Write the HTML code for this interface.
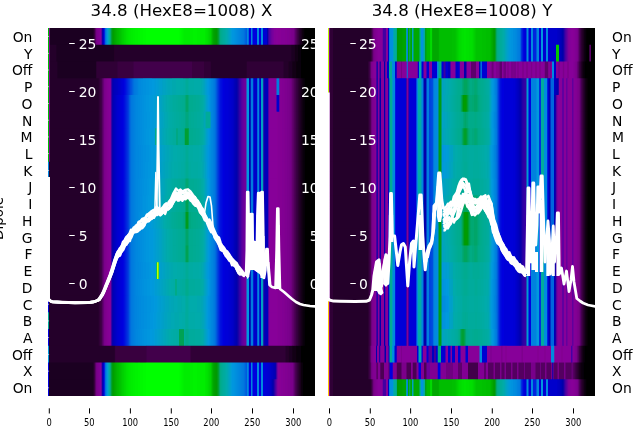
<!DOCTYPE html>
<html><head><meta charset="utf-8"><title>34.8 (HexE8=1008)</title>
<style>
html,body{margin:0;padding:0;background:#fff}
svg{display:block;font-family:"DejaVu Sans","Liberation Sans",sans-serif}
.ln polyline{fill:none;stroke:#fff;stroke-linejoin:round;stroke-linecap:butt}
</style></head><body>
<svg width="640" height="440" viewBox="0 0 640 440">
<rect width="640" height="440" fill="#fff"/>
<defs><filter id="gf" filterUnits="userSpaceOnUse" x="0" y="0" width="640" height="440"><feOffset dx="0" dy="0"/></filter><clipPath id="cl"><rect x="48" y="28" width="267.1" height="368"/></clipPath><clipPath id="cr"><rect x="328" y="28" width="267" height="368"/></clipPath></defs>
<g clip-path="url(#cl)">
<g stroke-width="18" fill="none">
<g transform="translate(0,28.000)"><path stroke="#00bd00" d="M48 9h1"/><path stroke="#810093" d="M49 9h1"/><path stroke="#1b0021" d="M50 9h43"/><path stroke="#24002a" d="M93 9h1"/><path stroke="#39003f" d="M94 9h1"/><path stroke="#5a0066" d="M95 9h1"/><path stroke="#750084" d="M96 9h1"/><path stroke="#7b008d" d="M97 9h1"/><path stroke="#7e0090" d="M98 9h1"/><path stroke="#810093" d="M99 9h1"/><path stroke="#870096" d="M100 9h1"/><path stroke="#60009f" d="M101 9h1"/><path stroke="#0c00ab" d="M102 9h1"/><path stroke="#0000cc" d="M103 9h1"/><path stroke="#0024de" d="M104 9h1"/><path stroke="#006cde" d="M105 9h1"/><path stroke="#0087de" d="M106 9h1"/><path stroke="#0099d8" d="M107 9h1"/><path stroke="#00a5ba" d="M108 9h1"/><path stroke="#00ab9f" d="M109 9h1"/><path stroke="#00a87b" d="M110 9h1"/><path stroke="#009f39" d="M111 9h1"/><path stroke="#009c0f" d="M112 9h1"/><path stroke="#009f00" d="M113 9h1"/><path stroke="#00a500" d="M114 9h1"/><path stroke="#00ab00" d="M115 9h1"/><path stroke="#00b100" d="M116 9h1"/><path stroke="#00b700" d="M117 9h1"/><path stroke="#00ba00" d="M118 9h1"/><path stroke="#00c000" d="M119 9h1"/><path stroke="#00c300" d="M120 9h1"/><path stroke="#00c900" d="M121 9h1"/><path stroke="#00cf00" d="M122 9h1"/><path stroke="#00d200" d="M123 9h1"/><path stroke="#00d800" d="M124 9h1"/><path stroke="#00db00" d="M125 9h1"/><path stroke="#00e100" d="M126 9h1"/><path stroke="#00e400" d="M127 9h1"/><path stroke="#00e700" d="M128 9h1"/><path stroke="#00ea00" d="M129 9h2"/><path stroke="#00ed00" d="M131 9h2"/><path stroke="#00f000" d="M133 9h2"/><path stroke="#00f300" d="M135 9h3"/><path stroke="#00f600" d="M138 9h2"/><path stroke="#00f900" d="M140 9h3"/><path stroke="#00fc00" d="M143 9h3"/><path stroke="#00ff00" d="M146 9h33"/><path stroke="#00fc00" d="M179 9h1"/><path stroke="#00f900" d="M180 9h1"/><path stroke="#00f600" d="M181 9h1"/><path stroke="#00f300" d="M182 9h1"/><path stroke="#00f000" d="M183 9h1"/><path stroke="#00ed00" d="M184 9h6"/><path stroke="#00f000" d="M190 9h3"/><path stroke="#00f300" d="M193 9h4"/><path stroke="#00f000" d="M197 9h3"/><path stroke="#00ed00" d="M200 9h5"/><path stroke="#00e700" d="M205 9h1"/><path stroke="#00e400" d="M206 9h1"/><path stroke="#00e100" d="M207 9h1"/><path stroke="#00db00" d="M208 9h1"/><path stroke="#00d500" d="M209 9h1"/><path stroke="#00d200" d="M210 9h1"/><path stroke="#00c300" d="M211 9h1"/><path stroke="#00b100" d="M212 9h1"/><path stroke="#00a500" d="M213 9h1"/><path stroke="#009f00" d="M214 9h1"/><path stroke="#009c00" d="M215 9h1"/><path stroke="#009903" d="M216 9h1"/><path stroke="#009c15" d="M217 9h1"/><path stroke="#009f33" d="M218 9h1"/><path stroke="#00a563" d="M219 9h1"/><path stroke="#00ab87" d="M220 9h1"/><path stroke="#00ab90" d="M221 9h1"/><path stroke="#00ab96" d="M222 9h1"/><path stroke="#00ab9c" d="M223 9h1"/><path stroke="#00ab9f" d="M224 9h1"/><path stroke="#00aba5" d="M225 9h1"/><path stroke="#00abab" d="M226 9h1"/><path stroke="#00a8b1" d="M227 9h1"/><path stroke="#00a5ba" d="M228 9h1"/><path stroke="#00a2c3" d="M229 9h1"/><path stroke="#009fcf" d="M230 9h1"/><path stroke="#009cd8" d="M231 9h1"/><path stroke="#0096de" d="M232 9h2"/><path stroke="#0093de" d="M234 9h1"/><path stroke="#0090de" d="M235 9h1"/><path stroke="#008dde" d="M236 9h1"/><path stroke="#008ade" d="M237 9h1"/><path stroke="#0087de" d="M238 9h1"/><path stroke="#0084de" d="M239 9h1"/><path stroke="#0081de" d="M240 9h1"/><path stroke="#007ede" d="M241 9h1"/><path stroke="#007bde" d="M242 9h1"/><path stroke="#0078de" d="M243 9h1"/><path stroke="#006fde" d="M244 9h1"/><path stroke="#0063de" d="M245 9h1"/><path stroke="#005ade" d="M246 9h1"/><path stroke="#008ade" d="M247 9h1"/><path stroke="#006cde" d="M248 9h1"/><path stroke="#0000de" d="M249 9h2"/><path stroke="#0084de" d="M251 9h1"/><path stroke="#0042de" d="M252 9h1"/><path stroke="#0000de" d="M253 9h4"/><path stroke="#008ade" d="M257 9h2"/><path stroke="#0000de" d="M259 9h2"/><path stroke="#008ade" d="M261 9h2"/><path stroke="#0000d2" d="M263 9h4"/><path stroke="#0300ab" d="M267 9h1"/><path stroke="#3300a5" d="M268 9h1"/><path stroke="#51009f" d="M269 9h1"/><path stroke="#5d009f" d="M270 9h1"/><path stroke="#6c009c" d="M271 9h1"/><path stroke="#75009c" d="M272 9h1"/><path stroke="#7b009c" d="M273 9h1"/><path stroke="#840099" d="M274 9h2"/><path stroke="#870099" d="M276 9h2"/><path stroke="#870096" d="M278 9h3"/><path stroke="#840096" d="M281 9h4"/><path stroke="#840093" d="M285 9h2"/><path stroke="#810093" d="M287 9h2"/><path stroke="#810090" d="M289 9h1"/><path stroke="#7e0090" d="M290 9h1"/><path stroke="#7b008d" d="M291 9h1"/><path stroke="#7b008a" d="M292 9h1"/><path stroke="#78008a" d="M293 9h1"/><path stroke="#6c007b" d="M294 9h1"/><path stroke="#5a0069" d="M295 9h1"/><path stroke="#4e0057" d="M296 9h1"/><path stroke="#3f0048" d="M297 9h1"/><path stroke="#33003c" d="M298 9h1"/><path stroke="#27002d" d="M299 9h1"/><path stroke="#1e0024" d="M300 9h1"/><path stroke="#18001b" d="M301 9h1"/><path stroke="#0f000f" d="M302 9h1"/><path stroke="#09000c" d="M303 9h1"/><path stroke="#030003" d="M304 9h1"/><path stroke="#000000" d="M305 9h10"/></g>
<g transform="translate(0,44.727)"><path stroke="#00bd00" d="M48 9h1"/><path stroke="#810093" d="M49 9h1"/><path stroke="#24002a" d="M50 9h6"/><path stroke="#1e0024" d="M56 9h1"/><path stroke="#1b0021" d="M57 9h57"/><path stroke="#240027" d="M114 9h1"/><path stroke="#24002a" d="M115 9h176"/><path stroke="#1e0024" d="M291 9h1"/><path stroke="#1b0021" d="M292 9h2"/><path stroke="#1b001e" d="M294 9h1"/><path stroke="#120015" d="M295 9h3"/><path stroke="#09000c" d="M298 9h3"/><path stroke="#000000" d="M301 9h14"/></g>
<g transform="translate(0,61.455)"><path stroke="#00bd00" d="M48 9h1"/><path stroke="#810093" d="M49 9h1"/><path stroke="#24002a" d="M50 9h7"/><path stroke="#1e0024" d="M57 9h1"/><path stroke="#1b0021" d="M58 9h38"/><path stroke="#2a0030" d="M96 9h1"/><path stroke="#300036" d="M97 9h20"/><path stroke="#33003c" d="M117 9h1"/><path stroke="#39003f" d="M118 9h15"/><path stroke="#3c0045" d="M133 9h1"/><path stroke="#42004b" d="M134 9h58"/><path stroke="#39003f" d="M192 9h12"/><path stroke="#300036" d="M204 9h6"/><path stroke="#2d0033" d="M210 9h1"/><path stroke="#24002a" d="M211 9h35"/><path stroke="#27002d" d="M246 9h1"/><path stroke="#300036" d="M247 9h36"/><path stroke="#2a0030" d="M283 9h1"/><path stroke="#24002a" d="M284 9h4"/><path stroke="#210024" d="M288 9h1"/><path stroke="#1b0021" d="M289 9h3"/><path stroke="#150018" d="M292 9h1"/><path stroke="#120015" d="M293 9h3"/><path stroke="#0c000c" d="M296 9h1"/><path stroke="#09000c" d="M297 9h4"/><path stroke="#000000" d="M301 9h14"/></g>
<g transform="translate(0,78.182)"><path stroke="#00bd00" d="M48 9h1"/><path stroke="#810093" d="M49 9h1"/><path stroke="#24002a" d="M50 9h48"/><path stroke="#27002d" d="M98 9h1"/><path stroke="#300036" d="M99 9h1"/><path stroke="#39003f" d="M100 9h1"/><path stroke="#3f0048" d="M101 9h1"/><path stroke="#540060" d="M102 9h1"/><path stroke="#660075" d="M103 9h1"/><path stroke="#78008a" d="M104 9h1"/><path stroke="#7e008d" d="M105 9h1"/><path stroke="#810090" d="M106 9h1"/><path stroke="#840093" d="M107 9h1"/><path stroke="#840096" d="M108 9h1"/><path stroke="#870096" d="M109 9h1"/><path stroke="#810099" d="M110 9h1"/><path stroke="#3c00a2" d="M111 9h1"/><path stroke="#0900ab" d="M112 9h1"/><path stroke="#0000b4" d="M113 9h1"/><path stroke="#0000ba" d="M114 9h1"/><path stroke="#0000bd" d="M115 9h1"/><path stroke="#0000c0" d="M116 9h1"/><path stroke="#0000c3" d="M117 9h1"/><path stroke="#0000c9" d="M118 9h1"/><path stroke="#0000cc" d="M119 9h1"/><path stroke="#0000cf" d="M120 9h1"/><path stroke="#0000d5" d="M121 9h1"/><path stroke="#0000d8" d="M122 9h1"/><path stroke="#0000db" d="M123 9h1"/><path stroke="#0006de" d="M124 9h1"/><path stroke="#000fde" d="M125 9h1"/><path stroke="#001bde" d="M126 9h1"/><path stroke="#0027de" d="M127 9h1"/><path stroke="#0033de" d="M128 9h1"/><path stroke="#003fde" d="M129 9h1"/><path stroke="#004ede" d="M130 9h1"/><path stroke="#0057de" d="M131 9h1"/><path stroke="#0063de" d="M132 9h1"/><path stroke="#006fde" d="M133 9h1"/><path stroke="#0078de" d="M134 9h1"/><path stroke="#007bde" d="M135 9h1"/><path stroke="#007ede" d="M136 9h1"/><path stroke="#0081de" d="M137 9h1"/><path stroke="#0087de" d="M138 9h1"/><path stroke="#008ade" d="M139 9h2"/><path stroke="#008dde" d="M141 9h2"/><path stroke="#0090de" d="M143 9h3"/><path stroke="#0093de" d="M146 9h3"/><path stroke="#0096de" d="M149 9h3"/><path stroke="#0099de" d="M152 9h2"/><path stroke="#0099db" d="M154 9h1"/><path stroke="#0099d8" d="M155 9h1"/><path stroke="#009cd8" d="M156 9h1"/><path stroke="#009cd5" d="M157 9h1"/><path stroke="#009cd2" d="M158 9h1"/><path stroke="#009fcf" d="M159 9h1"/><path stroke="#009fcc" d="M160 9h2"/><path stroke="#009fc6" d="M162 9h1"/><path stroke="#00a2c3" d="M163 9h2"/><path stroke="#00a2c0" d="M165 9h1"/><path stroke="#00a5bd" d="M166 9h1"/><path stroke="#00a5ba" d="M167 9h1"/><path stroke="#00a5b7" d="M168 9h2"/><path stroke="#00a8b4" d="M170 9h2"/><path stroke="#00a8ae" d="M172 9h4"/><path stroke="#00abab" d="M176 9h4"/><path stroke="#00aba8" d="M180 9h3"/><path stroke="#00aba5" d="M183 9h2"/><path stroke="#00ab9f" d="M185 9h1"/><path stroke="#00ab99" d="M186 9h2"/><path stroke="#00ab9f" d="M188 9h1"/><path stroke="#00aba5" d="M189 9h5"/><path stroke="#00aba8" d="M194 9h6"/><path stroke="#00abab" d="M200 9h1"/><path stroke="#00a8ae" d="M201 9h1"/><path stroke="#00a8b4" d="M202 9h1"/><path stroke="#00a5ba" d="M203 9h1"/><path stroke="#00a2c0" d="M204 9h1"/><path stroke="#009fcc" d="M205 9h1"/><path stroke="#009cd2" d="M206 9h1"/><path stroke="#0099db" d="M207 9h1"/><path stroke="#0096de" d="M208 9h1"/><path stroke="#0090de" d="M209 9h1"/><path stroke="#008dde" d="M210 9h1"/><path stroke="#0087de" d="M211 9h1"/><path stroke="#0084de" d="M212 9h1"/><path stroke="#007ede" d="M213 9h1"/><path stroke="#0078de" d="M214 9h1"/><path stroke="#006cde" d="M215 9h1"/><path stroke="#005ade" d="M216 9h1"/><path stroke="#0045de" d="M217 9h1"/><path stroke="#0033de" d="M218 9h1"/><path stroke="#0021de" d="M219 9h1"/><path stroke="#0012de" d="M220 9h1"/><path stroke="#000cde" d="M221 9h1"/><path stroke="#0006de" d="M222 9h1"/><path stroke="#0000de" d="M223 9h1"/><path stroke="#0000db" d="M224 9h1"/><path stroke="#0000d8" d="M225 9h3"/><path stroke="#0000d5" d="M228 9h1"/><path stroke="#0000d2" d="M229 9h1"/><path stroke="#0000cf" d="M230 9h1"/><path stroke="#0000cc" d="M231 9h1"/><path stroke="#0000c9" d="M232 9h1"/><path stroke="#0000c3" d="M233 9h1"/><path stroke="#0000ba" d="M234 9h1"/><path stroke="#0000b4" d="M235 9h1"/><path stroke="#0000ae" d="M236 9h1"/><path stroke="#0c00a8" d="M237 9h1"/><path stroke="#1e00a5" d="M238 9h1"/><path stroke="#3300a5" d="M239 9h1"/><path stroke="#3f00a2" d="M240 9h1"/><path stroke="#51009f" d="M241 9h1"/><path stroke="#5d009f" d="M242 9h1"/><path stroke="#66009c" d="M243 9h1"/><path stroke="#6c009c" d="M244 9h1"/><path stroke="#6f009c" d="M245 9h1"/><path stroke="#3c4bbd" d="M246 9h1"/><path stroke="#0099de" d="M247 9h2"/><path stroke="#0000b1" d="M249 9h1"/><path stroke="#001ebd" d="M250 9h1"/><path stroke="#007bde" d="M251 9h2"/><path stroke="#001ecf" d="M253 9h1"/><path stroke="#0000c9" d="M254 9h3"/><path stroke="#0066d8" d="M257 9h1"/><path stroke="#0087de" d="M258 9h1"/><path stroke="#0021cf" d="M259 9h1"/><path stroke="#0000c9" d="M260 9h1"/><path stroke="#00a2c3" d="M261 9h2"/><path stroke="#1b27ae" d="M263 9h1"/><path stroke="#0c00b1" d="M264 9h1"/><path stroke="#0000ba" d="M265 9h3"/><path stroke="#5100a5" d="M268 9h1"/><path stroke="#840099" d="M269 9h1"/><path stroke="#870099" d="M270 9h6"/><path stroke="#453fba" d="M276 9h1"/><path stroke="#007ede" d="M277 9h2"/><path stroke="#631ea8" d="M279 9h1"/><path stroke="#840093" d="M280 9h2"/><path stroke="#810093" d="M282 9h2"/><path stroke="#810090" d="M284 9h1"/><path stroke="#7e0090" d="M285 9h2"/><path stroke="#7b008d" d="M287 9h2"/><path stroke="#78008a" d="M289 9h1"/><path stroke="#750087" d="M290 9h1"/><path stroke="#6f007e" d="M291 9h1"/><path stroke="#63006f" d="M292 9h1"/><path stroke="#5a0066" d="M293 9h1"/><path stroke="#4e0057" d="M294 9h1"/><path stroke="#45004e" d="M295 9h1"/><path stroke="#390042" d="M296 9h1"/><path stroke="#33003c" d="M297 9h1"/><path stroke="#2a0030" d="M298 9h1"/><path stroke="#240027" d="M299 9h1"/><path stroke="#1b0021" d="M300 9h1"/><path stroke="#150018" d="M301 9h1"/><path stroke="#0f0012" d="M302 9h1"/><path stroke="#09000c" d="M303 9h1"/><path stroke="#060009" d="M304 9h1"/><path stroke="#000000" d="M305 9h10"/></g>
<g transform="translate(0,94.909)"><path stroke="#00bd00" d="M48 9h1"/><path stroke="#810093" d="M49 9h1"/><path stroke="#24002a" d="M50 9h48"/><path stroke="#27002d" d="M98 9h1"/><path stroke="#300036" d="M99 9h1"/><path stroke="#39003f" d="M100 9h1"/><path stroke="#3f0048" d="M101 9h1"/><path stroke="#540060" d="M102 9h1"/><path stroke="#660075" d="M103 9h1"/><path stroke="#78008a" d="M104 9h1"/><path stroke="#7e008d" d="M105 9h1"/><path stroke="#810090" d="M106 9h1"/><path stroke="#840093" d="M107 9h1"/><path stroke="#840096" d="M108 9h1"/><path stroke="#870096" d="M109 9h1"/><path stroke="#810099" d="M110 9h1"/><path stroke="#3c00a2" d="M111 9h1"/><path stroke="#0900ab" d="M112 9h1"/><path stroke="#0000b7" d="M113 9h1"/><path stroke="#0000bd" d="M114 9h1"/><path stroke="#0000c3" d="M115 9h1"/><path stroke="#0000c9" d="M116 9h1"/><path stroke="#0000cf" d="M117 9h1"/><path stroke="#0000d2" d="M118 9h1"/><path stroke="#0000d5" d="M119 9h1"/><path stroke="#0000d8" d="M120 9h1"/><path stroke="#0000db" d="M121 9h1"/><path stroke="#0000de" d="M122 9h1"/><path stroke="#0006de" d="M123 9h1"/><path stroke="#000fde" d="M124 9h1"/><path stroke="#001bde" d="M125 9h1"/><path stroke="#0027de" d="M126 9h1"/><path stroke="#0033de" d="M127 9h1"/><path stroke="#0042de" d="M128 9h1"/><path stroke="#005ade" d="M129 9h1"/><path stroke="#006cde" d="M130 9h1"/><path stroke="#0078de" d="M131 9h1"/><path stroke="#007bde" d="M132 9h1"/><path stroke="#007ede" d="M133 9h1"/><path stroke="#0081de" d="M134 9h1"/><path stroke="#0084de" d="M135 9h1"/><path stroke="#0087de" d="M136 9h2"/><path stroke="#008ade" d="M138 9h2"/><path stroke="#008dde" d="M140 9h2"/><path stroke="#0090de" d="M142 9h2"/><path stroke="#0093de" d="M144 9h2"/><path stroke="#0096de" d="M146 9h3"/><path stroke="#0099de" d="M149 9h1"/><path stroke="#0099db" d="M150 9h3"/><path stroke="#009cd8" d="M153 9h1"/><path stroke="#009cd5" d="M154 9h1"/><path stroke="#009cd2" d="M155 9h1"/><path stroke="#009fcf" d="M156 9h1"/><path stroke="#009fcc" d="M157 9h1"/><path stroke="#009fc9" d="M158 9h1"/><path stroke="#00a2c6" d="M159 9h1"/><path stroke="#00a2c3" d="M160 9h1"/><path stroke="#00a2c0" d="M161 9h1"/><path stroke="#00a5ba" d="M162 9h1"/><path stroke="#00a5b7" d="M163 9h1"/><path stroke="#00a8b4" d="M164 9h1"/><path stroke="#00a8b1" d="M165 9h1"/><path stroke="#00a8ab" d="M166 9h1"/><path stroke="#00abab" d="M167 9h1"/><path stroke="#00aba8" d="M168 9h1"/><path stroke="#00aba5" d="M169 9h1"/><path stroke="#00aba2" d="M170 9h2"/><path stroke="#00ab9f" d="M172 9h1"/><path stroke="#00ab9c" d="M173 9h3"/><path stroke="#00ab99" d="M176 9h2"/><path stroke="#00ab96" d="M178 9h2"/><path stroke="#00ab93" d="M180 9h2"/><path stroke="#00ab90" d="M182 9h2"/><path stroke="#00ab8d" d="M184 9h1"/><path stroke="#00a87b" d="M185 9h1"/><path stroke="#00a569" d="M186 9h2"/><path stroke="#00a87b" d="M188 9h1"/><path stroke="#00ab8d" d="M189 9h1"/><path stroke="#00ab90" d="M190 9h3"/><path stroke="#00ab93" d="M193 9h3"/><path stroke="#00ab96" d="M196 9h3"/><path stroke="#00ab99" d="M199 9h1"/><path stroke="#00ab9c" d="M200 9h1"/><path stroke="#00ab9f" d="M201 9h1"/><path stroke="#00aba2" d="M202 9h1"/><path stroke="#00aba8" d="M203 9h1"/><path stroke="#00a8b1" d="M204 9h1"/><path stroke="#00a5bd" d="M205 9h1"/><path stroke="#009fc9" d="M206 9h1"/><path stroke="#009cd2" d="M207 9h1"/><path stroke="#0099db" d="M208 9h1"/><path stroke="#0093de" d="M209 9h1"/><path stroke="#008dde" d="M210 9h1"/><path stroke="#0087de" d="M211 9h1"/><path stroke="#0084de" d="M212 9h1"/><path stroke="#007ede" d="M213 9h1"/><path stroke="#0078de" d="M214 9h1"/><path stroke="#006cde" d="M215 9h1"/><path stroke="#005ade" d="M216 9h1"/><path stroke="#0045de" d="M217 9h1"/><path stroke="#0033de" d="M218 9h1"/><path stroke="#0021de" d="M219 9h1"/><path stroke="#0012de" d="M220 9h1"/><path stroke="#000cde" d="M221 9h1"/><path stroke="#0006de" d="M222 9h1"/><path stroke="#0000de" d="M223 9h1"/><path stroke="#0000db" d="M224 9h1"/><path stroke="#0000d8" d="M225 9h3"/><path stroke="#0000d5" d="M228 9h1"/><path stroke="#0000d2" d="M229 9h1"/><path stroke="#0000cf" d="M230 9h1"/><path stroke="#0000cc" d="M231 9h1"/><path stroke="#0000c9" d="M232 9h1"/><path stroke="#0000c3" d="M233 9h1"/><path stroke="#0000ba" d="M234 9h1"/><path stroke="#0000b4" d="M235 9h1"/><path stroke="#0000ae" d="M236 9h1"/><path stroke="#0c00a8" d="M237 9h1"/><path stroke="#1e00a5" d="M238 9h1"/><path stroke="#3300a5" d="M239 9h1"/><path stroke="#3f00a2" d="M240 9h1"/><path stroke="#51009f" d="M241 9h1"/><path stroke="#5d009f" d="M242 9h1"/><path stroke="#66009c" d="M243 9h1"/><path stroke="#6c009c" d="M244 9h1"/><path stroke="#6f009c" d="M245 9h1"/><path stroke="#3c4bbd" d="M246 9h1"/><path stroke="#0099de" d="M247 9h2"/><path stroke="#0000b1" d="M249 9h1"/><path stroke="#001ebd" d="M250 9h1"/><path stroke="#007bde" d="M251 9h2"/><path stroke="#001ecf" d="M253 9h1"/><path stroke="#0000c9" d="M254 9h3"/><path stroke="#0066d8" d="M257 9h1"/><path stroke="#0087de" d="M258 9h1"/><path stroke="#0021cf" d="M259 9h1"/><path stroke="#0000c9" d="M260 9h1"/><path stroke="#00a2c3" d="M261 9h2"/><path stroke="#1b27ae" d="M263 9h1"/><path stroke="#0c00b1" d="M264 9h1"/><path stroke="#0000ba" d="M265 9h3"/><path stroke="#5100a5" d="M268 9h1"/><path stroke="#840099" d="M269 9h1"/><path stroke="#870099" d="M270 9h6"/><path stroke="#4500b4" d="M276 9h1"/><path stroke="#0000cc" d="M277 9h2"/><path stroke="#6300a5" d="M279 9h1"/><path stroke="#840093" d="M280 9h2"/><path stroke="#810093" d="M282 9h2"/><path stroke="#810090" d="M284 9h1"/><path stroke="#7e0090" d="M285 9h2"/><path stroke="#7b008d" d="M287 9h2"/><path stroke="#78008a" d="M289 9h1"/><path stroke="#750087" d="M290 9h1"/><path stroke="#6f007e" d="M291 9h1"/><path stroke="#63006f" d="M292 9h1"/><path stroke="#5a0066" d="M293 9h1"/><path stroke="#4e0057" d="M294 9h1"/><path stroke="#45004e" d="M295 9h1"/><path stroke="#390042" d="M296 9h1"/><path stroke="#33003c" d="M297 9h1"/><path stroke="#2a0030" d="M298 9h1"/><path stroke="#240027" d="M299 9h1"/><path stroke="#1b0021" d="M300 9h1"/><path stroke="#150018" d="M301 9h1"/><path stroke="#0f0012" d="M302 9h1"/><path stroke="#09000c" d="M303 9h1"/><path stroke="#060009" d="M304 9h1"/><path stroke="#000000" d="M305 9h10"/></g>
<g transform="translate(0,111.636)"><path stroke="#00bd00" d="M48 9h1"/><path stroke="#810093" d="M49 9h1"/><path stroke="#24002a" d="M50 9h48"/><path stroke="#27002d" d="M98 9h1"/><path stroke="#300036" d="M99 9h1"/><path stroke="#39003f" d="M100 9h1"/><path stroke="#3f0048" d="M101 9h1"/><path stroke="#540060" d="M102 9h1"/><path stroke="#660075" d="M103 9h1"/><path stroke="#78008a" d="M104 9h1"/><path stroke="#7e008d" d="M105 9h1"/><path stroke="#810090" d="M106 9h1"/><path stroke="#840093" d="M107 9h1"/><path stroke="#840096" d="M108 9h1"/><path stroke="#870096" d="M109 9h1"/><path stroke="#810099" d="M110 9h1"/><path stroke="#3c00a2" d="M111 9h1"/><path stroke="#0900ab" d="M112 9h1"/><path stroke="#0000b7" d="M113 9h1"/><path stroke="#0000bd" d="M114 9h1"/><path stroke="#0000c3" d="M115 9h1"/><path stroke="#0000c9" d="M116 9h1"/><path stroke="#0000cf" d="M117 9h1"/><path stroke="#0000d2" d="M118 9h1"/><path stroke="#0000d5" d="M119 9h1"/><path stroke="#0000d8" d="M120 9h1"/><path stroke="#0000db" d="M121 9h1"/><path stroke="#0000de" d="M122 9h1"/><path stroke="#0006de" d="M123 9h1"/><path stroke="#000fde" d="M124 9h1"/><path stroke="#001bde" d="M125 9h1"/><path stroke="#0027de" d="M126 9h1"/><path stroke="#0033de" d="M127 9h1"/><path stroke="#0042de" d="M128 9h1"/><path stroke="#005ade" d="M129 9h1"/><path stroke="#006cde" d="M130 9h1"/><path stroke="#0078de" d="M131 9h1"/><path stroke="#007bde" d="M132 9h1"/><path stroke="#007ede" d="M133 9h1"/><path stroke="#0081de" d="M134 9h1"/><path stroke="#0084de" d="M135 9h1"/><path stroke="#0087de" d="M136 9h2"/><path stroke="#008ade" d="M138 9h2"/><path stroke="#008dde" d="M140 9h2"/><path stroke="#0090de" d="M142 9h2"/><path stroke="#0093de" d="M144 9h3"/><path stroke="#0096de" d="M147 9h3"/><path stroke="#0099de" d="M150 9h2"/><path stroke="#0099db" d="M152 9h2"/><path stroke="#009cd8" d="M154 9h1"/><path stroke="#009cd2" d="M155 9h2"/><path stroke="#009fcf" d="M157 9h1"/><path stroke="#009fcc" d="M158 9h1"/><path stroke="#009fc9" d="M159 9h1"/><path stroke="#00a2c6" d="M160 9h1"/><path stroke="#00a2c3" d="M161 9h1"/><path stroke="#00a2c0" d="M162 9h1"/><path stroke="#00a5bd" d="M163 9h1"/><path stroke="#00a5b7" d="M164 9h1"/><path stroke="#00a8b4" d="M165 9h1"/><path stroke="#00a8b1" d="M166 9h1"/><path stroke="#00a8ae" d="M167 9h1"/><path stroke="#00abab" d="M168 9h1"/><path stroke="#00aba8" d="M169 9h1"/><path stroke="#00aba5" d="M170 9h2"/><path stroke="#00aba2" d="M172 9h2"/><path stroke="#00ab9f" d="M174 9h2"/><path stroke="#00ab9c" d="M176 9h3"/><path stroke="#00ab99" d="M179 9h2"/><path stroke="#00ab96" d="M181 9h2"/><path stroke="#00ab93" d="M183 9h2"/><path stroke="#00a887" d="M185 9h1"/><path stroke="#00a87e" d="M186 9h2"/><path stroke="#00a887" d="M188 9h1"/><path stroke="#00ab93" d="M189 9h2"/><path stroke="#00ab96" d="M191 9h3"/><path stroke="#00ab99" d="M194 9h3"/><path stroke="#00ab9c" d="M197 9h3"/><path stroke="#00ab9f" d="M200 9h1"/><path stroke="#00aba2" d="M201 9h1"/><path stroke="#00aba5" d="M202 9h1"/><path stroke="#00a8ab" d="M203 9h1"/><path stroke="#00a5b7" d="M204 9h1"/><path stroke="#00a8ab" d="M205 9h1"/><path stroke="#00ab99" d="M206 9h4"/><path stroke="#009cba" d="M210 9h1"/><path stroke="#0087de" d="M211 9h1"/><path stroke="#0084de" d="M212 9h1"/><path stroke="#007ede" d="M213 9h1"/><path stroke="#0078de" d="M214 9h1"/><path stroke="#006cde" d="M215 9h1"/><path stroke="#005ade" d="M216 9h1"/><path stroke="#0045de" d="M217 9h1"/><path stroke="#0033de" d="M218 9h1"/><path stroke="#0021de" d="M219 9h1"/><path stroke="#0012de" d="M220 9h1"/><path stroke="#000cde" d="M221 9h1"/><path stroke="#0006de" d="M222 9h1"/><path stroke="#0000de" d="M223 9h1"/><path stroke="#0000db" d="M224 9h1"/><path stroke="#0000d8" d="M225 9h3"/><path stroke="#0000d5" d="M228 9h1"/><path stroke="#0000d2" d="M229 9h1"/><path stroke="#0000cf" d="M230 9h1"/><path stroke="#0000cc" d="M231 9h1"/><path stroke="#0000c9" d="M232 9h1"/><path stroke="#0000c3" d="M233 9h1"/><path stroke="#0000ba" d="M234 9h1"/><path stroke="#0000b4" d="M235 9h1"/><path stroke="#0000ae" d="M236 9h1"/><path stroke="#0c00a8" d="M237 9h1"/><path stroke="#1e00a5" d="M238 9h1"/><path stroke="#3300a5" d="M239 9h1"/><path stroke="#3f00a2" d="M240 9h1"/><path stroke="#51009f" d="M241 9h1"/><path stroke="#5d009f" d="M242 9h1"/><path stroke="#66009c" d="M243 9h1"/><path stroke="#6c009c" d="M244 9h1"/><path stroke="#6f009c" d="M245 9h1"/><path stroke="#3c4bbd" d="M246 9h1"/><path stroke="#0099de" d="M247 9h2"/><path stroke="#0000b1" d="M249 9h1"/><path stroke="#001ebd" d="M250 9h1"/><path stroke="#007bde" d="M251 9h2"/><path stroke="#001ecf" d="M253 9h1"/><path stroke="#0000c9" d="M254 9h3"/><path stroke="#0066d8" d="M257 9h1"/><path stroke="#0087de" d="M258 9h1"/><path stroke="#0021cf" d="M259 9h1"/><path stroke="#0000c9" d="M260 9h1"/><path stroke="#00a2c3" d="M261 9h2"/><path stroke="#1b27ae" d="M263 9h1"/><path stroke="#0c00b1" d="M264 9h1"/><path stroke="#0000ba" d="M265 9h3"/><path stroke="#5100a5" d="M268 9h1"/><path stroke="#840099" d="M269 9h1"/><path stroke="#870099" d="M270 9h7"/><path stroke="#870096" d="M277 9h1"/><path stroke="#840096" d="M278 9h2"/><path stroke="#840093" d="M280 9h2"/><path stroke="#810093" d="M282 9h2"/><path stroke="#810090" d="M284 9h1"/><path stroke="#7e0090" d="M285 9h2"/><path stroke="#7b008d" d="M287 9h2"/><path stroke="#78008a" d="M289 9h1"/><path stroke="#750087" d="M290 9h1"/><path stroke="#6f007e" d="M291 9h1"/><path stroke="#63006f" d="M292 9h1"/><path stroke="#5a0066" d="M293 9h1"/><path stroke="#4e0057" d="M294 9h1"/><path stroke="#45004e" d="M295 9h1"/><path stroke="#390042" d="M296 9h1"/><path stroke="#33003c" d="M297 9h1"/><path stroke="#2a0030" d="M298 9h1"/><path stroke="#240027" d="M299 9h1"/><path stroke="#1b0021" d="M300 9h1"/><path stroke="#150018" d="M301 9h1"/><path stroke="#0f0012" d="M302 9h1"/><path stroke="#09000c" d="M303 9h1"/><path stroke="#060009" d="M304 9h1"/><path stroke="#000000" d="M305 9h10"/></g>
<g transform="translate(0,128.364)"><path stroke="#00bd00" d="M48 9h1"/><path stroke="#810093" d="M49 9h1"/><path stroke="#24002a" d="M50 9h48"/><path stroke="#27002d" d="M98 9h1"/><path stroke="#300036" d="M99 9h1"/><path stroke="#39003f" d="M100 9h1"/><path stroke="#3f0048" d="M101 9h1"/><path stroke="#540060" d="M102 9h1"/><path stroke="#660075" d="M103 9h1"/><path stroke="#78008a" d="M104 9h1"/><path stroke="#7e008d" d="M105 9h1"/><path stroke="#810090" d="M106 9h1"/><path stroke="#840093" d="M107 9h1"/><path stroke="#840096" d="M108 9h1"/><path stroke="#870096" d="M109 9h1"/><path stroke="#810099" d="M110 9h1"/><path stroke="#3c00a2" d="M111 9h1"/><path stroke="#0900ab" d="M112 9h1"/><path stroke="#0000b7" d="M113 9h1"/><path stroke="#0000bd" d="M114 9h1"/><path stroke="#0000c3" d="M115 9h1"/><path stroke="#0000c9" d="M116 9h1"/><path stroke="#0000cf" d="M117 9h1"/><path stroke="#0000d2" d="M118 9h1"/><path stroke="#0000d5" d="M119 9h1"/><path stroke="#0000d8" d="M120 9h1"/><path stroke="#0000db" d="M121 9h1"/><path stroke="#0000de" d="M122 9h1"/><path stroke="#0006de" d="M123 9h1"/><path stroke="#000fde" d="M124 9h1"/><path stroke="#001bde" d="M125 9h1"/><path stroke="#0027de" d="M126 9h1"/><path stroke="#0033de" d="M127 9h1"/><path stroke="#0042de" d="M128 9h1"/><path stroke="#005ade" d="M129 9h1"/><path stroke="#006cde" d="M130 9h1"/><path stroke="#0078de" d="M131 9h1"/><path stroke="#007bde" d="M132 9h1"/><path stroke="#007ede" d="M133 9h1"/><path stroke="#0081de" d="M134 9h1"/><path stroke="#0084de" d="M135 9h1"/><path stroke="#0087de" d="M136 9h2"/><path stroke="#008ade" d="M138 9h2"/><path stroke="#008dde" d="M140 9h2"/><path stroke="#0090de" d="M142 9h2"/><path stroke="#0093de" d="M144 9h2"/><path stroke="#0096de" d="M146 9h3"/><path stroke="#0099de" d="M149 9h1"/><path stroke="#0099db" d="M150 9h3"/><path stroke="#009cd8" d="M153 9h1"/><path stroke="#009cd5" d="M154 9h1"/><path stroke="#00ab87" d="M155 9h1"/><path stroke="#00a5ab" d="M156 9h1"/><path stroke="#009fcc" d="M157 9h1"/><path stroke="#009fc9" d="M158 9h1"/><path stroke="#00a2c6" d="M159 9h1"/><path stroke="#00a2c3" d="M160 9h1"/><path stroke="#00a2c0" d="M161 9h1"/><path stroke="#00a5ba" d="M162 9h1"/><path stroke="#00a5b7" d="M163 9h1"/><path stroke="#00a8b4" d="M164 9h1"/><path stroke="#00a8b1" d="M165 9h1"/><path stroke="#00a8ab" d="M166 9h1"/><path stroke="#00abab" d="M167 9h1"/><path stroke="#00aba8" d="M168 9h1"/><path stroke="#00aba5" d="M169 9h1"/><path stroke="#00aba2" d="M170 9h2"/><path stroke="#00ab9f" d="M172 9h1"/><path stroke="#00ab9c" d="M173 9h3"/><path stroke="#00a884" d="M176 9h2"/><path stroke="#00ab96" d="M178 9h2"/><path stroke="#00ab93" d="M180 9h2"/><path stroke="#00ab90" d="M182 9h2"/><path stroke="#00a878" d="M184 9h1"/><path stroke="#009f33" d="M185 9h3"/><path stroke="#00a248" d="M188 9h1"/><path stroke="#00ab8d" d="M189 9h1"/><path stroke="#00ab90" d="M190 9h3"/><path stroke="#00ab93" d="M193 9h3"/><path stroke="#00ab96" d="M196 9h3"/><path stroke="#00ab99" d="M199 9h1"/><path stroke="#00ab9c" d="M200 9h1"/><path stroke="#00ab9f" d="M201 9h1"/><path stroke="#00aba2" d="M202 9h1"/><path stroke="#00aba8" d="M203 9h1"/><path stroke="#00a8b1" d="M204 9h1"/><path stroke="#00a5bd" d="M205 9h1"/><path stroke="#009fc9" d="M206 9h1"/><path stroke="#009cd2" d="M207 9h1"/><path stroke="#0099db" d="M208 9h1"/><path stroke="#0093de" d="M209 9h1"/><path stroke="#008dde" d="M210 9h1"/><path stroke="#0087de" d="M211 9h1"/><path stroke="#0084de" d="M212 9h1"/><path stroke="#007ede" d="M213 9h1"/><path stroke="#0078de" d="M214 9h1"/><path stroke="#006cde" d="M215 9h1"/><path stroke="#005ade" d="M216 9h1"/><path stroke="#0045de" d="M217 9h1"/><path stroke="#0033de" d="M218 9h1"/><path stroke="#0021de" d="M219 9h1"/><path stroke="#0012de" d="M220 9h1"/><path stroke="#000cde" d="M221 9h1"/><path stroke="#0006de" d="M222 9h1"/><path stroke="#0000de" d="M223 9h1"/><path stroke="#0000db" d="M224 9h1"/><path stroke="#0000d8" d="M225 9h3"/><path stroke="#0000d5" d="M228 9h1"/><path stroke="#0000d2" d="M229 9h1"/><path stroke="#0000cf" d="M230 9h1"/><path stroke="#0000cc" d="M231 9h1"/><path stroke="#0000c9" d="M232 9h1"/><path stroke="#0000c3" d="M233 9h1"/><path stroke="#0000ba" d="M234 9h1"/><path stroke="#0000b4" d="M235 9h1"/><path stroke="#0000ae" d="M236 9h1"/><path stroke="#0c00a8" d="M237 9h1"/><path stroke="#1e00a5" d="M238 9h1"/><path stroke="#3300a5" d="M239 9h1"/><path stroke="#3f00a2" d="M240 9h1"/><path stroke="#51009f" d="M241 9h1"/><path stroke="#5d009f" d="M242 9h1"/><path stroke="#66009c" d="M243 9h1"/><path stroke="#6c009c" d="M244 9h1"/><path stroke="#6f009c" d="M245 9h1"/><path stroke="#3c4bbd" d="M246 9h1"/><path stroke="#0099de" d="M247 9h2"/><path stroke="#0000b1" d="M249 9h1"/><path stroke="#001ebd" d="M250 9h1"/><path stroke="#007bde" d="M251 9h2"/><path stroke="#001ecf" d="M253 9h1"/><path stroke="#0000c9" d="M254 9h3"/><path stroke="#0066d8" d="M257 9h1"/><path stroke="#0087de" d="M258 9h1"/><path stroke="#0021cf" d="M259 9h1"/><path stroke="#0000c9" d="M260 9h1"/><path stroke="#00a2c3" d="M261 9h2"/><path stroke="#1b27ae" d="M263 9h1"/><path stroke="#0c00b1" d="M264 9h1"/><path stroke="#0000ba" d="M265 9h3"/><path stroke="#5100a5" d="M268 9h1"/><path stroke="#840099" d="M269 9h1"/><path stroke="#870099" d="M270 9h7"/><path stroke="#870096" d="M277 9h1"/><path stroke="#840096" d="M278 9h2"/><path stroke="#840093" d="M280 9h2"/><path stroke="#810093" d="M282 9h2"/><path stroke="#810090" d="M284 9h1"/><path stroke="#7e0090" d="M285 9h2"/><path stroke="#7b008d" d="M287 9h2"/><path stroke="#78008a" d="M289 9h1"/><path stroke="#750087" d="M290 9h1"/><path stroke="#6f007e" d="M291 9h1"/><path stroke="#63006f" d="M292 9h1"/><path stroke="#5a0066" d="M293 9h1"/><path stroke="#4e0057" d="M294 9h1"/><path stroke="#45004e" d="M295 9h1"/><path stroke="#390042" d="M296 9h1"/><path stroke="#33003c" d="M297 9h1"/><path stroke="#2a0030" d="M298 9h1"/><path stroke="#240027" d="M299 9h1"/><path stroke="#1b0021" d="M300 9h1"/><path stroke="#150018" d="M301 9h1"/><path stroke="#0f0012" d="M302 9h1"/><path stroke="#09000c" d="M303 9h1"/><path stroke="#060009" d="M304 9h1"/><path stroke="#000000" d="M305 9h10"/></g>
<g transform="translate(0,145.091)"><path stroke="#00bd00" d="M48 9h1"/><path stroke="#810093" d="M49 9h1"/><path stroke="#24002a" d="M50 9h48"/><path stroke="#27002d" d="M98 9h1"/><path stroke="#300036" d="M99 9h1"/><path stroke="#39003f" d="M100 9h1"/><path stroke="#3f0048" d="M101 9h1"/><path stroke="#540060" d="M102 9h1"/><path stroke="#660075" d="M103 9h1"/><path stroke="#78008a" d="M104 9h1"/><path stroke="#7e008d" d="M105 9h1"/><path stroke="#810090" d="M106 9h1"/><path stroke="#840093" d="M107 9h1"/><path stroke="#840096" d="M108 9h1"/><path stroke="#870096" d="M109 9h1"/><path stroke="#810099" d="M110 9h1"/><path stroke="#3c00a2" d="M111 9h1"/><path stroke="#0900ab" d="M112 9h1"/><path stroke="#0000b7" d="M113 9h1"/><path stroke="#0000bd" d="M114 9h1"/><path stroke="#0000c3" d="M115 9h1"/><path stroke="#0000c9" d="M116 9h1"/><path stroke="#0000cf" d="M117 9h1"/><path stroke="#0000d2" d="M118 9h1"/><path stroke="#0000d5" d="M119 9h1"/><path stroke="#0000d8" d="M120 9h1"/><path stroke="#0000db" d="M121 9h1"/><path stroke="#0000de" d="M122 9h1"/><path stroke="#0006de" d="M123 9h1"/><path stroke="#000fde" d="M124 9h1"/><path stroke="#001bde" d="M125 9h1"/><path stroke="#0027de" d="M126 9h1"/><path stroke="#0033de" d="M127 9h1"/><path stroke="#0042de" d="M128 9h1"/><path stroke="#005ade" d="M129 9h1"/><path stroke="#006cde" d="M130 9h1"/><path stroke="#0078de" d="M131 9h1"/><path stroke="#007bde" d="M132 9h1"/><path stroke="#007ede" d="M133 9h1"/><path stroke="#0081de" d="M134 9h1"/><path stroke="#0084de" d="M135 9h1"/><path stroke="#0087de" d="M136 9h3"/><path stroke="#008ade" d="M139 9h2"/><path stroke="#008dde" d="M141 9h2"/><path stroke="#0090de" d="M143 9h3"/><path stroke="#0093de" d="M146 9h3"/><path stroke="#0096de" d="M149 9h2"/><path stroke="#0099de" d="M151 9h2"/><path stroke="#0099db" d="M153 9h2"/><path stroke="#009cd8" d="M155 9h1"/><path stroke="#009cd5" d="M156 9h1"/><path stroke="#009cd2" d="M157 9h1"/><path stroke="#009ccf" d="M158 9h1"/><path stroke="#009fcf" d="M159 9h1"/><path stroke="#009fcc" d="M160 9h1"/><path stroke="#009fc9" d="M161 9h1"/><path stroke="#00a2c6" d="M162 9h1"/><path stroke="#00a2c3" d="M163 9h1"/><path stroke="#00a2c0" d="M164 9h1"/><path stroke="#00a5bd" d="M165 9h1"/><path stroke="#00a5ba" d="M166 9h1"/><path stroke="#00a5b7" d="M167 9h2"/><path stroke="#00a8b4" d="M169 9h1"/><path stroke="#00a8b1" d="M170 9h1"/><path stroke="#00a8ae" d="M171 9h2"/><path stroke="#00abab" d="M173 9h4"/><path stroke="#00aba8" d="M177 9h3"/><path stroke="#00aba5" d="M180 9h3"/><path stroke="#00aba2" d="M183 9h2"/><path stroke="#00ab9c" d="M185 9h1"/><path stroke="#00ab96" d="M186 9h2"/><path stroke="#00ab9c" d="M188 9h1"/><path stroke="#00aba2" d="M189 9h4"/><path stroke="#00aba5" d="M193 9h6"/><path stroke="#00aba8" d="M199 9h2"/><path stroke="#00a8ab" d="M201 9h1"/><path stroke="#00a8b1" d="M202 9h1"/><path stroke="#00a5b7" d="M203 9h1"/><path stroke="#00a2c0" d="M204 9h1"/><path stroke="#009fc9" d="M205 9h1"/><path stroke="#009cd2" d="M206 9h1"/><path stroke="#0099d8" d="M207 9h1"/><path stroke="#0096de" d="M208 9h1"/><path stroke="#0090de" d="M209 9h1"/><path stroke="#008dde" d="M210 9h1"/><path stroke="#0087de" d="M211 9h1"/><path stroke="#0084de" d="M212 9h1"/><path stroke="#007ede" d="M213 9h1"/><path stroke="#0078de" d="M214 9h1"/><path stroke="#006cde" d="M215 9h1"/><path stroke="#005ade" d="M216 9h1"/><path stroke="#0045de" d="M217 9h1"/><path stroke="#0033de" d="M218 9h1"/><path stroke="#0021de" d="M219 9h1"/><path stroke="#0012de" d="M220 9h1"/><path stroke="#000cde" d="M221 9h1"/><path stroke="#0006de" d="M222 9h1"/><path stroke="#0000de" d="M223 9h1"/><path stroke="#0000db" d="M224 9h1"/><path stroke="#0000d8" d="M225 9h3"/><path stroke="#0000d5" d="M228 9h1"/><path stroke="#0000d2" d="M229 9h1"/><path stroke="#0000cf" d="M230 9h1"/><path stroke="#0000cc" d="M231 9h1"/><path stroke="#0000c9" d="M232 9h1"/><path stroke="#0000c3" d="M233 9h1"/><path stroke="#0000ba" d="M234 9h1"/><path stroke="#0000b4" d="M235 9h1"/><path stroke="#0000ae" d="M236 9h1"/><path stroke="#0c00a8" d="M237 9h1"/><path stroke="#1e00a5" d="M238 9h1"/><path stroke="#3300a5" d="M239 9h1"/><path stroke="#3f00a2" d="M240 9h1"/><path stroke="#51009f" d="M241 9h1"/><path stroke="#5d009f" d="M242 9h1"/><path stroke="#66009c" d="M243 9h1"/><path stroke="#6c009c" d="M244 9h1"/><path stroke="#6f009c" d="M245 9h1"/><path stroke="#3c4bbd" d="M246 9h1"/><path stroke="#0099de" d="M247 9h2"/><path stroke="#0000b1" d="M249 9h1"/><path stroke="#001ebd" d="M250 9h1"/><path stroke="#007bde" d="M251 9h2"/><path stroke="#001ecf" d="M253 9h1"/><path stroke="#0000c9" d="M254 9h3"/><path stroke="#0066d8" d="M257 9h1"/><path stroke="#0087de" d="M258 9h1"/><path stroke="#0021cf" d="M259 9h1"/><path stroke="#0000c9" d="M260 9h1"/><path stroke="#00a2c3" d="M261 9h2"/><path stroke="#1b27ae" d="M263 9h1"/><path stroke="#0c00b1" d="M264 9h1"/><path stroke="#0000ba" d="M265 9h3"/><path stroke="#5100a5" d="M268 9h1"/><path stroke="#840099" d="M269 9h1"/><path stroke="#870099" d="M270 9h7"/><path stroke="#870096" d="M277 9h1"/><path stroke="#840096" d="M278 9h2"/><path stroke="#840093" d="M280 9h2"/><path stroke="#810093" d="M282 9h2"/><path stroke="#810090" d="M284 9h1"/><path stroke="#7e0090" d="M285 9h2"/><path stroke="#7b008d" d="M287 9h2"/><path stroke="#78008a" d="M289 9h1"/><path stroke="#750087" d="M290 9h1"/><path stroke="#6f007e" d="M291 9h1"/><path stroke="#63006f" d="M292 9h1"/><path stroke="#5a0066" d="M293 9h1"/><path stroke="#4e0057" d="M294 9h1"/><path stroke="#45004e" d="M295 9h1"/><path stroke="#390042" d="M296 9h1"/><path stroke="#33003c" d="M297 9h1"/><path stroke="#2a0030" d="M298 9h1"/><path stroke="#240027" d="M299 9h1"/><path stroke="#1b0021" d="M300 9h1"/><path stroke="#150018" d="M301 9h1"/><path stroke="#0f0012" d="M302 9h1"/><path stroke="#09000c" d="M303 9h1"/><path stroke="#060009" d="M304 9h1"/><path stroke="#000000" d="M305 9h10"/></g>
<g transform="translate(0,161.818)"><path stroke="#0084de" d="M48 9h1"/><path stroke="#24002a" d="M49 9h49"/><path stroke="#27002d" d="M98 9h1"/><path stroke="#300036" d="M99 9h1"/><path stroke="#39003f" d="M100 9h1"/><path stroke="#3f0048" d="M101 9h1"/><path stroke="#540060" d="M102 9h1"/><path stroke="#660075" d="M103 9h1"/><path stroke="#78008a" d="M104 9h1"/><path stroke="#7e008d" d="M105 9h1"/><path stroke="#810090" d="M106 9h1"/><path stroke="#840093" d="M107 9h1"/><path stroke="#840096" d="M108 9h1"/><path stroke="#870096" d="M109 9h1"/><path stroke="#810099" d="M110 9h1"/><path stroke="#3c00a2" d="M111 9h1"/><path stroke="#0900ab" d="M112 9h1"/><path stroke="#0000b7" d="M113 9h1"/><path stroke="#0000bd" d="M114 9h1"/><path stroke="#0000c3" d="M115 9h1"/><path stroke="#0000c9" d="M116 9h1"/><path stroke="#0000cf" d="M117 9h1"/><path stroke="#0000d2" d="M118 9h1"/><path stroke="#0000d5" d="M119 9h1"/><path stroke="#0000d8" d="M120 9h1"/><path stroke="#0000db" d="M121 9h1"/><path stroke="#0000de" d="M122 9h1"/><path stroke="#0006de" d="M123 9h1"/><path stroke="#000fde" d="M124 9h1"/><path stroke="#001bde" d="M125 9h1"/><path stroke="#0027de" d="M126 9h1"/><path stroke="#0033de" d="M127 9h1"/><path stroke="#0042de" d="M128 9h1"/><path stroke="#005ade" d="M129 9h1"/><path stroke="#006cde" d="M130 9h1"/><path stroke="#0078de" d="M131 9h1"/><path stroke="#007bde" d="M132 9h1"/><path stroke="#007ede" d="M133 9h1"/><path stroke="#0081de" d="M134 9h1"/><path stroke="#0084de" d="M135 9h1"/><path stroke="#0087de" d="M136 9h3"/><path stroke="#008ade" d="M139 9h2"/><path stroke="#008dde" d="M141 9h2"/><path stroke="#0090de" d="M143 9h2"/><path stroke="#0093de" d="M145 9h3"/><path stroke="#0096de" d="M148 9h3"/><path stroke="#0099de" d="M151 9h2"/><path stroke="#0099db" d="M153 9h1"/><path stroke="#0099d8" d="M154 9h1"/><path stroke="#009cd8" d="M155 9h1"/><path stroke="#009cd2" d="M156 9h2"/><path stroke="#009fcf" d="M158 9h1"/><path stroke="#009fcc" d="M159 9h1"/><path stroke="#009fc9" d="M160 9h1"/><path stroke="#009fc6" d="M161 9h1"/><path stroke="#00a2c3" d="M162 9h1"/><path stroke="#00a2c0" d="M163 9h1"/><path stroke="#00a2bd" d="M164 9h1"/><path stroke="#00a5ba" d="M165 9h1"/><path stroke="#00a5b7" d="M166 9h2"/><path stroke="#00a8b4" d="M168 9h1"/><path stroke="#00a8b1" d="M169 9h1"/><path stroke="#00a8ae" d="M170 9h1"/><path stroke="#00a8ab" d="M171 9h1"/><path stroke="#00abab" d="M172 9h2"/><path stroke="#00aba8" d="M174 9h4"/><path stroke="#00aba5" d="M178 9h3"/><path stroke="#00aba2" d="M181 9h3"/><path stroke="#00ab9f" d="M184 9h1"/><path stroke="#00ab99" d="M185 9h1"/><path stroke="#00ab93" d="M186 9h2"/><path stroke="#00ab99" d="M188 9h1"/><path stroke="#00ab9f" d="M189 9h2"/><path stroke="#00aba2" d="M191 9h7"/><path stroke="#00aba5" d="M198 9h2"/><path stroke="#00aba8" d="M200 9h1"/><path stroke="#00abab" d="M201 9h1"/><path stroke="#00a8ae" d="M202 9h1"/><path stroke="#00a5b4" d="M203 9h1"/><path stroke="#00a5bd" d="M204 9h1"/><path stroke="#009fc6" d="M205 9h1"/><path stroke="#009fcf" d="M206 9h1"/><path stroke="#0099d8" d="M207 9h1"/><path stroke="#0096de" d="M208 9h1"/><path stroke="#0090de" d="M209 9h1"/><path stroke="#008dde" d="M210 9h1"/><path stroke="#0087de" d="M211 9h1"/><path stroke="#0084de" d="M212 9h1"/><path stroke="#007ede" d="M213 9h1"/><path stroke="#0078de" d="M214 9h1"/><path stroke="#006cde" d="M215 9h1"/><path stroke="#005ade" d="M216 9h1"/><path stroke="#0045de" d="M217 9h1"/><path stroke="#0033de" d="M218 9h1"/><path stroke="#0021de" d="M219 9h1"/><path stroke="#0012de" d="M220 9h1"/><path stroke="#000cde" d="M221 9h1"/><path stroke="#0006de" d="M222 9h1"/><path stroke="#0000de" d="M223 9h1"/><path stroke="#0000db" d="M224 9h1"/><path stroke="#0000d8" d="M225 9h3"/><path stroke="#0000d5" d="M228 9h1"/><path stroke="#0000d2" d="M229 9h1"/><path stroke="#0000cf" d="M230 9h1"/><path stroke="#0000cc" d="M231 9h1"/><path stroke="#0000c9" d="M232 9h1"/><path stroke="#0000c3" d="M233 9h1"/><path stroke="#0000ba" d="M234 9h1"/><path stroke="#0000b4" d="M235 9h1"/><path stroke="#0000ae" d="M236 9h1"/><path stroke="#0c00a8" d="M237 9h1"/><path stroke="#1e00a5" d="M238 9h1"/><path stroke="#3300a5" d="M239 9h1"/><path stroke="#3f00a2" d="M240 9h1"/><path stroke="#51009f" d="M241 9h1"/><path stroke="#5d009f" d="M242 9h1"/><path stroke="#66009c" d="M243 9h1"/><path stroke="#6c009c" d="M244 9h1"/><path stroke="#6f009c" d="M245 9h1"/><path stroke="#3c4bbd" d="M246 9h1"/><path stroke="#0099de" d="M247 9h2"/><path stroke="#0000b1" d="M249 9h1"/><path stroke="#001ebd" d="M250 9h1"/><path stroke="#007bde" d="M251 9h2"/><path stroke="#001ecf" d="M253 9h1"/><path stroke="#0000c9" d="M254 9h3"/><path stroke="#0066d8" d="M257 9h1"/><path stroke="#0087de" d="M258 9h1"/><path stroke="#0021cf" d="M259 9h1"/><path stroke="#0000c9" d="M260 9h1"/><path stroke="#00a2c3" d="M261 9h2"/><path stroke="#1b27ae" d="M263 9h1"/><path stroke="#0c00b1" d="M264 9h1"/><path stroke="#0000ba" d="M265 9h3"/><path stroke="#5100a5" d="M268 9h1"/><path stroke="#840099" d="M269 9h1"/><path stroke="#870099" d="M270 9h7"/><path stroke="#870096" d="M277 9h1"/><path stroke="#840096" d="M278 9h2"/><path stroke="#840093" d="M280 9h2"/><path stroke="#810093" d="M282 9h2"/><path stroke="#810090" d="M284 9h1"/><path stroke="#7e0090" d="M285 9h2"/><path stroke="#7b008d" d="M287 9h2"/><path stroke="#78008a" d="M289 9h1"/><path stroke="#750087" d="M290 9h1"/><path stroke="#6f007e" d="M291 9h1"/><path stroke="#63006f" d="M292 9h1"/><path stroke="#5a0066" d="M293 9h1"/><path stroke="#4e0057" d="M294 9h1"/><path stroke="#45004e" d="M295 9h1"/><path stroke="#390042" d="M296 9h1"/><path stroke="#33003c" d="M297 9h1"/><path stroke="#2a0030" d="M298 9h1"/><path stroke="#240027" d="M299 9h1"/><path stroke="#1b0021" d="M300 9h1"/><path stroke="#150018" d="M301 9h1"/><path stroke="#0f0012" d="M302 9h1"/><path stroke="#09000c" d="M303 9h1"/><path stroke="#060009" d="M304 9h1"/><path stroke="#000000" d="M305 9h10"/></g>
<g transform="translate(0,178.545)"><path stroke="#0000de" d="M48 9h1"/><path stroke="#24002a" d="M49 9h49"/><path stroke="#27002d" d="M98 9h1"/><path stroke="#300036" d="M99 9h1"/><path stroke="#39003f" d="M100 9h1"/><path stroke="#3f0048" d="M101 9h1"/><path stroke="#540060" d="M102 9h1"/><path stroke="#660075" d="M103 9h1"/><path stroke="#78008a" d="M104 9h1"/><path stroke="#7e008d" d="M105 9h1"/><path stroke="#810090" d="M106 9h1"/><path stroke="#840093" d="M107 9h1"/><path stroke="#840096" d="M108 9h1"/><path stroke="#870096" d="M109 9h1"/><path stroke="#810099" d="M110 9h1"/><path stroke="#3c00a2" d="M111 9h1"/><path stroke="#0900ab" d="M112 9h1"/><path stroke="#0000b7" d="M113 9h1"/><path stroke="#0000bd" d="M114 9h1"/><path stroke="#0000c3" d="M115 9h1"/><path stroke="#0000c9" d="M116 9h1"/><path stroke="#0000cf" d="M117 9h1"/><path stroke="#0000d2" d="M118 9h1"/><path stroke="#0000d5" d="M119 9h1"/><path stroke="#0000d8" d="M120 9h1"/><path stroke="#0000db" d="M121 9h1"/><path stroke="#0000de" d="M122 9h1"/><path stroke="#0006de" d="M123 9h1"/><path stroke="#000fde" d="M124 9h1"/><path stroke="#001bde" d="M125 9h1"/><path stroke="#0027de" d="M126 9h1"/><path stroke="#0033de" d="M127 9h1"/><path stroke="#0042de" d="M128 9h1"/><path stroke="#005ade" d="M129 9h1"/><path stroke="#006cde" d="M130 9h1"/><path stroke="#0078de" d="M131 9h1"/><path stroke="#007bde" d="M132 9h1"/><path stroke="#007ede" d="M133 9h1"/><path stroke="#0081de" d="M134 9h1"/><path stroke="#0084de" d="M135 9h1"/><path stroke="#0087de" d="M136 9h2"/><path stroke="#008ade" d="M138 9h2"/><path stroke="#008dde" d="M140 9h2"/><path stroke="#0090de" d="M142 9h2"/><path stroke="#0093de" d="M144 9h3"/><path stroke="#0096de" d="M147 9h2"/><path stroke="#0099de" d="M149 9h2"/><path stroke="#0099db" d="M151 9h2"/><path stroke="#009cd8" d="M153 9h1"/><path stroke="#009cd5" d="M154 9h1"/><path stroke="#009cd2" d="M155 9h1"/><path stroke="#009fcf" d="M156 9h1"/><path stroke="#009fcc" d="M157 9h2"/><path stroke="#009fc6" d="M159 9h1"/><path stroke="#00a2c3" d="M160 9h1"/><path stroke="#00a2c0" d="M161 9h1"/><path stroke="#00a5bd" d="M162 9h1"/><path stroke="#00a5ba" d="M163 9h1"/><path stroke="#00a5b7" d="M164 9h1"/><path stroke="#00a8b1" d="M165 9h1"/><path stroke="#00a8ae" d="M166 9h1"/><path stroke="#00abab" d="M167 9h1"/><path stroke="#00aba8" d="M168 9h2"/><path stroke="#00aba5" d="M170 9h1"/><path stroke="#00aba2" d="M171 9h1"/><path stroke="#00ab9f" d="M172 9h2"/><path stroke="#00ab9c" d="M174 9h3"/><path stroke="#00ab99" d="M177 9h2"/><path stroke="#00ab96" d="M179 9h3"/><path stroke="#00ab93" d="M182 9h2"/><path stroke="#00ab90" d="M184 9h1"/><path stroke="#00a881" d="M185 9h1"/><path stroke="#00a872" d="M186 9h2"/><path stroke="#00a881" d="M188 9h1"/><path stroke="#00ab90" d="M189 9h1"/><path stroke="#00ab93" d="M190 9h4"/><path stroke="#00ab96" d="M194 9h3"/><path stroke="#00ab99" d="M197 9h2"/><path stroke="#00ab9c" d="M199 9h2"/><path stroke="#00aba2" d="M201 9h1"/><path stroke="#00aba5" d="M202 9h1"/><path stroke="#00abab" d="M203 9h1"/><path stroke="#00a8b4" d="M204 9h1"/><path stroke="#00a2c0" d="M205 9h1"/><path stroke="#009fc9" d="M206 9h1"/><path stroke="#009cd5" d="M207 9h1"/><path stroke="#0099db" d="M208 9h1"/><path stroke="#0093de" d="M209 9h1"/><path stroke="#008dde" d="M210 9h1"/><path stroke="#0087de" d="M211 9h1"/><path stroke="#0084de" d="M212 9h1"/><path stroke="#007ede" d="M213 9h1"/><path stroke="#0078de" d="M214 9h1"/><path stroke="#006cde" d="M215 9h1"/><path stroke="#005ade" d="M216 9h1"/><path stroke="#0045de" d="M217 9h1"/><path stroke="#0033de" d="M218 9h1"/><path stroke="#0021de" d="M219 9h1"/><path stroke="#0012de" d="M220 9h1"/><path stroke="#000cde" d="M221 9h1"/><path stroke="#0006de" d="M222 9h1"/><path stroke="#0000de" d="M223 9h1"/><path stroke="#0000db" d="M224 9h1"/><path stroke="#0000d8" d="M225 9h3"/><path stroke="#0000d5" d="M228 9h1"/><path stroke="#0000d2" d="M229 9h1"/><path stroke="#0000cf" d="M230 9h1"/><path stroke="#0000cc" d="M231 9h1"/><path stroke="#0000c9" d="M232 9h1"/><path stroke="#0000c3" d="M233 9h1"/><path stroke="#0000ba" d="M234 9h1"/><path stroke="#0000b4" d="M235 9h1"/><path stroke="#0000ae" d="M236 9h1"/><path stroke="#0c00a8" d="M237 9h1"/><path stroke="#1e00a5" d="M238 9h1"/><path stroke="#3300a5" d="M239 9h1"/><path stroke="#3f00a2" d="M240 9h1"/><path stroke="#51009f" d="M241 9h1"/><path stroke="#5d009f" d="M242 9h1"/><path stroke="#66009c" d="M243 9h1"/><path stroke="#6c009c" d="M244 9h1"/><path stroke="#6f009c" d="M245 9h1"/><path stroke="#3c4bbd" d="M246 9h1"/><path stroke="#0099de" d="M247 9h2"/><path stroke="#0000b1" d="M249 9h1"/><path stroke="#001ebd" d="M250 9h1"/><path stroke="#007bde" d="M251 9h2"/><path stroke="#001ecf" d="M253 9h1"/><path stroke="#0000c9" d="M254 9h3"/><path stroke="#0066d8" d="M257 9h1"/><path stroke="#0087de" d="M258 9h1"/><path stroke="#0021cf" d="M259 9h1"/><path stroke="#0000c9" d="M260 9h1"/><path stroke="#00a2c3" d="M261 9h2"/><path stroke="#1b27ae" d="M263 9h1"/><path stroke="#0c00b1" d="M264 9h1"/><path stroke="#0000ba" d="M265 9h3"/><path stroke="#5100a5" d="M268 9h1"/><path stroke="#840099" d="M269 9h1"/><path stroke="#870099" d="M270 9h7"/><path stroke="#870096" d="M277 9h1"/><path stroke="#840096" d="M278 9h2"/><path stroke="#840093" d="M280 9h2"/><path stroke="#810093" d="M282 9h2"/><path stroke="#810090" d="M284 9h1"/><path stroke="#7e0090" d="M285 9h2"/><path stroke="#7b008d" d="M287 9h2"/><path stroke="#78008a" d="M289 9h1"/><path stroke="#750087" d="M290 9h1"/><path stroke="#6f007e" d="M291 9h1"/><path stroke="#63006f" d="M292 9h1"/><path stroke="#5a0066" d="M293 9h1"/><path stroke="#4e0057" d="M294 9h1"/><path stroke="#45004e" d="M295 9h1"/><path stroke="#390042" d="M296 9h1"/><path stroke="#33003c" d="M297 9h1"/><path stroke="#2a0030" d="M298 9h1"/><path stroke="#240027" d="M299 9h1"/><path stroke="#1b0021" d="M300 9h1"/><path stroke="#150018" d="M301 9h1"/><path stroke="#0f0012" d="M302 9h1"/><path stroke="#09000c" d="M303 9h1"/><path stroke="#060009" d="M304 9h1"/><path stroke="#000000" d="M305 9h10"/></g>
<g transform="translate(0,195.273)"><path stroke="#0000de" d="M48 9h1"/><path stroke="#24002a" d="M49 9h49"/><path stroke="#27002d" d="M98 9h1"/><path stroke="#300036" d="M99 9h1"/><path stroke="#39003f" d="M100 9h1"/><path stroke="#3f0048" d="M101 9h1"/><path stroke="#540060" d="M102 9h1"/><path stroke="#660075" d="M103 9h1"/><path stroke="#78008a" d="M104 9h1"/><path stroke="#7e008d" d="M105 9h1"/><path stroke="#810090" d="M106 9h1"/><path stroke="#840093" d="M107 9h1"/><path stroke="#840096" d="M108 9h1"/><path stroke="#870096" d="M109 9h1"/><path stroke="#810099" d="M110 9h1"/><path stroke="#3c00a2" d="M111 9h1"/><path stroke="#0900ab" d="M112 9h1"/><path stroke="#0000b7" d="M113 9h1"/><path stroke="#0000bd" d="M114 9h1"/><path stroke="#0000c3" d="M115 9h1"/><path stroke="#0000c9" d="M116 9h1"/><path stroke="#0000cf" d="M117 9h1"/><path stroke="#0000d2" d="M118 9h1"/><path stroke="#0000d5" d="M119 9h1"/><path stroke="#0000d8" d="M120 9h1"/><path stroke="#0000db" d="M121 9h1"/><path stroke="#0000de" d="M122 9h1"/><path stroke="#0006de" d="M123 9h1"/><path stroke="#000fde" d="M124 9h1"/><path stroke="#001bde" d="M125 9h1"/><path stroke="#0027de" d="M126 9h1"/><path stroke="#0033de" d="M127 9h1"/><path stroke="#0042de" d="M128 9h1"/><path stroke="#005ade" d="M129 9h1"/><path stroke="#006cde" d="M130 9h1"/><path stroke="#0078de" d="M131 9h1"/><path stroke="#007bde" d="M132 9h1"/><path stroke="#007ede" d="M133 9h1"/><path stroke="#0081de" d="M134 9h1"/><path stroke="#0084de" d="M135 9h1"/><path stroke="#0087de" d="M136 9h2"/><path stroke="#008ade" d="M138 9h2"/><path stroke="#008dde" d="M140 9h2"/><path stroke="#0090de" d="M142 9h1"/><path stroke="#0093de" d="M143 9h3"/><path stroke="#0096de" d="M146 9h2"/><path stroke="#0099de" d="M148 9h2"/><path stroke="#0099db" d="M150 9h2"/><path stroke="#009cd8" d="M152 9h1"/><path stroke="#009cd5" d="M153 9h1"/><path stroke="#009cd2" d="M154 9h1"/><path stroke="#009ccf" d="M155 9h1"/><path stroke="#009fcc" d="M156 9h1"/><path stroke="#009fc9" d="M157 9h1"/><path stroke="#009fc6" d="M158 9h1"/><path stroke="#00a2c3" d="M159 9h1"/><path stroke="#00a2c0" d="M160 9h1"/><path stroke="#00a5bd" d="M161 9h1"/><path stroke="#00a5ba" d="M162 9h1"/><path stroke="#00a5b7" d="M163 9h1"/><path stroke="#00a8b1" d="M164 9h1"/><path stroke="#00a8ae" d="M165 9h1"/><path stroke="#00abab" d="M166 9h1"/><path stroke="#00aba8" d="M167 9h1"/><path stroke="#00aba5" d="M168 9h1"/><path stroke="#00aba2" d="M169 9h2"/><path stroke="#00ab9f" d="M171 9h1"/><path stroke="#00ab9c" d="M172 9h3"/><path stroke="#00ab99" d="M175 9h1"/><path stroke="#00ab96" d="M176 9h3"/><path stroke="#00ab93" d="M179 9h2"/><path stroke="#00ab90" d="M181 9h2"/><path stroke="#00ab8d" d="M183 9h2"/><path stroke="#00a86f" d="M185 9h1"/><path stroke="#00a254" d="M186 9h2"/><path stroke="#00a86f" d="M188 9h1"/><path stroke="#00ab8d" d="M189 9h3"/><path stroke="#00ab90" d="M192 9h3"/><path stroke="#00ab93" d="M195 9h3"/><path stroke="#00ab96" d="M198 9h2"/><path stroke="#00ab99" d="M200 9h1"/><path stroke="#00ab9c" d="M201 9h1"/><path stroke="#00aba2" d="M202 9h1"/><path stroke="#00aba5" d="M203 9h1"/><path stroke="#00a8b1" d="M204 9h1"/><path stroke="#00a5ba" d="M205 9h1"/><path stroke="#00a2c6" d="M206 9h1"/><path stroke="#009cd2" d="M207 9h1"/><path stroke="#0099db" d="M208 9h1"/><path stroke="#0093de" d="M209 9h1"/><path stroke="#008dde" d="M210 9h1"/><path stroke="#008ade" d="M211 9h1"/><path stroke="#0084de" d="M212 9h1"/><path stroke="#007ede" d="M213 9h1"/><path stroke="#0078de" d="M214 9h1"/><path stroke="#006cde" d="M215 9h1"/><path stroke="#005ade" d="M216 9h1"/><path stroke="#0045de" d="M217 9h1"/><path stroke="#0033de" d="M218 9h1"/><path stroke="#0021de" d="M219 9h1"/><path stroke="#0012de" d="M220 9h1"/><path stroke="#000cde" d="M221 9h1"/><path stroke="#0006de" d="M222 9h1"/><path stroke="#0000de" d="M223 9h1"/><path stroke="#0000db" d="M224 9h1"/><path stroke="#0000d8" d="M225 9h3"/><path stroke="#0000d5" d="M228 9h1"/><path stroke="#0000d2" d="M229 9h1"/><path stroke="#0000cf" d="M230 9h1"/><path stroke="#0000cc" d="M231 9h1"/><path stroke="#0000c9" d="M232 9h1"/><path stroke="#0000c3" d="M233 9h1"/><path stroke="#0000ba" d="M234 9h1"/><path stroke="#0000b4" d="M235 9h1"/><path stroke="#0000ae" d="M236 9h1"/><path stroke="#0c00a8" d="M237 9h1"/><path stroke="#1e00a5" d="M238 9h1"/><path stroke="#3300a5" d="M239 9h1"/><path stroke="#3f00a2" d="M240 9h1"/><path stroke="#51009f" d="M241 9h1"/><path stroke="#5d009f" d="M242 9h1"/><path stroke="#66009c" d="M243 9h1"/><path stroke="#6c009c" d="M244 9h1"/><path stroke="#6f009c" d="M245 9h1"/><path stroke="#3c4bbd" d="M246 9h1"/><path stroke="#0099de" d="M247 9h2"/><path stroke="#0000b1" d="M249 9h1"/><path stroke="#001ebd" d="M250 9h1"/><path stroke="#007bde" d="M251 9h2"/><path stroke="#001ecf" d="M253 9h1"/><path stroke="#0000c9" d="M254 9h3"/><path stroke="#0066d8" d="M257 9h1"/><path stroke="#0087de" d="M258 9h1"/><path stroke="#0021cf" d="M259 9h1"/><path stroke="#0000c9" d="M260 9h1"/><path stroke="#00a2c3" d="M261 9h2"/><path stroke="#1b27ae" d="M263 9h1"/><path stroke="#0c00b1" d="M264 9h1"/><path stroke="#0000ba" d="M265 9h3"/><path stroke="#5100a5" d="M268 9h1"/><path stroke="#840099" d="M269 9h1"/><path stroke="#870099" d="M270 9h7"/><path stroke="#870096" d="M277 9h1"/><path stroke="#840096" d="M278 9h2"/><path stroke="#840093" d="M280 9h2"/><path stroke="#810093" d="M282 9h2"/><path stroke="#810090" d="M284 9h1"/><path stroke="#7e0090" d="M285 9h2"/><path stroke="#7b008d" d="M287 9h2"/><path stroke="#78008a" d="M289 9h1"/><path stroke="#750087" d="M290 9h1"/><path stroke="#6f007e" d="M291 9h1"/><path stroke="#63006f" d="M292 9h1"/><path stroke="#5a0066" d="M293 9h1"/><path stroke="#4e0057" d="M294 9h1"/><path stroke="#45004e" d="M295 9h1"/><path stroke="#390042" d="M296 9h1"/><path stroke="#33003c" d="M297 9h1"/><path stroke="#2a0030" d="M298 9h1"/><path stroke="#240027" d="M299 9h1"/><path stroke="#1b0021" d="M300 9h1"/><path stroke="#150018" d="M301 9h1"/><path stroke="#0f0012" d="M302 9h1"/><path stroke="#09000c" d="M303 9h1"/><path stroke="#060009" d="M304 9h1"/><path stroke="#000000" d="M305 9h10"/></g>
<g transform="translate(0,212.000)"><path stroke="#0000de" d="M48 9h1"/><path stroke="#24002a" d="M49 9h49"/><path stroke="#27002d" d="M98 9h1"/><path stroke="#300036" d="M99 9h1"/><path stroke="#39003f" d="M100 9h1"/><path stroke="#3f0048" d="M101 9h1"/><path stroke="#540060" d="M102 9h1"/><path stroke="#660075" d="M103 9h1"/><path stroke="#78008a" d="M104 9h1"/><path stroke="#7e008d" d="M105 9h1"/><path stroke="#810090" d="M106 9h1"/><path stroke="#840093" d="M107 9h1"/><path stroke="#840096" d="M108 9h1"/><path stroke="#870096" d="M109 9h1"/><path stroke="#810099" d="M110 9h1"/><path stroke="#3c00a2" d="M111 9h1"/><path stroke="#0900ab" d="M112 9h1"/><path stroke="#0000b7" d="M113 9h1"/><path stroke="#0000bd" d="M114 9h1"/><path stroke="#0000c3" d="M115 9h1"/><path stroke="#0000c9" d="M116 9h1"/><path stroke="#0000cf" d="M117 9h1"/><path stroke="#0000d2" d="M118 9h1"/><path stroke="#0000d5" d="M119 9h1"/><path stroke="#0000d8" d="M120 9h1"/><path stroke="#0000db" d="M121 9h1"/><path stroke="#0000de" d="M122 9h1"/><path stroke="#0006de" d="M123 9h1"/><path stroke="#000fde" d="M124 9h1"/><path stroke="#001bde" d="M125 9h1"/><path stroke="#0027de" d="M126 9h1"/><path stroke="#0033de" d="M127 9h1"/><path stroke="#0042de" d="M128 9h1"/><path stroke="#005ade" d="M129 9h1"/><path stroke="#006cde" d="M130 9h1"/><path stroke="#0078de" d="M131 9h1"/><path stroke="#007bde" d="M132 9h1"/><path stroke="#007ede" d="M133 9h1"/><path stroke="#0081de" d="M134 9h1"/><path stroke="#0084de" d="M135 9h1"/><path stroke="#0087de" d="M136 9h2"/><path stroke="#008ade" d="M138 9h1"/><path stroke="#008dde" d="M139 9h2"/><path stroke="#0090de" d="M141 9h2"/><path stroke="#0093de" d="M143 9h2"/><path stroke="#0096de" d="M145 9h2"/><path stroke="#0099de" d="M147 9h1"/><path stroke="#0099db" d="M148 9h3"/><path stroke="#009cd8" d="M151 9h1"/><path stroke="#009cd5" d="M152 9h1"/><path stroke="#009cd2" d="M153 9h1"/><path stroke="#009fcf" d="M154 9h1"/><path stroke="#009fcc" d="M155 9h1"/><path stroke="#009fc9" d="M156 9h1"/><path stroke="#00a2c6" d="M157 9h1"/><path stroke="#00a2c3" d="M158 9h1"/><path stroke="#00a2c0" d="M159 9h1"/><path stroke="#00a5ba" d="M160 9h1"/><path stroke="#00a5b7" d="M161 9h1"/><path stroke="#00a8b4" d="M162 9h1"/><path stroke="#00a8ae" d="M163 9h1"/><path stroke="#00abab" d="M164 9h1"/><path stroke="#00aba8" d="M165 9h1"/><path stroke="#00aba5" d="M166 9h1"/><path stroke="#00aba2" d="M167 9h2"/><path stroke="#00ab9f" d="M169 9h1"/><path stroke="#00ab9c" d="M170 9h1"/><path stroke="#00ab99" d="M171 9h1"/><path stroke="#00ab96" d="M172 9h2"/><path stroke="#00ab93" d="M174 9h2"/><path stroke="#00ab90" d="M176 9h2"/><path stroke="#00ab8d" d="M178 9h2"/><path stroke="#00ab8a" d="M180 9h2"/><path stroke="#00ab87" d="M182 9h1"/><path stroke="#00a884" d="M183 9h1"/><path stroke="#00a87e" d="M184 9h1"/><path stroke="#00a24e" d="M185 9h1"/><path stroke="#009c1e" d="M186 9h2"/><path stroke="#00a24e" d="M188 9h1"/><path stroke="#00a87e" d="M189 9h1"/><path stroke="#00a881" d="M190 9h1"/><path stroke="#00ab87" d="M191 9h2"/><path stroke="#00ab8a" d="M193 9h3"/><path stroke="#00ab8d" d="M196 9h2"/><path stroke="#00ab90" d="M198 9h2"/><path stroke="#00ab93" d="M200 9h1"/><path stroke="#00ab96" d="M201 9h1"/><path stroke="#00ab9c" d="M202 9h1"/><path stroke="#00aba2" d="M203 9h1"/><path stroke="#00abab" d="M204 9h1"/><path stroke="#00a5b7" d="M205 9h1"/><path stroke="#00a2c3" d="M206 9h1"/><path stroke="#009fcf" d="M207 9h1"/><path stroke="#0099db" d="M208 9h1"/><path stroke="#0096de" d="M209 9h1"/><path stroke="#008dde" d="M210 9h1"/><path stroke="#008ade" d="M211 9h1"/><path stroke="#0084de" d="M212 9h1"/><path stroke="#007ede" d="M213 9h1"/><path stroke="#0078de" d="M214 9h1"/><path stroke="#006cde" d="M215 9h1"/><path stroke="#005ade" d="M216 9h1"/><path stroke="#0045de" d="M217 9h1"/><path stroke="#0033de" d="M218 9h1"/><path stroke="#0021de" d="M219 9h1"/><path stroke="#0012de" d="M220 9h1"/><path stroke="#000cde" d="M221 9h1"/><path stroke="#0006de" d="M222 9h1"/><path stroke="#0000de" d="M223 9h1"/><path stroke="#0000db" d="M224 9h1"/><path stroke="#0000d8" d="M225 9h3"/><path stroke="#0000d5" d="M228 9h1"/><path stroke="#0000d2" d="M229 9h1"/><path stroke="#0000cf" d="M230 9h1"/><path stroke="#0000cc" d="M231 9h1"/><path stroke="#0000c9" d="M232 9h1"/><path stroke="#0000c3" d="M233 9h1"/><path stroke="#0000ba" d="M234 9h1"/><path stroke="#0000b4" d="M235 9h1"/><path stroke="#0000ae" d="M236 9h1"/><path stroke="#0c00a8" d="M237 9h1"/><path stroke="#1e00a5" d="M238 9h1"/><path stroke="#3300a5" d="M239 9h1"/><path stroke="#3f00a2" d="M240 9h1"/><path stroke="#51009f" d="M241 9h1"/><path stroke="#5d009f" d="M242 9h1"/><path stroke="#66009c" d="M243 9h1"/><path stroke="#6c009c" d="M244 9h1"/><path stroke="#6f009c" d="M245 9h1"/><path stroke="#3c4bbd" d="M246 9h1"/><path stroke="#0099de" d="M247 9h2"/><path stroke="#0000b1" d="M249 9h1"/><path stroke="#001ebd" d="M250 9h1"/><path stroke="#007bde" d="M251 9h2"/><path stroke="#001ecf" d="M253 9h1"/><path stroke="#0000c9" d="M254 9h3"/><path stroke="#0066d8" d="M257 9h1"/><path stroke="#0087de" d="M258 9h1"/><path stroke="#0021cf" d="M259 9h1"/><path stroke="#0000c9" d="M260 9h1"/><path stroke="#00a2c3" d="M261 9h2"/><path stroke="#1b27ae" d="M263 9h1"/><path stroke="#0c00b1" d="M264 9h1"/><path stroke="#0000ba" d="M265 9h3"/><path stroke="#5100a5" d="M268 9h1"/><path stroke="#840099" d="M269 9h1"/><path stroke="#870099" d="M270 9h7"/><path stroke="#870096" d="M277 9h1"/><path stroke="#840096" d="M278 9h2"/><path stroke="#840093" d="M280 9h2"/><path stroke="#810093" d="M282 9h2"/><path stroke="#810090" d="M284 9h1"/><path stroke="#7e0090" d="M285 9h2"/><path stroke="#7b008d" d="M287 9h2"/><path stroke="#78008a" d="M289 9h1"/><path stroke="#750087" d="M290 9h1"/><path stroke="#6f007e" d="M291 9h1"/><path stroke="#63006f" d="M292 9h1"/><path stroke="#5a0066" d="M293 9h1"/><path stroke="#4e0057" d="M294 9h1"/><path stroke="#45004e" d="M295 9h1"/><path stroke="#390042" d="M296 9h1"/><path stroke="#33003c" d="M297 9h1"/><path stroke="#2a0030" d="M298 9h1"/><path stroke="#240027" d="M299 9h1"/><path stroke="#1b0021" d="M300 9h1"/><path stroke="#150018" d="M301 9h1"/><path stroke="#0f0012" d="M302 9h1"/><path stroke="#09000c" d="M303 9h1"/><path stroke="#060009" d="M304 9h1"/><path stroke="#000000" d="M305 9h10"/></g>
<g transform="translate(0,228.727)"><path stroke="#0000de" d="M48 9h1"/><path stroke="#24002a" d="M49 9h49"/><path stroke="#27002d" d="M98 9h1"/><path stroke="#300036" d="M99 9h1"/><path stroke="#39003f" d="M100 9h1"/><path stroke="#3f0048" d="M101 9h1"/><path stroke="#540060" d="M102 9h1"/><path stroke="#660075" d="M103 9h1"/><path stroke="#78008a" d="M104 9h1"/><path stroke="#7e008d" d="M105 9h1"/><path stroke="#810090" d="M106 9h1"/><path stroke="#840093" d="M107 9h1"/><path stroke="#840096" d="M108 9h1"/><path stroke="#870096" d="M109 9h1"/><path stroke="#810099" d="M110 9h1"/><path stroke="#3c00a2" d="M111 9h1"/><path stroke="#0900ab" d="M112 9h1"/><path stroke="#0000b7" d="M113 9h1"/><path stroke="#0000bd" d="M114 9h1"/><path stroke="#0000c3" d="M115 9h1"/><path stroke="#0000c9" d="M116 9h1"/><path stroke="#0000cf" d="M117 9h1"/><path stroke="#0000d2" d="M118 9h1"/><path stroke="#0000d5" d="M119 9h1"/><path stroke="#0000d8" d="M120 9h1"/><path stroke="#0000db" d="M121 9h1"/><path stroke="#0000de" d="M122 9h1"/><path stroke="#0006de" d="M123 9h1"/><path stroke="#000fde" d="M124 9h1"/><path stroke="#001bde" d="M125 9h1"/><path stroke="#0027de" d="M126 9h1"/><path stroke="#0033de" d="M127 9h1"/><path stroke="#0042de" d="M128 9h1"/><path stroke="#005ade" d="M129 9h1"/><path stroke="#006cde" d="M130 9h1"/><path stroke="#0078de" d="M131 9h1"/><path stroke="#007bde" d="M132 9h1"/><path stroke="#007ede" d="M133 9h1"/><path stroke="#0081de" d="M134 9h1"/><path stroke="#0084de" d="M135 9h1"/><path stroke="#0087de" d="M136 9h2"/><path stroke="#008ade" d="M138 9h2"/><path stroke="#008dde" d="M140 9h2"/><path stroke="#0090de" d="M142 9h2"/><path stroke="#0093de" d="M144 9h2"/><path stroke="#0096de" d="M146 9h3"/><path stroke="#0099de" d="M149 9h1"/><path stroke="#0099db" d="M150 9h3"/><path stroke="#009cd8" d="M153 9h1"/><path stroke="#009cd5" d="M154 9h1"/><path stroke="#009cd2" d="M155 9h1"/><path stroke="#009fcf" d="M156 9h1"/><path stroke="#009fcc" d="M157 9h1"/><path stroke="#009fc9" d="M158 9h1"/><path stroke="#00a2c6" d="M159 9h1"/><path stroke="#00a2c3" d="M160 9h1"/><path stroke="#00a2c0" d="M161 9h1"/><path stroke="#00a5ba" d="M162 9h1"/><path stroke="#00a5b7" d="M163 9h1"/><path stroke="#00a8b4" d="M164 9h1"/><path stroke="#00a8b1" d="M165 9h1"/><path stroke="#00a8ab" d="M166 9h1"/><path stroke="#00abab" d="M167 9h1"/><path stroke="#00aba8" d="M168 9h1"/><path stroke="#00aba5" d="M169 9h1"/><path stroke="#00aba2" d="M170 9h2"/><path stroke="#00ab9f" d="M172 9h1"/><path stroke="#00ab9c" d="M173 9h3"/><path stroke="#00ab99" d="M176 9h2"/><path stroke="#00ab96" d="M178 9h2"/><path stroke="#00ab93" d="M180 9h2"/><path stroke="#00ab90" d="M182 9h2"/><path stroke="#00ab8d" d="M184 9h1"/><path stroke="#00a87b" d="M185 9h1"/><path stroke="#00a569" d="M186 9h2"/><path stroke="#00a87b" d="M188 9h1"/><path stroke="#00ab8d" d="M189 9h1"/><path stroke="#00ab90" d="M190 9h3"/><path stroke="#00ab93" d="M193 9h3"/><path stroke="#00ab96" d="M196 9h3"/><path stroke="#00ab99" d="M199 9h1"/><path stroke="#00ab9c" d="M200 9h1"/><path stroke="#00ab9f" d="M201 9h1"/><path stroke="#00aba2" d="M202 9h1"/><path stroke="#00aba8" d="M203 9h1"/><path stroke="#00a8b1" d="M204 9h1"/><path stroke="#00a5bd" d="M205 9h1"/><path stroke="#009fc9" d="M206 9h1"/><path stroke="#009cd2" d="M207 9h1"/><path stroke="#0099db" d="M208 9h1"/><path stroke="#0093de" d="M209 9h1"/><path stroke="#008dde" d="M210 9h1"/><path stroke="#0087de" d="M211 9h1"/><path stroke="#0084de" d="M212 9h1"/><path stroke="#007ede" d="M213 9h1"/><path stroke="#0078de" d="M214 9h1"/><path stroke="#006cde" d="M215 9h1"/><path stroke="#005ade" d="M216 9h1"/><path stroke="#0045de" d="M217 9h1"/><path stroke="#0033de" d="M218 9h1"/><path stroke="#0021de" d="M219 9h1"/><path stroke="#0012de" d="M220 9h1"/><path stroke="#000cde" d="M221 9h1"/><path stroke="#0006de" d="M222 9h1"/><path stroke="#0000de" d="M223 9h1"/><path stroke="#0000db" d="M224 9h1"/><path stroke="#0000d8" d="M225 9h3"/><path stroke="#0000d5" d="M228 9h1"/><path stroke="#0000d2" d="M229 9h1"/><path stroke="#0000cf" d="M230 9h1"/><path stroke="#0000cc" d="M231 9h1"/><path stroke="#0000c9" d="M232 9h1"/><path stroke="#0000c3" d="M233 9h1"/><path stroke="#0000ba" d="M234 9h1"/><path stroke="#0000b4" d="M235 9h1"/><path stroke="#0000ae" d="M236 9h1"/><path stroke="#0c00a8" d="M237 9h1"/><path stroke="#1e00a5" d="M238 9h1"/><path stroke="#3300a5" d="M239 9h1"/><path stroke="#3f00a2" d="M240 9h1"/><path stroke="#51009f" d="M241 9h1"/><path stroke="#5d009f" d="M242 9h1"/><path stroke="#66009c" d="M243 9h1"/><path stroke="#6c009c" d="M244 9h1"/><path stroke="#6f009c" d="M245 9h1"/><path stroke="#3c4bbd" d="M246 9h1"/><path stroke="#0099de" d="M247 9h2"/><path stroke="#0000b1" d="M249 9h1"/><path stroke="#001ebd" d="M250 9h1"/><path stroke="#007bde" d="M251 9h2"/><path stroke="#001ecf" d="M253 9h1"/><path stroke="#0000c9" d="M254 9h3"/><path stroke="#0066d8" d="M257 9h1"/><path stroke="#0087de" d="M258 9h1"/><path stroke="#0021cf" d="M259 9h1"/><path stroke="#0000c9" d="M260 9h1"/><path stroke="#00a2c3" d="M261 9h2"/><path stroke="#1b27ae" d="M263 9h1"/><path stroke="#0c00b1" d="M264 9h1"/><path stroke="#0000ba" d="M265 9h3"/><path stroke="#5100a5" d="M268 9h1"/><path stroke="#840099" d="M269 9h1"/><path stroke="#870099" d="M270 9h7"/><path stroke="#870096" d="M277 9h1"/><path stroke="#840096" d="M278 9h2"/><path stroke="#840093" d="M280 9h2"/><path stroke="#810093" d="M282 9h2"/><path stroke="#810090" d="M284 9h1"/><path stroke="#7e0090" d="M285 9h2"/><path stroke="#7b008d" d="M287 9h2"/><path stroke="#78008a" d="M289 9h1"/><path stroke="#750087" d="M290 9h1"/><path stroke="#6f007e" d="M291 9h1"/><path stroke="#63006f" d="M292 9h1"/><path stroke="#5a0066" d="M293 9h1"/><path stroke="#4e0057" d="M294 9h1"/><path stroke="#45004e" d="M295 9h1"/><path stroke="#390042" d="M296 9h1"/><path stroke="#33003c" d="M297 9h1"/><path stroke="#2a0030" d="M298 9h1"/><path stroke="#240027" d="M299 9h1"/><path stroke="#1b0021" d="M300 9h1"/><path stroke="#150018" d="M301 9h1"/><path stroke="#0f0012" d="M302 9h1"/><path stroke="#09000c" d="M303 9h1"/><path stroke="#060009" d="M304 9h1"/><path stroke="#000000" d="M305 9h10"/></g>
<g transform="translate(0,245.455)"><path stroke="#0000de" d="M48 9h1"/><path stroke="#24002a" d="M49 9h49"/><path stroke="#27002d" d="M98 9h1"/><path stroke="#300036" d="M99 9h1"/><path stroke="#39003f" d="M100 9h1"/><path stroke="#3f0048" d="M101 9h1"/><path stroke="#540060" d="M102 9h1"/><path stroke="#660075" d="M103 9h1"/><path stroke="#78008a" d="M104 9h1"/><path stroke="#7e008d" d="M105 9h1"/><path stroke="#810090" d="M106 9h1"/><path stroke="#840093" d="M107 9h1"/><path stroke="#840096" d="M108 9h1"/><path stroke="#870096" d="M109 9h1"/><path stroke="#810099" d="M110 9h1"/><path stroke="#3c00a2" d="M111 9h1"/><path stroke="#0900ab" d="M112 9h1"/><path stroke="#0000b7" d="M113 9h1"/><path stroke="#0000bd" d="M114 9h1"/><path stroke="#0000c3" d="M115 9h1"/><path stroke="#0000c9" d="M116 9h1"/><path stroke="#0000cf" d="M117 9h1"/><path stroke="#0000d2" d="M118 9h1"/><path stroke="#0000d5" d="M119 9h1"/><path stroke="#0000d8" d="M120 9h1"/><path stroke="#0000db" d="M121 9h1"/><path stroke="#0000de" d="M122 9h1"/><path stroke="#0006de" d="M123 9h1"/><path stroke="#000fde" d="M124 9h1"/><path stroke="#001bde" d="M125 9h1"/><path stroke="#0027de" d="M126 9h1"/><path stroke="#0033de" d="M127 9h1"/><path stroke="#0042de" d="M128 9h1"/><path stroke="#005ade" d="M129 9h1"/><path stroke="#006cde" d="M130 9h1"/><path stroke="#0078de" d="M131 9h1"/><path stroke="#007bde" d="M132 9h1"/><path stroke="#007ede" d="M133 9h1"/><path stroke="#0081de" d="M134 9h1"/><path stroke="#0084de" d="M135 9h1"/><path stroke="#0087de" d="M136 9h2"/><path stroke="#008ade" d="M138 9h2"/><path stroke="#008dde" d="M140 9h2"/><path stroke="#0090de" d="M142 9h2"/><path stroke="#0093de" d="M144 9h2"/><path stroke="#0096de" d="M146 9h3"/><path stroke="#0099de" d="M149 9h1"/><path stroke="#0099db" d="M150 9h3"/><path stroke="#009cd8" d="M153 9h1"/><path stroke="#009cd5" d="M154 9h1"/><path stroke="#009cd2" d="M155 9h1"/><path stroke="#009fcf" d="M156 9h1"/><path stroke="#009fcc" d="M157 9h1"/><path stroke="#009fc9" d="M158 9h1"/><path stroke="#00a2c6" d="M159 9h1"/><path stroke="#00a2c3" d="M160 9h1"/><path stroke="#00a2c0" d="M161 9h1"/><path stroke="#00a5ba" d="M162 9h1"/><path stroke="#00a5b7" d="M163 9h1"/><path stroke="#00a8b4" d="M164 9h1"/><path stroke="#00a8b1" d="M165 9h1"/><path stroke="#00a8ab" d="M166 9h1"/><path stroke="#00abab" d="M167 9h1"/><path stroke="#00aba8" d="M168 9h1"/><path stroke="#00aba5" d="M169 9h1"/><path stroke="#00aba2" d="M170 9h2"/><path stroke="#00ab9f" d="M172 9h1"/><path stroke="#00ab9c" d="M173 9h3"/><path stroke="#00ab99" d="M176 9h2"/><path stroke="#00ab96" d="M178 9h2"/><path stroke="#00ab93" d="M180 9h2"/><path stroke="#00ab90" d="M182 9h2"/><path stroke="#00ab8d" d="M184 9h1"/><path stroke="#00a86f" d="M185 9h1"/><path stroke="#00a254" d="M186 9h2"/><path stroke="#00a86f" d="M188 9h1"/><path stroke="#00ab8d" d="M189 9h1"/><path stroke="#00ab90" d="M190 9h3"/><path stroke="#00ab93" d="M193 9h3"/><path stroke="#00ab96" d="M196 9h3"/><path stroke="#00ab99" d="M199 9h1"/><path stroke="#00ab9c" d="M200 9h1"/><path stroke="#00ab9f" d="M201 9h1"/><path stroke="#00aba2" d="M202 9h1"/><path stroke="#00aba8" d="M203 9h1"/><path stroke="#00a8b1" d="M204 9h1"/><path stroke="#00a5bd" d="M205 9h1"/><path stroke="#009fc9" d="M206 9h1"/><path stroke="#009cd2" d="M207 9h1"/><path stroke="#0099db" d="M208 9h1"/><path stroke="#0093de" d="M209 9h1"/><path stroke="#008dde" d="M210 9h1"/><path stroke="#0087de" d="M211 9h1"/><path stroke="#0084de" d="M212 9h1"/><path stroke="#007ede" d="M213 9h1"/><path stroke="#0078de" d="M214 9h1"/><path stroke="#006cde" d="M215 9h1"/><path stroke="#005ade" d="M216 9h1"/><path stroke="#0045de" d="M217 9h1"/><path stroke="#0033de" d="M218 9h1"/><path stroke="#0021de" d="M219 9h1"/><path stroke="#0012de" d="M220 9h1"/><path stroke="#000cde" d="M221 9h1"/><path stroke="#0006de" d="M222 9h1"/><path stroke="#0000de" d="M223 9h1"/><path stroke="#0000db" d="M224 9h1"/><path stroke="#0000d8" d="M225 9h3"/><path stroke="#0000d5" d="M228 9h1"/><path stroke="#0000d2" d="M229 9h1"/><path stroke="#0000cf" d="M230 9h1"/><path stroke="#0000cc" d="M231 9h1"/><path stroke="#0000c9" d="M232 9h1"/><path stroke="#0000c3" d="M233 9h1"/><path stroke="#0000ba" d="M234 9h1"/><path stroke="#0000b4" d="M235 9h1"/><path stroke="#0000ae" d="M236 9h1"/><path stroke="#0c00a8" d="M237 9h1"/><path stroke="#1e00a5" d="M238 9h1"/><path stroke="#3300a5" d="M239 9h1"/><path stroke="#3f00a2" d="M240 9h1"/><path stroke="#51009f" d="M241 9h1"/><path stroke="#5d009f" d="M242 9h1"/><path stroke="#66009c" d="M243 9h1"/><path stroke="#6c009c" d="M244 9h1"/><path stroke="#6f009c" d="M245 9h1"/><path stroke="#3c4bbd" d="M246 9h1"/><path stroke="#0099de" d="M247 9h2"/><path stroke="#0000b1" d="M249 9h1"/><path stroke="#001ebd" d="M250 9h1"/><path stroke="#007bde" d="M251 9h2"/><path stroke="#001ecf" d="M253 9h1"/><path stroke="#0000c9" d="M254 9h3"/><path stroke="#0066d8" d="M257 9h1"/><path stroke="#0087de" d="M258 9h1"/><path stroke="#0021cf" d="M259 9h1"/><path stroke="#0000c9" d="M260 9h1"/><path stroke="#00a2c3" d="M261 9h2"/><path stroke="#1b27ae" d="M263 9h1"/><path stroke="#0c00b1" d="M264 9h1"/><path stroke="#0000ba" d="M265 9h3"/><path stroke="#5100a5" d="M268 9h1"/><path stroke="#840099" d="M269 9h1"/><path stroke="#870099" d="M270 9h7"/><path stroke="#870096" d="M277 9h1"/><path stroke="#840096" d="M278 9h2"/><path stroke="#840093" d="M280 9h2"/><path stroke="#810093" d="M282 9h2"/><path stroke="#810090" d="M284 9h1"/><path stroke="#7e0090" d="M285 9h2"/><path stroke="#7b008d" d="M287 9h2"/><path stroke="#78008a" d="M289 9h1"/><path stroke="#750087" d="M290 9h1"/><path stroke="#6f007e" d="M291 9h1"/><path stroke="#63006f" d="M292 9h1"/><path stroke="#5a0066" d="M293 9h1"/><path stroke="#4e0057" d="M294 9h1"/><path stroke="#45004e" d="M295 9h1"/><path stroke="#390042" d="M296 9h1"/><path stroke="#33003c" d="M297 9h1"/><path stroke="#2a0030" d="M298 9h1"/><path stroke="#240027" d="M299 9h1"/><path stroke="#1b0021" d="M300 9h1"/><path stroke="#150018" d="M301 9h1"/><path stroke="#0f0012" d="M302 9h1"/><path stroke="#09000c" d="M303 9h1"/><path stroke="#060009" d="M304 9h1"/><path stroke="#000000" d="M305 9h10"/></g>
<g transform="translate(0,262.182)"><path stroke="#0000de" d="M48 9h1"/><path stroke="#24002a" d="M49 9h49"/><path stroke="#27002d" d="M98 9h1"/><path stroke="#300036" d="M99 9h1"/><path stroke="#39003f" d="M100 9h1"/><path stroke="#3f0048" d="M101 9h1"/><path stroke="#540060" d="M102 9h1"/><path stroke="#660075" d="M103 9h1"/><path stroke="#78008a" d="M104 9h1"/><path stroke="#7e008d" d="M105 9h1"/><path stroke="#810090" d="M106 9h1"/><path stroke="#840093" d="M107 9h1"/><path stroke="#840096" d="M108 9h1"/><path stroke="#870096" d="M109 9h1"/><path stroke="#810099" d="M110 9h1"/><path stroke="#3c00a2" d="M111 9h1"/><path stroke="#0900ab" d="M112 9h1"/><path stroke="#0000b7" d="M113 9h1"/><path stroke="#0000bd" d="M114 9h1"/><path stroke="#0000c3" d="M115 9h1"/><path stroke="#0000c9" d="M116 9h1"/><path stroke="#0000cf" d="M117 9h1"/><path stroke="#0000d2" d="M118 9h1"/><path stroke="#0000d5" d="M119 9h1"/><path stroke="#0000d8" d="M120 9h1"/><path stroke="#0000db" d="M121 9h1"/><path stroke="#0000de" d="M122 9h1"/><path stroke="#0006de" d="M123 9h1"/><path stroke="#000fde" d="M124 9h1"/><path stroke="#001bde" d="M125 9h1"/><path stroke="#0027de" d="M126 9h1"/><path stroke="#0033de" d="M127 9h1"/><path stroke="#0042de" d="M128 9h1"/><path stroke="#005ade" d="M129 9h1"/><path stroke="#006cde" d="M130 9h1"/><path stroke="#0078de" d="M131 9h1"/><path stroke="#007bde" d="M132 9h1"/><path stroke="#007ede" d="M133 9h1"/><path stroke="#0081de" d="M134 9h1"/><path stroke="#0084de" d="M135 9h1"/><path stroke="#0087de" d="M136 9h3"/><path stroke="#008ade" d="M139 9h2"/><path stroke="#008dde" d="M141 9h2"/><path stroke="#0090de" d="M143 9h3"/><path stroke="#0093de" d="M146 9h3"/><path stroke="#0096de" d="M149 9h2"/><path stroke="#0099de" d="M151 9h2"/><path stroke="#0099db" d="M153 9h2"/><path stroke="#009cd8" d="M155 9h1"/><path stroke="#00bd6c" d="M156 9h1"/><path stroke="#cff900" d="M157 9h1"/><path stroke="#69ea00" d="M158 9h1"/><path stroke="#009fcf" d="M159 9h1"/><path stroke="#009fcc" d="M160 9h1"/><path stroke="#009fc9" d="M161 9h1"/><path stroke="#00a2c6" d="M162 9h1"/><path stroke="#00a2c3" d="M163 9h1"/><path stroke="#00a2c0" d="M164 9h1"/><path stroke="#00a5bd" d="M165 9h1"/><path stroke="#00a5ba" d="M166 9h1"/><path stroke="#00a5b7" d="M167 9h2"/><path stroke="#00a8b4" d="M169 9h1"/><path stroke="#00a8b1" d="M170 9h1"/><path stroke="#00a8ae" d="M171 9h2"/><path stroke="#00abab" d="M173 9h4"/><path stroke="#00aba8" d="M177 9h3"/><path stroke="#00aba5" d="M180 9h3"/><path stroke="#00aba2" d="M183 9h2"/><path stroke="#00ab9c" d="M185 9h1"/><path stroke="#00ab96" d="M186 9h2"/><path stroke="#00ab9c" d="M188 9h1"/><path stroke="#00aba2" d="M189 9h4"/><path stroke="#00aba5" d="M193 9h6"/><path stroke="#00aba8" d="M199 9h2"/><path stroke="#00a8ab" d="M201 9h1"/><path stroke="#00a8b1" d="M202 9h1"/><path stroke="#00a5b7" d="M203 9h1"/><path stroke="#00a2c0" d="M204 9h1"/><path stroke="#009fc9" d="M205 9h1"/><path stroke="#009cd2" d="M206 9h1"/><path stroke="#0099d8" d="M207 9h1"/><path stroke="#0096de" d="M208 9h1"/><path stroke="#0090de" d="M209 9h1"/><path stroke="#008dde" d="M210 9h1"/><path stroke="#0087de" d="M211 9h1"/><path stroke="#0084de" d="M212 9h1"/><path stroke="#007ede" d="M213 9h1"/><path stroke="#0078de" d="M214 9h1"/><path stroke="#006cde" d="M215 9h1"/><path stroke="#005ade" d="M216 9h1"/><path stroke="#0045de" d="M217 9h1"/><path stroke="#0033de" d="M218 9h1"/><path stroke="#0021de" d="M219 9h1"/><path stroke="#0012de" d="M220 9h1"/><path stroke="#000cde" d="M221 9h1"/><path stroke="#0006de" d="M222 9h1"/><path stroke="#0000de" d="M223 9h1"/><path stroke="#0000db" d="M224 9h1"/><path stroke="#0000d8" d="M225 9h3"/><path stroke="#0000d5" d="M228 9h1"/><path stroke="#0000d2" d="M229 9h1"/><path stroke="#0000cf" d="M230 9h1"/><path stroke="#0000cc" d="M231 9h1"/><path stroke="#0000c9" d="M232 9h1"/><path stroke="#0000c3" d="M233 9h1"/><path stroke="#0000ba" d="M234 9h1"/><path stroke="#0000b4" d="M235 9h1"/><path stroke="#0000ae" d="M236 9h1"/><path stroke="#0c00a8" d="M237 9h1"/><path stroke="#1e00a5" d="M238 9h1"/><path stroke="#3300a5" d="M239 9h1"/><path stroke="#3f00a2" d="M240 9h1"/><path stroke="#51009f" d="M241 9h1"/><path stroke="#5d009f" d="M242 9h1"/><path stroke="#66009c" d="M243 9h1"/><path stroke="#6c009c" d="M244 9h1"/><path stroke="#6f009c" d="M245 9h1"/><path stroke="#3c4bbd" d="M246 9h1"/><path stroke="#0099de" d="M247 9h2"/><path stroke="#0000b1" d="M249 9h1"/><path stroke="#001ebd" d="M250 9h1"/><path stroke="#007bde" d="M251 9h2"/><path stroke="#001ecf" d="M253 9h1"/><path stroke="#0000c9" d="M254 9h3"/><path stroke="#0066d8" d="M257 9h1"/><path stroke="#0087de" d="M258 9h1"/><path stroke="#0021cf" d="M259 9h1"/><path stroke="#0000c9" d="M260 9h1"/><path stroke="#00a2c3" d="M261 9h2"/><path stroke="#1b27ae" d="M263 9h1"/><path stroke="#0c00b1" d="M264 9h1"/><path stroke="#0000ba" d="M265 9h3"/><path stroke="#5100a5" d="M268 9h1"/><path stroke="#840099" d="M269 9h1"/><path stroke="#870099" d="M270 9h7"/><path stroke="#870096" d="M277 9h1"/><path stroke="#840096" d="M278 9h2"/><path stroke="#840093" d="M280 9h2"/><path stroke="#810093" d="M282 9h2"/><path stroke="#810090" d="M284 9h1"/><path stroke="#7e0090" d="M285 9h2"/><path stroke="#7b008d" d="M287 9h2"/><path stroke="#78008a" d="M289 9h1"/><path stroke="#750087" d="M290 9h1"/><path stroke="#6f007e" d="M291 9h1"/><path stroke="#63006f" d="M292 9h1"/><path stroke="#5a0066" d="M293 9h1"/><path stroke="#4e0057" d="M294 9h1"/><path stroke="#45004e" d="M295 9h1"/><path stroke="#390042" d="M296 9h1"/><path stroke="#33003c" d="M297 9h1"/><path stroke="#2a0030" d="M298 9h1"/><path stroke="#240027" d="M299 9h1"/><path stroke="#1b0021" d="M300 9h1"/><path stroke="#150018" d="M301 9h1"/><path stroke="#0f0012" d="M302 9h1"/><path stroke="#09000c" d="M303 9h1"/><path stroke="#060009" d="M304 9h1"/><path stroke="#000000" d="M305 9h10"/></g>
<g transform="translate(0,278.909)"><path stroke="#0000de" d="M48 9h1"/><path stroke="#24002a" d="M49 9h49"/><path stroke="#27002d" d="M98 9h1"/><path stroke="#300036" d="M99 9h1"/><path stroke="#39003f" d="M100 9h1"/><path stroke="#3f0048" d="M101 9h1"/><path stroke="#540060" d="M102 9h1"/><path stroke="#660075" d="M103 9h1"/><path stroke="#78008a" d="M104 9h1"/><path stroke="#7e008d" d="M105 9h1"/><path stroke="#810090" d="M106 9h1"/><path stroke="#840093" d="M107 9h1"/><path stroke="#840096" d="M108 9h1"/><path stroke="#870096" d="M109 9h1"/><path stroke="#810099" d="M110 9h1"/><path stroke="#3c00a2" d="M111 9h1"/><path stroke="#0900ab" d="M112 9h1"/><path stroke="#0000b7" d="M113 9h1"/><path stroke="#0000bd" d="M114 9h1"/><path stroke="#0000c3" d="M115 9h1"/><path stroke="#0000c9" d="M116 9h1"/><path stroke="#0000cf" d="M117 9h1"/><path stroke="#0000d2" d="M118 9h1"/><path stroke="#0000d5" d="M119 9h1"/><path stroke="#0000d8" d="M120 9h1"/><path stroke="#0000db" d="M121 9h1"/><path stroke="#0000de" d="M122 9h1"/><path stroke="#0006de" d="M123 9h1"/><path stroke="#000fde" d="M124 9h1"/><path stroke="#001bde" d="M125 9h1"/><path stroke="#0027de" d="M126 9h1"/><path stroke="#0033de" d="M127 9h1"/><path stroke="#0042de" d="M128 9h1"/><path stroke="#005ade" d="M129 9h1"/><path stroke="#006cde" d="M130 9h1"/><path stroke="#0078de" d="M131 9h1"/><path stroke="#007bde" d="M132 9h1"/><path stroke="#007ede" d="M133 9h1"/><path stroke="#0081de" d="M134 9h1"/><path stroke="#0084de" d="M135 9h1"/><path stroke="#0087de" d="M136 9h2"/><path stroke="#008ade" d="M138 9h2"/><path stroke="#008dde" d="M140 9h2"/><path stroke="#0090de" d="M142 9h2"/><path stroke="#0093de" d="M144 9h3"/><path stroke="#0096de" d="M147 9h3"/><path stroke="#0099de" d="M150 9h2"/><path stroke="#0099db" d="M152 9h2"/><path stroke="#009cd8" d="M154 9h1"/><path stroke="#009cd2" d="M155 9h2"/><path stroke="#009fcf" d="M157 9h1"/><path stroke="#009fcc" d="M158 9h1"/><path stroke="#009fc9" d="M159 9h1"/><path stroke="#00a2c6" d="M160 9h1"/><path stroke="#00a2c3" d="M161 9h1"/><path stroke="#00a2c0" d="M162 9h1"/><path stroke="#00a5bd" d="M163 9h1"/><path stroke="#00a5ba" d="M164 9h1"/><path stroke="#00a5b7" d="M165 9h1"/><path stroke="#00a8b4" d="M166 9h1"/><path stroke="#00a8b1" d="M167 9h1"/><path stroke="#00a8ae" d="M168 9h1"/><path stroke="#00abab" d="M169 9h2"/><path stroke="#00aba8" d="M171 9h2"/><path stroke="#00aba5" d="M173 9h2"/><path stroke="#00ab87" d="M175 9h2"/><path stroke="#00aba2" d="M177 9h3"/><path stroke="#00ab9f" d="M180 9h2"/><path stroke="#00ab9c" d="M182 9h3"/><path stroke="#00ab93" d="M185 9h1"/><path stroke="#00ab8d" d="M186 9h2"/><path stroke="#00ab93" d="M188 9h1"/><path stroke="#00ab9c" d="M189 9h6"/><path stroke="#00ab9f" d="M195 9h5"/><path stroke="#00aba2" d="M200 9h1"/><path stroke="#00aba5" d="M201 9h1"/><path stroke="#00aba8" d="M202 9h1"/><path stroke="#00a8ae" d="M203 9h1"/><path stroke="#00a5ba" d="M204 9h1"/><path stroke="#00a2c3" d="M205 9h1"/><path stroke="#009fcc" d="M206 9h1"/><path stroke="#009cd5" d="M207 9h1"/><path stroke="#0099de" d="M208 9h1"/><path stroke="#0093de" d="M209 9h1"/><path stroke="#008dde" d="M210 9h1"/><path stroke="#0087de" d="M211 9h1"/><path stroke="#0084de" d="M212 9h1"/><path stroke="#007ede" d="M213 9h1"/><path stroke="#0078de" d="M214 9h1"/><path stroke="#006cde" d="M215 9h1"/><path stroke="#005ade" d="M216 9h1"/><path stroke="#0045de" d="M217 9h1"/><path stroke="#0033de" d="M218 9h1"/><path stroke="#0021de" d="M219 9h1"/><path stroke="#0012de" d="M220 9h1"/><path stroke="#000cde" d="M221 9h1"/><path stroke="#0006de" d="M222 9h1"/><path stroke="#0000de" d="M223 9h1"/><path stroke="#0000db" d="M224 9h1"/><path stroke="#0000d8" d="M225 9h3"/><path stroke="#0000d5" d="M228 9h1"/><path stroke="#0000d2" d="M229 9h1"/><path stroke="#0000cf" d="M230 9h1"/><path stroke="#0000cc" d="M231 9h1"/><path stroke="#0000c9" d="M232 9h1"/><path stroke="#0000c3" d="M233 9h1"/><path stroke="#0000ba" d="M234 9h1"/><path stroke="#0000b4" d="M235 9h1"/><path stroke="#0000ae" d="M236 9h1"/><path stroke="#0c00a8" d="M237 9h1"/><path stroke="#1e00a5" d="M238 9h1"/><path stroke="#3300a5" d="M239 9h1"/><path stroke="#3f00a2" d="M240 9h1"/><path stroke="#51009f" d="M241 9h1"/><path stroke="#5d009f" d="M242 9h1"/><path stroke="#66009c" d="M243 9h1"/><path stroke="#6c009c" d="M244 9h1"/><path stroke="#6f009c" d="M245 9h1"/><path stroke="#3c4bbd" d="M246 9h1"/><path stroke="#0099de" d="M247 9h2"/><path stroke="#0000b1" d="M249 9h1"/><path stroke="#001ebd" d="M250 9h1"/><path stroke="#007bde" d="M251 9h2"/><path stroke="#001ecf" d="M253 9h1"/><path stroke="#0000c9" d="M254 9h3"/><path stroke="#0066d8" d="M257 9h1"/><path stroke="#0087de" d="M258 9h1"/><path stroke="#0021cf" d="M259 9h1"/><path stroke="#0000c9" d="M260 9h1"/><path stroke="#00a2c3" d="M261 9h2"/><path stroke="#1b27ae" d="M263 9h1"/><path stroke="#0c00b1" d="M264 9h1"/><path stroke="#0000ba" d="M265 9h3"/><path stroke="#5100a5" d="M268 9h1"/><path stroke="#840099" d="M269 9h1"/><path stroke="#870099" d="M270 9h7"/><path stroke="#870096" d="M277 9h1"/><path stroke="#840096" d="M278 9h2"/><path stroke="#840093" d="M280 9h2"/><path stroke="#810093" d="M282 9h2"/><path stroke="#810090" d="M284 9h1"/><path stroke="#7e0090" d="M285 9h2"/><path stroke="#7b008d" d="M287 9h2"/><path stroke="#78008a" d="M289 9h1"/><path stroke="#750087" d="M290 9h1"/><path stroke="#6f007e" d="M291 9h1"/><path stroke="#63006f" d="M292 9h1"/><path stroke="#5a0066" d="M293 9h1"/><path stroke="#4e0057" d="M294 9h1"/><path stroke="#45004e" d="M295 9h1"/><path stroke="#390042" d="M296 9h1"/><path stroke="#33003c" d="M297 9h1"/><path stroke="#2a0030" d="M298 9h1"/><path stroke="#240027" d="M299 9h1"/><path stroke="#1b0021" d="M300 9h1"/><path stroke="#150018" d="M301 9h1"/><path stroke="#0f0012" d="M302 9h1"/><path stroke="#09000c" d="M303 9h1"/><path stroke="#060009" d="M304 9h1"/><path stroke="#000000" d="M305 9h10"/></g>
<g transform="translate(0,295.636)"><path stroke="#0000de" d="M48 9h1"/><path stroke="#24002a" d="M49 9h49"/><path stroke="#27002d" d="M98 9h1"/><path stroke="#300036" d="M99 9h1"/><path stroke="#39003f" d="M100 9h1"/><path stroke="#3f0048" d="M101 9h1"/><path stroke="#540060" d="M102 9h1"/><path stroke="#660075" d="M103 9h1"/><path stroke="#78008a" d="M104 9h1"/><path stroke="#7e008d" d="M105 9h1"/><path stroke="#810090" d="M106 9h1"/><path stroke="#840093" d="M107 9h1"/><path stroke="#840096" d="M108 9h1"/><path stroke="#870096" d="M109 9h1"/><path stroke="#810099" d="M110 9h1"/><path stroke="#3c00a2" d="M111 9h1"/><path stroke="#0900ab" d="M112 9h1"/><path stroke="#0000b7" d="M113 9h1"/><path stroke="#0000bd" d="M114 9h1"/><path stroke="#0000c3" d="M115 9h1"/><path stroke="#0000c9" d="M116 9h1"/><path stroke="#0000cf" d="M117 9h1"/><path stroke="#0000d2" d="M118 9h1"/><path stroke="#0000d5" d="M119 9h1"/><path stroke="#0000d8" d="M120 9h1"/><path stroke="#0000db" d="M121 9h1"/><path stroke="#0000de" d="M122 9h1"/><path stroke="#0006de" d="M123 9h1"/><path stroke="#000fde" d="M124 9h1"/><path stroke="#001bde" d="M125 9h1"/><path stroke="#0027de" d="M126 9h1"/><path stroke="#0033de" d="M127 9h1"/><path stroke="#0042de" d="M128 9h1"/><path stroke="#005ade" d="M129 9h1"/><path stroke="#006cde" d="M130 9h1"/><path stroke="#0078de" d="M131 9h1"/><path stroke="#007bde" d="M132 9h1"/><path stroke="#007ede" d="M133 9h1"/><path stroke="#0081de" d="M134 9h1"/><path stroke="#0084de" d="M135 9h2"/><path stroke="#0087de" d="M137 9h2"/><path stroke="#008ade" d="M139 9h2"/><path stroke="#008dde" d="M141 9h3"/><path stroke="#0090de" d="M144 9h3"/><path stroke="#0093de" d="M147 9h4"/><path stroke="#0096de" d="M151 9h3"/><path stroke="#0099de" d="M154 9h1"/><path stroke="#0099db" d="M155 9h2"/><path stroke="#009cd8" d="M157 9h1"/><path stroke="#009cd5" d="M158 9h1"/><path stroke="#009cd2" d="M159 9h1"/><path stroke="#009ccf" d="M160 9h1"/><path stroke="#009fcf" d="M161 9h1"/><path stroke="#009fcc" d="M162 9h1"/><path stroke="#009fc9" d="M163 9h1"/><path stroke="#009fc6" d="M164 9h1"/><path stroke="#00a2c3" d="M165 9h1"/><path stroke="#00a2c0" d="M166 9h2"/><path stroke="#00a2bd" d="M168 9h1"/><path stroke="#00a5ba" d="M169 9h2"/><path stroke="#00a5b7" d="M171 9h2"/><path stroke="#00a5b4" d="M173 9h1"/><path stroke="#00a8b4" d="M174 9h3"/><path stroke="#00a8b1" d="M177 9h1"/><path stroke="#00a8ae" d="M178 9h3"/><path stroke="#00a8ab" d="M181 9h1"/><path stroke="#00abab" d="M182 9h3"/><path stroke="#00aba2" d="M185 9h1"/><path stroke="#00ab9c" d="M186 9h2"/><path stroke="#00aba2" d="M188 9h1"/><path stroke="#00aba8" d="M189 9h1"/><path stroke="#00abab" d="M190 9h7"/><path stroke="#00a8ae" d="M197 9h3"/><path stroke="#00a8b1" d="M200 9h1"/><path stroke="#00a5b4" d="M201 9h1"/><path stroke="#00a5b7" d="M202 9h1"/><path stroke="#00a2c0" d="M203 9h1"/><path stroke="#00a2c6" d="M204 9h1"/><path stroke="#009fcc" d="M205 9h1"/><path stroke="#009cd5" d="M206 9h1"/><path stroke="#0099db" d="M207 9h1"/><path stroke="#0093de" d="M208 9h1"/><path stroke="#0090de" d="M209 9h1"/><path stroke="#008ade" d="M210 9h1"/><path stroke="#0087de" d="M211 9h1"/><path stroke="#0084de" d="M212 9h1"/><path stroke="#007ede" d="M213 9h1"/><path stroke="#0078de" d="M214 9h1"/><path stroke="#006cde" d="M215 9h1"/><path stroke="#005ade" d="M216 9h1"/><path stroke="#0045de" d="M217 9h1"/><path stroke="#0033de" d="M218 9h1"/><path stroke="#0021de" d="M219 9h1"/><path stroke="#0012de" d="M220 9h1"/><path stroke="#000cde" d="M221 9h1"/><path stroke="#0006de" d="M222 9h1"/><path stroke="#0000de" d="M223 9h1"/><path stroke="#0000db" d="M224 9h1"/><path stroke="#0000d8" d="M225 9h3"/><path stroke="#0000d5" d="M228 9h1"/><path stroke="#0000d2" d="M229 9h1"/><path stroke="#0000cf" d="M230 9h1"/><path stroke="#0000cc" d="M231 9h1"/><path stroke="#0000c9" d="M232 9h1"/><path stroke="#0000c3" d="M233 9h1"/><path stroke="#0000ba" d="M234 9h1"/><path stroke="#0000b4" d="M235 9h1"/><path stroke="#0000ae" d="M236 9h1"/><path stroke="#0c00a8" d="M237 9h1"/><path stroke="#1e00a5" d="M238 9h1"/><path stroke="#3300a5" d="M239 9h1"/><path stroke="#3f00a2" d="M240 9h1"/><path stroke="#51009f" d="M241 9h1"/><path stroke="#5d009f" d="M242 9h1"/><path stroke="#66009c" d="M243 9h1"/><path stroke="#6c009c" d="M244 9h1"/><path stroke="#6f009c" d="M245 9h1"/><path stroke="#3c4bbd" d="M246 9h1"/><path stroke="#0099de" d="M247 9h2"/><path stroke="#0000b1" d="M249 9h1"/><path stroke="#001ebd" d="M250 9h1"/><path stroke="#007bde" d="M251 9h2"/><path stroke="#001ecf" d="M253 9h1"/><path stroke="#0000c9" d="M254 9h3"/><path stroke="#0066d8" d="M257 9h1"/><path stroke="#0087de" d="M258 9h1"/><path stroke="#0021cf" d="M259 9h1"/><path stroke="#0000c9" d="M260 9h1"/><path stroke="#00a2c3" d="M261 9h2"/><path stroke="#1b27ae" d="M263 9h1"/><path stroke="#0c00b1" d="M264 9h1"/><path stroke="#0000ba" d="M265 9h3"/><path stroke="#5100a5" d="M268 9h1"/><path stroke="#840099" d="M269 9h1"/><path stroke="#870099" d="M270 9h7"/><path stroke="#870096" d="M277 9h1"/><path stroke="#840096" d="M278 9h2"/><path stroke="#840093" d="M280 9h2"/><path stroke="#810093" d="M282 9h2"/><path stroke="#810090" d="M284 9h1"/><path stroke="#7e0090" d="M285 9h2"/><path stroke="#7b008d" d="M287 9h2"/><path stroke="#78008a" d="M289 9h1"/><path stroke="#750087" d="M290 9h1"/><path stroke="#6f007e" d="M291 9h1"/><path stroke="#63006f" d="M292 9h1"/><path stroke="#5a0066" d="M293 9h1"/><path stroke="#4e0057" d="M294 9h1"/><path stroke="#45004e" d="M295 9h1"/><path stroke="#390042" d="M296 9h1"/><path stroke="#33003c" d="M297 9h1"/><path stroke="#2a0030" d="M298 9h1"/><path stroke="#240027" d="M299 9h1"/><path stroke="#1b0021" d="M300 9h1"/><path stroke="#150018" d="M301 9h1"/><path stroke="#0f0012" d="M302 9h1"/><path stroke="#09000c" d="M303 9h1"/><path stroke="#060009" d="M304 9h1"/><path stroke="#000000" d="M305 9h10"/></g>
<g transform="translate(0,312.364)"><path stroke="#00ab96" d="M48 9h1"/><path stroke="#24002a" d="M49 9h49"/><path stroke="#27002d" d="M98 9h1"/><path stroke="#300036" d="M99 9h1"/><path stroke="#39003f" d="M100 9h1"/><path stroke="#3f0048" d="M101 9h1"/><path stroke="#540060" d="M102 9h1"/><path stroke="#660075" d="M103 9h1"/><path stroke="#78008a" d="M104 9h1"/><path stroke="#7e008d" d="M105 9h1"/><path stroke="#810090" d="M106 9h1"/><path stroke="#840093" d="M107 9h1"/><path stroke="#840096" d="M108 9h1"/><path stroke="#870096" d="M109 9h1"/><path stroke="#810099" d="M110 9h1"/><path stroke="#3c00a2" d="M111 9h1"/><path stroke="#0900ab" d="M112 9h1"/><path stroke="#0000b7" d="M113 9h1"/><path stroke="#0000bd" d="M114 9h1"/><path stroke="#0000c3" d="M115 9h1"/><path stroke="#0000c9" d="M116 9h1"/><path stroke="#0000cf" d="M117 9h1"/><path stroke="#0000d2" d="M118 9h1"/><path stroke="#0000d5" d="M119 9h1"/><path stroke="#0000d8" d="M120 9h1"/><path stroke="#0000db" d="M121 9h1"/><path stroke="#0000de" d="M122 9h1"/><path stroke="#0006de" d="M123 9h1"/><path stroke="#000fde" d="M124 9h1"/><path stroke="#001bde" d="M125 9h1"/><path stroke="#0027de" d="M126 9h1"/><path stroke="#0033de" d="M127 9h1"/><path stroke="#0042de" d="M128 9h1"/><path stroke="#005ade" d="M129 9h1"/><path stroke="#006cde" d="M130 9h1"/><path stroke="#0078de" d="M131 9h1"/><path stroke="#007bde" d="M132 9h1"/><path stroke="#007ede" d="M133 9h1"/><path stroke="#0081de" d="M134 9h1"/><path stroke="#0084de" d="M135 9h2"/><path stroke="#0087de" d="M137 9h2"/><path stroke="#008ade" d="M139 9h2"/><path stroke="#008dde" d="M141 9h3"/><path stroke="#0090de" d="M144 9h3"/><path stroke="#0093de" d="M147 9h3"/><path stroke="#0096de" d="M150 9h3"/><path stroke="#0099de" d="M153 9h1"/><path stroke="#0099db" d="M154 9h2"/><path stroke="#009cd8" d="M156 9h1"/><path stroke="#009cd5" d="M157 9h1"/><path stroke="#009cd2" d="M158 9h2"/><path stroke="#009fcf" d="M160 9h1"/><path stroke="#009fcc" d="M161 9h1"/><path stroke="#009fc9" d="M162 9h1"/><path stroke="#009fc6" d="M163 9h1"/><path stroke="#00a2c3" d="M164 9h1"/><path stroke="#00a2c0" d="M165 9h2"/><path stroke="#00a5bd" d="M167 9h1"/><path stroke="#00a5ba" d="M168 9h2"/><path stroke="#00a5b7" d="M170 9h1"/><path stroke="#00a8b4" d="M171 9h3"/><path stroke="#00a8b1" d="M174 9h1"/><path stroke="#00a8ae" d="M175 9h4"/><path stroke="#00abab" d="M179 9h3"/><path stroke="#00aba8" d="M182 9h3"/><path stroke="#00ab9f" d="M185 9h1"/><path stroke="#00ab9c" d="M186 9h2"/><path stroke="#00aba2" d="M188 9h1"/><path stroke="#00aba8" d="M189 9h6"/><path stroke="#00abab" d="M195 9h5"/><path stroke="#00a8ae" d="M200 9h1"/><path stroke="#00a8b1" d="M201 9h1"/><path stroke="#00a5b7" d="M202 9h1"/><path stroke="#00a5ba" d="M203 9h1"/><path stroke="#00a2c3" d="M204 9h1"/><path stroke="#009fcc" d="M205 9h1"/><path stroke="#009cd5" d="M206 9h1"/><path stroke="#0099db" d="M207 9h1"/><path stroke="#0093de" d="M208 9h1"/><path stroke="#0090de" d="M209 9h1"/><path stroke="#008dde" d="M210 9h1"/><path stroke="#0087de" d="M211 9h1"/><path stroke="#0084de" d="M212 9h1"/><path stroke="#007ede" d="M213 9h1"/><path stroke="#0078de" d="M214 9h1"/><path stroke="#006cde" d="M215 9h1"/><path stroke="#005ade" d="M216 9h1"/><path stroke="#0045de" d="M217 9h1"/><path stroke="#0033de" d="M218 9h1"/><path stroke="#0021de" d="M219 9h1"/><path stroke="#0012de" d="M220 9h1"/><path stroke="#000cde" d="M221 9h1"/><path stroke="#0006de" d="M222 9h1"/><path stroke="#0000de" d="M223 9h1"/><path stroke="#0000db" d="M224 9h1"/><path stroke="#0000d8" d="M225 9h3"/><path stroke="#0000d5" d="M228 9h1"/><path stroke="#0000d2" d="M229 9h1"/><path stroke="#0000cf" d="M230 9h1"/><path stroke="#0000cc" d="M231 9h1"/><path stroke="#0000c9" d="M232 9h1"/><path stroke="#0000c3" d="M233 9h1"/><path stroke="#0000ba" d="M234 9h1"/><path stroke="#0000b4" d="M235 9h1"/><path stroke="#0000ae" d="M236 9h1"/><path stroke="#0c00a8" d="M237 9h1"/><path stroke="#1e00a5" d="M238 9h1"/><path stroke="#3300a5" d="M239 9h1"/><path stroke="#3f00a2" d="M240 9h1"/><path stroke="#51009f" d="M241 9h1"/><path stroke="#5d009f" d="M242 9h1"/><path stroke="#66009c" d="M243 9h1"/><path stroke="#6c009c" d="M244 9h1"/><path stroke="#6f009c" d="M245 9h1"/><path stroke="#3c4bbd" d="M246 9h1"/><path stroke="#0099de" d="M247 9h2"/><path stroke="#0000b1" d="M249 9h1"/><path stroke="#001ebd" d="M250 9h1"/><path stroke="#007bde" d="M251 9h2"/><path stroke="#001ecf" d="M253 9h1"/><path stroke="#0000c9" d="M254 9h3"/><path stroke="#0066d8" d="M257 9h1"/><path stroke="#0087de" d="M258 9h1"/><path stroke="#0021cf" d="M259 9h1"/><path stroke="#0000c9" d="M260 9h1"/><path stroke="#00a2c3" d="M261 9h2"/><path stroke="#1b27ae" d="M263 9h1"/><path stroke="#0c00b1" d="M264 9h1"/><path stroke="#0000ba" d="M265 9h3"/><path stroke="#5100a5" d="M268 9h1"/><path stroke="#840099" d="M269 9h1"/><path stroke="#870099" d="M270 9h7"/><path stroke="#870096" d="M277 9h1"/><path stroke="#840096" d="M278 9h2"/><path stroke="#840093" d="M280 9h2"/><path stroke="#810093" d="M282 9h2"/><path stroke="#810090" d="M284 9h1"/><path stroke="#7e0090" d="M285 9h2"/><path stroke="#7b008d" d="M287 9h2"/><path stroke="#78008a" d="M289 9h1"/><path stroke="#750087" d="M290 9h1"/><path stroke="#6f007e" d="M291 9h1"/><path stroke="#63006f" d="M292 9h1"/><path stroke="#5a0066" d="M293 9h1"/><path stroke="#4e0057" d="M294 9h1"/><path stroke="#45004e" d="M295 9h1"/><path stroke="#390042" d="M296 9h1"/><path stroke="#33003c" d="M297 9h1"/><path stroke="#2a0030" d="M298 9h1"/><path stroke="#240027" d="M299 9h1"/><path stroke="#1b0021" d="M300 9h1"/><path stroke="#150018" d="M301 9h1"/><path stroke="#0f0012" d="M302 9h1"/><path stroke="#09000c" d="M303 9h1"/><path stroke="#060009" d="M304 9h1"/><path stroke="#000000" d="M305 9h10"/></g>
<g transform="translate(0,329.091)"><path stroke="#0000de" d="M48 9h1"/><path stroke="#24002a" d="M49 9h49"/><path stroke="#27002d" d="M98 9h1"/><path stroke="#300036" d="M99 9h1"/><path stroke="#39003f" d="M100 9h1"/><path stroke="#3f0048" d="M101 9h1"/><path stroke="#540060" d="M102 9h1"/><path stroke="#660075" d="M103 9h1"/><path stroke="#78008a" d="M104 9h1"/><path stroke="#7e008d" d="M105 9h1"/><path stroke="#810090" d="M106 9h1"/><path stroke="#840093" d="M107 9h1"/><path stroke="#840096" d="M108 9h1"/><path stroke="#870096" d="M109 9h1"/><path stroke="#810099" d="M110 9h1"/><path stroke="#3c00a2" d="M111 9h1"/><path stroke="#0900ab" d="M112 9h1"/><path stroke="#0000b7" d="M113 9h1"/><path stroke="#0000bd" d="M114 9h1"/><path stroke="#0000c3" d="M115 9h1"/><path stroke="#0000c9" d="M116 9h1"/><path stroke="#0000cf" d="M117 9h1"/><path stroke="#0000d2" d="M118 9h1"/><path stroke="#0000d5" d="M119 9h1"/><path stroke="#0000d8" d="M120 9h1"/><path stroke="#0000db" d="M121 9h1"/><path stroke="#0000de" d="M122 9h1"/><path stroke="#0006de" d="M123 9h1"/><path stroke="#000fde" d="M124 9h1"/><path stroke="#001bde" d="M125 9h1"/><path stroke="#0027de" d="M126 9h1"/><path stroke="#0033de" d="M127 9h1"/><path stroke="#0042de" d="M128 9h1"/><path stroke="#005ade" d="M129 9h1"/><path stroke="#006cde" d="M130 9h1"/><path stroke="#0078de" d="M131 9h1"/><path stroke="#007bde" d="M132 9h1"/><path stroke="#007ede" d="M133 9h1"/><path stroke="#0081de" d="M134 9h1"/><path stroke="#0084de" d="M135 9h1"/><path stroke="#0087de" d="M136 9h2"/><path stroke="#008ade" d="M138 9h2"/><path stroke="#008dde" d="M140 9h2"/><path stroke="#0090de" d="M142 9h2"/><path stroke="#0093de" d="M144 9h3"/><path stroke="#0096de" d="M147 9h3"/><path stroke="#0099de" d="M150 9h2"/><path stroke="#0099db" d="M152 9h2"/><path stroke="#009cd8" d="M154 9h1"/><path stroke="#009cd2" d="M155 9h2"/><path stroke="#009fcf" d="M157 9h1"/><path stroke="#009fcc" d="M158 9h1"/><path stroke="#009fc9" d="M159 9h1"/><path stroke="#00a2c6" d="M160 9h1"/><path stroke="#00a2c3" d="M161 9h1"/><path stroke="#00a2c0" d="M162 9h1"/><path stroke="#00a5bd" d="M163 9h1"/><path stroke="#00a5ba" d="M164 9h1"/><path stroke="#00a5b7" d="M165 9h1"/><path stroke="#00a8b4" d="M166 9h1"/><path stroke="#00a8b1" d="M167 9h1"/><path stroke="#00a8ae" d="M168 9h1"/><path stroke="#00abab" d="M169 9h2"/><path stroke="#00aba8" d="M171 9h2"/><path stroke="#00aba5" d="M173 9h3"/><path stroke="#00aba2" d="M176 9h3"/><path stroke="#00a254" d="M179 9h5"/><path stroke="#00ab9c" d="M184 9h1"/><path stroke="#00ab93" d="M185 9h1"/><path stroke="#00ab8d" d="M186 9h2"/><path stroke="#00ab93" d="M188 9h1"/><path stroke="#00ab9c" d="M189 9h6"/><path stroke="#00ab9f" d="M195 9h5"/><path stroke="#00aba2" d="M200 9h1"/><path stroke="#00aba5" d="M201 9h1"/><path stroke="#00aba8" d="M202 9h1"/><path stroke="#00a8ae" d="M203 9h1"/><path stroke="#00a5ba" d="M204 9h1"/><path stroke="#00a2c3" d="M205 9h1"/><path stroke="#009fcc" d="M206 9h1"/><path stroke="#009cd5" d="M207 9h1"/><path stroke="#0099de" d="M208 9h1"/><path stroke="#0093de" d="M209 9h1"/><path stroke="#008dde" d="M210 9h1"/><path stroke="#0087de" d="M211 9h1"/><path stroke="#0084de" d="M212 9h1"/><path stroke="#007ede" d="M213 9h1"/><path stroke="#0078de" d="M214 9h1"/><path stroke="#006cde" d="M215 9h1"/><path stroke="#005ade" d="M216 9h1"/><path stroke="#0045de" d="M217 9h1"/><path stroke="#0033de" d="M218 9h1"/><path stroke="#0021de" d="M219 9h1"/><path stroke="#0012de" d="M220 9h1"/><path stroke="#000cde" d="M221 9h1"/><path stroke="#0006de" d="M222 9h1"/><path stroke="#0000de" d="M223 9h1"/><path stroke="#0000db" d="M224 9h1"/><path stroke="#0000d8" d="M225 9h3"/><path stroke="#0000d5" d="M228 9h1"/><path stroke="#0000d2" d="M229 9h1"/><path stroke="#0000cf" d="M230 9h1"/><path stroke="#0000cc" d="M231 9h1"/><path stroke="#0000c9" d="M232 9h1"/><path stroke="#0000c3" d="M233 9h1"/><path stroke="#0000ba" d="M234 9h1"/><path stroke="#0000b4" d="M235 9h1"/><path stroke="#0000ae" d="M236 9h1"/><path stroke="#0c00a8" d="M237 9h1"/><path stroke="#1e00a5" d="M238 9h1"/><path stroke="#3300a5" d="M239 9h1"/><path stroke="#3f00a2" d="M240 9h1"/><path stroke="#51009f" d="M241 9h1"/><path stroke="#5d009f" d="M242 9h1"/><path stroke="#66009c" d="M243 9h1"/><path stroke="#6c009c" d="M244 9h1"/><path stroke="#6f009c" d="M245 9h1"/><path stroke="#3c4bbd" d="M246 9h1"/><path stroke="#0099de" d="M247 9h2"/><path stroke="#0000b1" d="M249 9h1"/><path stroke="#001ebd" d="M250 9h1"/><path stroke="#007bde" d="M251 9h2"/><path stroke="#001ecf" d="M253 9h1"/><path stroke="#0000c9" d="M254 9h3"/><path stroke="#0066d8" d="M257 9h1"/><path stroke="#0087de" d="M258 9h1"/><path stroke="#0021cf" d="M259 9h1"/><path stroke="#0000c9" d="M260 9h1"/><path stroke="#00a2c3" d="M261 9h2"/><path stroke="#1b27ae" d="M263 9h1"/><path stroke="#0c00b1" d="M264 9h1"/><path stroke="#0000ba" d="M265 9h3"/><path stroke="#5100a5" d="M268 9h1"/><path stroke="#840099" d="M269 9h1"/><path stroke="#870099" d="M270 9h7"/><path stroke="#870096" d="M277 9h1"/><path stroke="#840096" d="M278 9h2"/><path stroke="#840093" d="M280 9h2"/><path stroke="#810093" d="M282 9h2"/><path stroke="#810090" d="M284 9h1"/><path stroke="#7e0090" d="M285 9h2"/><path stroke="#7b008d" d="M287 9h2"/><path stroke="#78008a" d="M289 9h1"/><path stroke="#750087" d="M290 9h1"/><path stroke="#6f007e" d="M291 9h1"/><path stroke="#63006f" d="M292 9h1"/><path stroke="#5a0066" d="M293 9h1"/><path stroke="#4e0057" d="M294 9h1"/><path stroke="#45004e" d="M295 9h1"/><path stroke="#390042" d="M296 9h1"/><path stroke="#33003c" d="M297 9h1"/><path stroke="#2a0030" d="M298 9h1"/><path stroke="#240027" d="M299 9h1"/><path stroke="#1b0021" d="M300 9h1"/><path stroke="#150018" d="M301 9h1"/><path stroke="#0f0012" d="M302 9h1"/><path stroke="#09000c" d="M303 9h1"/><path stroke="#060009" d="M304 9h1"/><path stroke="#000000" d="M305 9h10"/></g>
<g transform="translate(0,345.818)"><path stroke="#0099de" d="M48 9h1"/><path stroke="#24002a" d="M49 9h65"/><path stroke="#27002d" d="M114 9h1"/><path stroke="#36003c" d="M115 9h1"/><path stroke="#39003f" d="M116 9h30"/><path stroke="#3c0045" d="M146 9h1"/><path stroke="#42004b" d="M147 9h43"/><path stroke="#39003f" d="M190 9h1"/><path stroke="#300036" d="M191 9h94"/><path stroke="#2a0030" d="M285 9h1"/><path stroke="#24002a" d="M286 9h2"/><path stroke="#240027" d="M288 9h1"/><path stroke="#1b0021" d="M289 9h3"/><path stroke="#150018" d="M292 9h1"/><path stroke="#120015" d="M293 9h3"/><path stroke="#0c000c" d="M296 9h1"/><path stroke="#09000c" d="M297 9h4"/><path stroke="#000000" d="M301 9h14"/></g>
<g transform="translate(0,362.545)"><path stroke="#0000de" d="M48 9h1"/><path stroke="#1b0021" d="M49 9h44"/><path stroke="#24002a" d="M93 9h1"/><path stroke="#39003f" d="M94 9h1"/><path stroke="#5a0066" d="M95 9h1"/><path stroke="#750084" d="M96 9h1"/><path stroke="#7b008d" d="M97 9h1"/><path stroke="#7e0090" d="M98 9h1"/><path stroke="#810093" d="M99 9h1"/><path stroke="#870096" d="M100 9h1"/><path stroke="#60009f" d="M101 9h1"/><path stroke="#0c00ab" d="M102 9h1"/><path stroke="#0000cc" d="M103 9h1"/><path stroke="#0024de" d="M104 9h1"/><path stroke="#006cde" d="M105 9h1"/><path stroke="#0087de" d="M106 9h1"/><path stroke="#0099d8" d="M107 9h1"/><path stroke="#00a5ba" d="M108 9h1"/><path stroke="#00ab9f" d="M109 9h1"/><path stroke="#00a87b" d="M110 9h1"/><path stroke="#009f39" d="M111 9h1"/><path stroke="#009c0f" d="M112 9h1"/><path stroke="#009f00" d="M113 9h1"/><path stroke="#00a500" d="M114 9h1"/><path stroke="#00ab00" d="M115 9h1"/><path stroke="#00b100" d="M116 9h1"/><path stroke="#00b700" d="M117 9h1"/><path stroke="#00ba00" d="M118 9h1"/><path stroke="#00c000" d="M119 9h1"/><path stroke="#00c300" d="M120 9h1"/><path stroke="#00c900" d="M121 9h1"/><path stroke="#00cf00" d="M122 9h1"/><path stroke="#00d200" d="M123 9h1"/><path stroke="#00d800" d="M124 9h1"/><path stroke="#00db00" d="M125 9h1"/><path stroke="#00e100" d="M126 9h1"/><path stroke="#00e400" d="M127 9h1"/><path stroke="#00e700" d="M128 9h1"/><path stroke="#00ea00" d="M129 9h2"/><path stroke="#00ed00" d="M131 9h2"/><path stroke="#00f000" d="M133 9h2"/><path stroke="#00f300" d="M135 9h3"/><path stroke="#00f600" d="M138 9h2"/><path stroke="#00f900" d="M140 9h3"/><path stroke="#00fc00" d="M143 9h3"/><path stroke="#00ff00" d="M146 9h33"/><path stroke="#00fc00" d="M179 9h1"/><path stroke="#00f900" d="M180 9h1"/><path stroke="#00f600" d="M181 9h1"/><path stroke="#00f300" d="M182 9h1"/><path stroke="#00f000" d="M183 9h1"/><path stroke="#00ed00" d="M184 9h6"/><path stroke="#00f000" d="M190 9h3"/><path stroke="#00f300" d="M193 9h4"/><path stroke="#00f000" d="M197 9h3"/><path stroke="#00ed00" d="M200 9h5"/><path stroke="#00e700" d="M205 9h1"/><path stroke="#00e400" d="M206 9h1"/><path stroke="#00e100" d="M207 9h1"/><path stroke="#00db00" d="M208 9h1"/><path stroke="#00d500" d="M209 9h1"/><path stroke="#00d200" d="M210 9h1"/><path stroke="#00c300" d="M211 9h1"/><path stroke="#00b100" d="M212 9h1"/><path stroke="#00a500" d="M213 9h1"/><path stroke="#009f00" d="M214 9h1"/><path stroke="#009c00" d="M215 9h1"/><path stroke="#009903" d="M216 9h1"/><path stroke="#009c15" d="M217 9h1"/><path stroke="#009f33" d="M218 9h1"/><path stroke="#00a563" d="M219 9h1"/><path stroke="#00ab87" d="M220 9h1"/><path stroke="#00ab90" d="M221 9h1"/><path stroke="#00ab96" d="M222 9h1"/><path stroke="#00ab9c" d="M223 9h1"/><path stroke="#00ab9f" d="M224 9h1"/><path stroke="#00aba5" d="M225 9h1"/><path stroke="#00abab" d="M226 9h1"/><path stroke="#00a8b1" d="M227 9h1"/><path stroke="#00a5ba" d="M228 9h1"/><path stroke="#00a2c3" d="M229 9h1"/><path stroke="#009fcf" d="M230 9h1"/><path stroke="#009cd8" d="M231 9h1"/><path stroke="#0096de" d="M232 9h2"/><path stroke="#0093de" d="M234 9h1"/><path stroke="#0090de" d="M235 9h1"/><path stroke="#008dde" d="M236 9h1"/><path stroke="#008ade" d="M237 9h1"/><path stroke="#0087de" d="M238 9h1"/><path stroke="#0084de" d="M239 9h1"/><path stroke="#0081de" d="M240 9h1"/><path stroke="#007ede" d="M241 9h1"/><path stroke="#007bde" d="M242 9h1"/><path stroke="#0078de" d="M243 9h1"/><path stroke="#006fde" d="M244 9h1"/><path stroke="#0063de" d="M245 9h1"/><path stroke="#005ade" d="M246 9h1"/><path stroke="#008ade" d="M247 9h1"/><path stroke="#006cde" d="M248 9h1"/><path stroke="#0000de" d="M249 9h2"/><path stroke="#0084de" d="M251 9h1"/><path stroke="#0042de" d="M252 9h1"/><path stroke="#0000de" d="M253 9h4"/><path stroke="#008ade" d="M257 9h2"/><path stroke="#0000de" d="M259 9h2"/><path stroke="#008ade" d="M261 9h2"/><path stroke="#0000db" d="M263 9h1"/><path stroke="#0000d8" d="M264 9h1"/><path stroke="#0000d5" d="M265 9h2"/><path stroke="#0000d2" d="M267 9h1"/><path stroke="#0000cf" d="M268 9h1"/><path stroke="#0000cc" d="M269 9h1"/><path stroke="#0000c9" d="M270 9h1"/><path stroke="#0000c3" d="M271 9h1"/><path stroke="#0000c0" d="M272 9h1"/><path stroke="#0000ba" d="M273 9h1"/><path stroke="#0000b7" d="M274 9h1"/><path stroke="#0900ab" d="M275 9h1"/><path stroke="#3c00a2" d="M276 9h1"/><path stroke="#6f009c" d="M277 9h1"/><path stroke="#870099" d="M278 9h1"/><path stroke="#870096" d="M279 9h2"/><path stroke="#840096" d="M281 9h2"/><path stroke="#840093" d="M283 9h2"/><path stroke="#810093" d="M285 9h2"/><path stroke="#810090" d="M287 9h1"/><path stroke="#7e0090" d="M288 9h2"/><path stroke="#7b008d" d="M290 9h1"/><path stroke="#7b008a" d="M291 9h1"/><path stroke="#78008a" d="M292 9h1"/><path stroke="#6c007b" d="M293 9h1"/><path stroke="#5a0069" d="M294 9h1"/><path stroke="#4b0054" d="M295 9h1"/><path stroke="#3f0048" d="M296 9h1"/><path stroke="#33003c" d="M297 9h1"/><path stroke="#2a0030" d="M298 9h1"/><path stroke="#210024" d="M299 9h1"/><path stroke="#18001b" d="M300 9h1"/><path stroke="#0c000c" d="M301 9h1"/><path stroke="#09000c" d="M302 9h1"/><path stroke="#000000" d="M303 9h12"/></g>
<g transform="translate(0,379.273)"><path stroke="#0000de" d="M48 9h1"/><path stroke="#1b0021" d="M49 9h44"/><path stroke="#24002a" d="M93 9h1"/><path stroke="#39003f" d="M94 9h1"/><path stroke="#5a0066" d="M95 9h1"/><path stroke="#750084" d="M96 9h1"/><path stroke="#7b008d" d="M97 9h1"/><path stroke="#7e0090" d="M98 9h1"/><path stroke="#810093" d="M99 9h1"/><path stroke="#870096" d="M100 9h1"/><path stroke="#60009f" d="M101 9h1"/><path stroke="#0c00ab" d="M102 9h1"/><path stroke="#0000cc" d="M103 9h1"/><path stroke="#0024de" d="M104 9h1"/><path stroke="#006cde" d="M105 9h1"/><path stroke="#0087de" d="M106 9h1"/><path stroke="#0099d8" d="M107 9h1"/><path stroke="#00a5ba" d="M108 9h1"/><path stroke="#00ab9f" d="M109 9h1"/><path stroke="#00a87b" d="M110 9h1"/><path stroke="#009f39" d="M111 9h1"/><path stroke="#009c0f" d="M112 9h1"/><path stroke="#009f00" d="M113 9h1"/><path stroke="#00a500" d="M114 9h1"/><path stroke="#00ab00" d="M115 9h1"/><path stroke="#00b100" d="M116 9h1"/><path stroke="#00b700" d="M117 9h1"/><path stroke="#00ba00" d="M118 9h1"/><path stroke="#00c000" d="M119 9h1"/><path stroke="#00c300" d="M120 9h1"/><path stroke="#00c900" d="M121 9h1"/><path stroke="#00cf00" d="M122 9h1"/><path stroke="#00d200" d="M123 9h1"/><path stroke="#00d800" d="M124 9h1"/><path stroke="#00db00" d="M125 9h1"/><path stroke="#00e100" d="M126 9h1"/><path stroke="#00e400" d="M127 9h1"/><path stroke="#00e700" d="M128 9h1"/><path stroke="#00ea00" d="M129 9h2"/><path stroke="#00ed00" d="M131 9h2"/><path stroke="#00f000" d="M133 9h2"/><path stroke="#00f300" d="M135 9h3"/><path stroke="#00f600" d="M138 9h2"/><path stroke="#00f900" d="M140 9h3"/><path stroke="#00fc00" d="M143 9h3"/><path stroke="#00ff00" d="M146 9h33"/><path stroke="#00fc00" d="M179 9h1"/><path stroke="#00f900" d="M180 9h1"/><path stroke="#00f600" d="M181 9h1"/><path stroke="#00f300" d="M182 9h1"/><path stroke="#00f000" d="M183 9h1"/><path stroke="#00ed00" d="M184 9h6"/><path stroke="#00f000" d="M190 9h3"/><path stroke="#00f300" d="M193 9h4"/><path stroke="#00f000" d="M197 9h3"/><path stroke="#00ed00" d="M200 9h5"/><path stroke="#00e700" d="M205 9h1"/><path stroke="#00e400" d="M206 9h1"/><path stroke="#00e100" d="M207 9h1"/><path stroke="#00db00" d="M208 9h1"/><path stroke="#00d500" d="M209 9h1"/><path stroke="#00d200" d="M210 9h1"/><path stroke="#00c300" d="M211 9h1"/><path stroke="#00b100" d="M212 9h1"/><path stroke="#00a500" d="M213 9h1"/><path stroke="#009f00" d="M214 9h1"/><path stroke="#009c00" d="M215 9h1"/><path stroke="#009903" d="M216 9h1"/><path stroke="#009c15" d="M217 9h1"/><path stroke="#009f33" d="M218 9h1"/><path stroke="#00a563" d="M219 9h1"/><path stroke="#00ab87" d="M220 9h1"/><path stroke="#00ab90" d="M221 9h1"/><path stroke="#00ab96" d="M222 9h1"/><path stroke="#00ab9c" d="M223 9h1"/><path stroke="#00ab9f" d="M224 9h1"/><path stroke="#00aba5" d="M225 9h1"/><path stroke="#00abab" d="M226 9h1"/><path stroke="#00a8b1" d="M227 9h1"/><path stroke="#00a5ba" d="M228 9h1"/><path stroke="#00a2c3" d="M229 9h1"/><path stroke="#009fcf" d="M230 9h1"/><path stroke="#009cd8" d="M231 9h1"/><path stroke="#0096de" d="M232 9h2"/><path stroke="#0093de" d="M234 9h1"/><path stroke="#0090de" d="M235 9h1"/><path stroke="#008dde" d="M236 9h1"/><path stroke="#008ade" d="M237 9h1"/><path stroke="#0087de" d="M238 9h1"/><path stroke="#0084de" d="M239 9h1"/><path stroke="#0081de" d="M240 9h1"/><path stroke="#007ede" d="M241 9h1"/><path stroke="#007bde" d="M242 9h1"/><path stroke="#0078de" d="M243 9h1"/><path stroke="#006fde" d="M244 9h1"/><path stroke="#0063de" d="M245 9h1"/><path stroke="#005ade" d="M246 9h1"/><path stroke="#008ade" d="M247 9h1"/><path stroke="#006cde" d="M248 9h1"/><path stroke="#0000de" d="M249 9h2"/><path stroke="#0084de" d="M251 9h1"/><path stroke="#0042de" d="M252 9h1"/><path stroke="#0000de" d="M253 9h4"/><path stroke="#008ade" d="M257 9h2"/><path stroke="#0000de" d="M259 9h2"/><path stroke="#008ade" d="M261 9h2"/><path stroke="#0000db" d="M263 9h1"/><path stroke="#0000d8" d="M264 9h1"/><path stroke="#0000d5" d="M265 9h2"/><path stroke="#0000d2" d="M267 9h1"/><path stroke="#0000cf" d="M268 9h1"/><path stroke="#0000cc" d="M269 9h1"/><path stroke="#0000c6" d="M270 9h1"/><path stroke="#0000bd" d="M271 9h1"/><path stroke="#0000b1" d="M272 9h1"/><path stroke="#0c00a8" d="M273 9h1"/><path stroke="#2a00a5" d="M274 9h1"/><path stroke="#4800a2" d="M275 9h1"/><path stroke="#63009f" d="M276 9h1"/><path stroke="#7e0099" d="M277 9h1"/><path stroke="#870099" d="M278 9h1"/><path stroke="#870096" d="M279 9h2"/><path stroke="#840096" d="M281 9h2"/><path stroke="#840093" d="M283 9h2"/><path stroke="#810093" d="M285 9h2"/><path stroke="#810090" d="M287 9h1"/><path stroke="#7e0090" d="M288 9h2"/><path stroke="#7b008d" d="M290 9h1"/><path stroke="#7b008a" d="M291 9h1"/><path stroke="#78008a" d="M292 9h1"/><path stroke="#6c007b" d="M293 9h1"/><path stroke="#5a0069" d="M294 9h1"/><path stroke="#4b0054" d="M295 9h1"/><path stroke="#3f0048" d="M296 9h1"/><path stroke="#33003c" d="M297 9h1"/><path stroke="#2a0030" d="M298 9h1"/><path stroke="#210024" d="M299 9h1"/><path stroke="#18001b" d="M300 9h1"/><path stroke="#0c000c" d="M301 9h1"/><path stroke="#09000c" d="M302 9h1"/><path stroke="#000000" d="M303 9h12"/></g>
</g>
<g class="ln">
<polyline points="48.3,177.0 48.3,298.0 49.6,300.3 52.0,301.6 62.0,302.1 75.0,302.6 88.0,302.4 94.0,301.6 97.0,300.5 99.0,299.5 100.6,296.7 102.2,294.2 103.8,290.7 105.4,287.2 107.0,282.7 108.6,279.0 110.2,274.3 111.8,269.9 113.4,264.5 115.0,259.3 116.6,254.2 118.2,251.3 119.8,248.3 121.4,247.2 123.0,241.9 124.6,240.3 126.2,237.1 127.8,235.7 129.4,233.9 131.0,229.7 132.6,230.0 134.2,227.9 135.8,225.7 137.4,224.8 139.0,221.6 140.6,221.1 142.2,219.0 143.8,218.3 145.4,217.6 147.0,214.6 148.6,213.8 150.2,212.4 151.8,211.0 153.4,210.1 155.0,209.4 156.6,206.6 158.2,208.1 159.8,210.2 161.4,208.7 163.0,207.2 164.6,204.8 166.2,203.4 167.8,205.1 169.4,202.2 171.0,199.7 172.6,197.4 174.2,196.6 175.8,192.2 177.4,193.7 179.0,192.7 180.6,191.9 182.2,193.0 183.8,192.8 185.4,192.0 187.0,192.4 188.6,192.9 190.2,194.6 191.8,195.4 193.4,197.5 195.0,197.1 196.6,201.1 198.2,202.3 199.8,204.0 201.4,207.4 203.0,209.3 204.6,213.8 206.2,217.3 207.8,220.7 209.4,219.6 211.0,222.6 212.6,226.6 214.2,230.3 215.8,234.1 217.4,236.6 219.0,237.5 220.6,242.7 222.2,246.0 223.8,247.4 225.4,250.2 227.0,251.3 228.6,253.5 230.2,256.0 231.8,258.3 233.4,260.1 235.0,261.9 236.6,263.0 238.2,266.1 239.8,267.9 241.4,270.0 243.0,272.1 244.6,274.0" stroke-width="2.5"/>
<polyline points="48.3,177.1 48.3,298.1 49.6,300.4 52.0,301.7 62.0,302.2 75.0,302.7 88.0,302.5 94.0,301.7 97.0,300.6 99.0,299.5 100.6,297.0 102.2,294.7 103.8,291.3 105.4,287.4 107.0,283.5 108.6,279.3 110.2,275.4 111.8,270.9 113.4,266.0 115.0,260.6 116.6,256.4 118.2,252.4 119.8,251.2 121.4,249.2 123.0,244.8 124.6,243.0 126.2,240.9 127.8,237.0 129.4,236.4 131.0,234.6 132.6,230.6 134.2,230.1 135.8,226.5 137.4,226.5 139.0,223.4 140.6,225.2 142.2,223.2 143.8,221.4 145.4,218.9 147.0,219.6 148.6,219.2 150.2,213.9 151.8,216.1 153.4,215.4 155.0,212.6 156.6,209.3 158.2,211.5 159.8,210.9 161.4,210.1 163.0,208.8 164.6,209.2 166.2,207.9 167.8,205.3 169.4,205.5 171.0,201.9 172.6,200.9 174.2,197.1 175.8,194.7 177.4,195.7 179.0,196.2 180.6,195.9 182.2,197.6 183.8,196.2 185.4,195.2 187.0,195.2 188.6,195.1 190.2,197.2 191.8,197.6 193.4,196.7 195.0,201.9 196.6,204.9 198.2,205.0 199.8,207.0 201.4,209.5 203.0,212.1 204.6,215.4 206.2,217.2 207.8,220.6 209.4,222.9 211.0,227.2 212.6,229.6 214.2,233.5 215.8,235.8 217.4,240.1 219.0,242.7 220.6,248.2 222.2,245.8 223.8,249.2 225.4,253.1 227.0,257.1 228.6,256.2 230.2,258.6 231.8,260.4 233.4,264.1 235.0,264.3 236.6,267.3 238.2,268.1 239.8,268.7 241.4,271.9 243.0,273.6 244.6,275.4" stroke-width="2.5"/>
<polyline points="48.3,177.3 48.3,298.3 49.6,300.6 52.0,301.9 62.0,302.4 75.0,302.9 88.0,302.7 94.0,301.9 97.0,300.8 99.5,299.9 101.1,297.3 102.7,295.0 104.3,291.6 105.9,287.8 107.5,283.9 109.1,280.2 110.7,276.2 112.3,272.2 113.9,267.2 115.5,262.1 117.1,257.7 118.7,256.2 120.3,253.5 121.9,251.5 123.5,249.4 125.1,245.5 126.7,244.4 128.3,240.5 129.9,240.9 131.5,234.8 133.1,232.2 134.7,230.5 136.3,229.6 137.9,227.9 139.5,230.0 141.1,226.2 142.7,223.9 144.3,225.2 145.9,221.8 147.5,219.4 149.1,220.6 150.7,219.2 152.3,216.9 153.9,217.8 155.5,214.9 157.1,215.0 158.7,213.8 160.3,215.4 161.9,213.5 163.5,211.5 165.1,213.9 166.7,209.1 168.3,208.4 169.9,206.8 171.5,205.6 173.1,202.9 174.7,199.9 176.3,198.2 177.9,200.4 179.5,197.7 181.1,196.3 182.7,198.4 184.3,197.9 185.9,195.8 187.5,198.0 189.1,196.9 190.7,198.7 192.3,200.5 193.9,200.4 195.5,202.4 197.1,205.9 198.7,207.8 200.3,209.2 201.9,214.2 203.5,213.4 205.1,217.6 206.7,220.7 208.3,220.7 209.9,228.7 211.5,230.0 213.1,231.4 214.7,237.8 216.3,239.2 217.9,242.1 219.5,244.4 221.1,248.5 222.7,248.8 224.3,253.4 225.9,254.3 227.5,257.1 229.1,260.4 230.7,261.5 232.3,263.5 233.9,265.6 235.5,266.4 237.1,270.0 238.7,272.7 240.3,273.2 241.9,273.8 243.5,274.9 245.1,276.3" stroke-width="2.5"/>
<polyline points="48.3,177.1 48.3,298.1 49.6,300.4 52.0,301.7 62.0,302.2 75.0,302.7 88.0,302.5 94.0,301.7 97.0,300.6 98.5,299.2 100.1,297.1 101.7,294.4 103.3,291.3 104.9,287.1 106.5,283.3 108.1,279.1 109.7,275.1 111.3,270.5 112.9,265.3 114.5,259.9 116.1,255.6 117.7,251.6 119.3,250.1 120.9,247.1 122.5,244.6 124.1,242.6 125.7,239.0 127.3,237.2 128.9,234.6 130.5,233.0 132.1,231.2 133.7,227.4 135.3,227.4 136.9,227.6 138.5,222.4 140.1,221.9 141.7,220.6 143.3,219.9 144.9,220.4 146.5,217.0 148.1,215.1 149.7,215.4 151.3,212.9 152.9,213.7 154.5,211.3 156.1,210.9 157.7,208.7 159.3,213.3 160.9,210.4 162.5,209.7 164.1,207.3 165.7,205.1 167.3,203.8 168.9,203.6 170.5,201.1 172.1,199.1 173.7,194.9 175.3,194.4 176.9,195.7 178.5,193.2 180.1,195.2 181.7,195.6 183.3,196.1 184.9,194.3 186.5,194.6 188.1,192.5 189.7,195.1 191.3,198.3 192.9,197.5 194.5,197.3 196.1,199.2 197.7,200.6 199.3,203.6 200.9,208.0 202.5,212.4 204.1,213.7 205.7,217.6 207.3,219.8 208.9,222.8 210.5,225.6 212.1,228.6 213.7,232.3 215.3,233.5 216.9,239.0 218.5,242.3 220.1,244.4 221.7,247.6 223.3,248.0 224.9,250.3 226.5,253.3 228.1,255.1 229.7,256.9 231.3,258.7 232.9,260.9 234.5,264.4 236.1,263.2 237.7,267.6 239.3,268.8 240.9,271.1 242.5,272.9 244.1,274.3" stroke-width="2.5"/>
<polyline points="48.3,177.2 48.3,298.2 49.6,300.5 52.0,301.8 62.0,302.3 75.0,302.8 88.0,302.6 94.0,301.8 97.0,300.7 99.3,299.8 100.9,297.3 102.5,294.8 104.1,291.3 105.7,287.7 107.3,283.6 108.9,280.0 110.5,275.8 112.1,271.7 113.7,266.3 115.3,261.0 116.9,257.2 118.5,255.4 120.1,252.0 121.7,247.7 123.3,246.5 124.9,245.2 126.5,241.9 128.1,239.6 129.7,237.1 131.3,233.9 132.9,232.1 134.5,229.3 136.1,231.1 137.7,227.2 139.3,226.9 140.9,224.1 142.5,224.9 144.1,220.5 145.7,222.0 147.3,219.4 148.9,220.6 150.5,215.7 152.1,216.1 153.7,215.2 155.3,214.8 156.9,211.3 158.5,211.9 160.1,210.0 161.7,211.0 163.3,211.9 164.9,211.0 166.5,208.0 168.1,209.5 169.7,208.1 171.3,204.3 172.9,198.5 174.5,196.3 176.1,195.2 177.7,198.3 179.3,196.7 180.9,194.0 182.5,198.0 184.1,199.0 185.7,195.9 187.3,194.9 188.9,198.3 190.5,197.7 192.1,198.6 193.7,200.9 195.3,202.0 196.9,203.2 198.5,207.0 200.1,209.5 201.7,211.8 203.3,213.3 204.9,217.9 206.5,219.5 208.1,222.9 209.7,226.3 211.3,229.0 212.9,233.1 214.5,234.6 216.1,235.3 217.7,239.0 219.3,245.2 220.9,246.7 222.5,249.5 224.1,250.2 225.7,254.4 227.3,255.1 228.9,259.3 230.5,259.2 232.1,263.1 233.7,264.6 235.3,265.0 236.9,268.9 238.5,268.6 240.1,270.2 241.7,272.8 243.3,274.1 244.9,275.7" stroke-width="2.5"/>
<polyline points="48.3,177.3 48.3,298.3 49.6,300.6 52.0,301.9 62.0,302.4 75.0,302.9 88.0,302.7 94.0,301.9 97.0,300.8 99.2,299.9 100.8,297.3 102.4,295.2 104.0,291.7 105.6,287.8 107.2,284.0 108.8,280.3 110.4,276.6 112.0,272.4 113.6,267.3 115.2,262.6 116.8,258.4 118.4,255.8 120.0,255.7 121.6,250.9 123.2,248.5 124.8,244.6 126.4,242.8 128.0,242.4 129.6,238.7 131.2,237.7 132.8,233.7 134.4,232.2 136.0,232.1 137.6,231.6 139.2,229.3 140.8,228.7 142.4,228.1 144.0,225.9 145.6,222.2 147.2,221.5 148.8,221.2 150.4,218.9 152.0,218.7 153.6,215.3 155.2,214.7 156.8,214.6 158.4,211.5 160.0,213.3 161.6,214.1 163.2,211.7 164.8,212.1 166.4,209.6 168.0,209.1 169.6,208.0 171.2,206.8 172.8,202.8 174.4,200.5 176.0,197.6 177.6,199.9 179.2,200.5 180.8,198.7 182.4,200.7 184.0,198.1 185.6,199.2 187.2,197.1 188.8,197.3 190.4,200.4 192.0,201.5 193.6,204.0 195.2,205.7 196.8,205.3 198.4,208.1 200.0,212.4 201.6,214.1 203.2,216.4 204.8,220.2 206.4,221.1 208.0,225.2 209.6,228.9 211.2,232.1 212.8,232.5 214.4,236.1 216.0,239.8 217.6,242.1 219.2,245.5 220.8,250.0 222.4,250.9 224.0,251.4 225.6,255.9 227.2,257.3 228.8,259.1 230.4,260.2 232.0,265.2 233.6,263.6 235.2,266.1 236.8,269.6 238.4,273.1 240.0,274.5 241.6,274.1 243.2,275.5 244.8,276.5" stroke-width="2.5"/>
<polyline points="156.6,212.0 157.6,150.0 158.0,97.0 158.6,150.0 159.8,212.0" stroke-width="2.0"/>
<polyline points="154.7,214.0 155.8,172.5 156.9,214.0" stroke-width="1.4"/>
<polyline points="168.0,203.0 171.0,199.0 173.5,193.0 176.0,188.6 178.5,191.0 180.5,189.5 182.5,191.5 185.0,190.0 188.0,189.3 190.5,191.5 193.0,195.0 196.0,199.0 199.0,204.0" stroke-width="2.4"/>
<polyline points="204.5,213.0 206.0,203.0 208.0,196.5 210.0,197.0 211.5,206.0 213.0,226.0" stroke-width="1.6"/>
<polyline points="246.0,276.0 246.8,250.0 247.2,192.0 248.2,192.0 249.0,240.0 250.4,260.0 251.0,214.0 252.4,214.0 253.0,262.0 254.5,268.0 256.5,270.0 257.4,215.0 258.2,193.0 259.2,193.0 259.8,230.0 260.8,235.0 261.5,192.0 262.6,192.0 263.4,240.0 264.0,278.0 265.4,270.0 266.4,249.0 267.6,249.0 268.4,270.0 269.5,285.0 272.0,287.0 275.5,288.0 276.6,250.0 277.3,208.5 278.3,208.5 279.0,250.0 280.0,289.0 284.0,292.0 288.5,296.0 292.0,299.0 296.0,302.0 300.0,304.0 303.5,305.0 310.0,306.0 316.0,306.5" stroke-width="2.6"/>
<polyline points="247.7,215.0 247.7,277.0" stroke-width="3.2"/>
<polyline points="251.5,240.0 251.5,268.0" stroke-width="4.5"/>
<polyline points="258.4,215.0 258.4,272.0" stroke-width="3.6"/>
<polyline points="262.0,215.0 262.0,278.0" stroke-width="3.2"/>
<polygon points="246.3,238.0 253.5,238.0 254.5,241.0 256.0,241.0 256.8,236.0 264.6,236.0 264.8,268.0 262.5,279.0 259.5,274.0 258.0,273.0 254.0,270.0 250.5,270.0 248.5,278.0 247.0,279.0 246.3,272.0" style="fill:#fff;stroke:none"/>
<polyline points="268.2,262.0 270.2,285.0" stroke-width="2.6"/>
<polyline points="277.8,225.0 277.8,289.0" stroke-width="3.6"/>
</g>
<g filter="url(#gf)">
<rect x="48" y="36.16" width="1.1" height=".8" fill="#fff" opacity=".7"/>
<rect x="48" y="52.89" width="1.1" height=".8" fill="#fff" opacity=".7"/>
<rect x="48" y="69.62" width="1.1" height=".8" fill="#fff" opacity=".7"/>
<rect x="48" y="86.35" width="1.1" height=".8" fill="#fff" opacity=".7"/>
<rect x="48" y="103.07" width="1.1" height=".8" fill="#fff" opacity=".7"/>
<rect x="48" y="119.80" width="1.1" height=".8" fill="#fff" opacity=".7"/>
<rect x="48" y="136.53" width="1.1" height=".8" fill="#fff" opacity=".7"/>
<rect x="48" y="153.25" width="1.1" height=".8" fill="#fff" opacity=".7"/>
<rect x="48" y="169.98" width="1.1" height=".8" fill="#fff" opacity=".7"/>
<rect x="48" y="186.71" width="1.1" height=".8" fill="#fff" opacity=".7"/>
<rect x="48" y="203.44" width="1.1" height=".8" fill="#fff" opacity=".7"/>
<rect x="48" y="220.16" width="1.1" height=".8" fill="#fff" opacity=".7"/>
<rect x="48" y="236.89" width="1.1" height=".8" fill="#fff" opacity=".7"/>
<rect x="48" y="253.62" width="1.1" height=".8" fill="#fff" opacity=".7"/>
<rect x="48" y="270.35" width="1.1" height=".8" fill="#fff" opacity=".7"/>
<rect x="48" y="287.07" width="1.1" height=".8" fill="#fff" opacity=".7"/>
<rect x="48" y="303.80" width="1.1" height=".8" fill="#fff" opacity=".7"/>
<rect x="48" y="320.53" width="1.1" height=".8" fill="#fff" opacity=".7"/>
<rect x="48" y="337.25" width="1.1" height=".8" fill="#fff" opacity=".7"/>
<rect x="48" y="353.98" width="1.1" height=".8" fill="#fff" opacity=".7"/>
<rect x="48" y="370.71" width="1.1" height=".8" fill="#fff" opacity=".7"/>
<rect x="48" y="387.44" width="1.1" height=".8" fill="#fff" opacity=".7"/>
<rect x="69.2" y="283.00" width="5.5" height="1" fill="#fff"/>
<text x="78.7" y="288.80" font-size="13.89" fill="#fff">0</text>
<text x="318.6" y="288.80" text-anchor="end" font-size="13.89" fill="#fff">0</text>
<rect x="69.2" y="235.00" width="5.5" height="1" fill="#fff"/>
<text x="78.7" y="240.80" font-size="13.89" fill="#fff">5</text>
<text x="318.6" y="240.80" text-anchor="end" font-size="13.89" fill="#fff">5</text>
<rect x="69.2" y="187.00" width="5.5" height="1" fill="#fff"/>
<text x="78.7" y="192.80" font-size="13.89" fill="#fff">10</text>
<text x="318.6" y="192.80" text-anchor="end" font-size="13.89" fill="#fff">10</text>
<rect x="69.2" y="139.00" width="5.5" height="1" fill="#fff"/>
<text x="78.7" y="144.80" font-size="13.89" fill="#fff">15</text>
<text x="318.6" y="144.80" text-anchor="end" font-size="13.89" fill="#fff">15</text>
<rect x="69.2" y="91.00" width="5.5" height="1" fill="#fff"/>
<text x="78.7" y="96.80" font-size="13.89" fill="#fff">20</text>
<text x="318.6" y="96.80" text-anchor="end" font-size="13.89" fill="#fff">20</text>
<rect x="69.2" y="43.00" width="5.5" height="1" fill="#fff"/>
<text x="78.7" y="48.80" font-size="13.89" fill="#fff">25</text>
<text x="318.6" y="48.80" text-anchor="end" font-size="13.89" fill="#fff">25</text>
</g>
</g>
<g clip-path="url(#cr)">
<g stroke-width="18" fill="none">
<g transform="translate(0,28.000)"><path stroke="#c0fc00" d="M328 9h1"/><path stroke="#810093" d="M329 9h1"/><path stroke="#300036" d="M330 9h3"/><path stroke="#24002a" d="M333 9h37"/><path stroke="#27002d" d="M370 9h1"/><path stroke="#39003f" d="M371 9h1"/><path stroke="#51005d" d="M372 9h1"/><path stroke="#6f007e" d="M373 9h1"/><path stroke="#7b008a" d="M374 9h1"/><path stroke="#7e0090" d="M375 9h1"/><path stroke="#810093" d="M376 9h1"/><path stroke="#840096" d="M377 9h1"/><path stroke="#870099" d="M378 9h4"/><path stroke="#75009c" d="M382 9h1"/><path stroke="#4200a2" d="M383 9h3"/><path stroke="#870099" d="M386 9h2"/><path stroke="#0000c3" d="M388 9h1"/><path stroke="#007bde" d="M389 9h1"/><path stroke="#0090de" d="M390 9h3"/><path stroke="#00a2ba" d="M393 9h1"/><path stroke="#00ab9f" d="M394 9h1"/><path stroke="#00ab9c" d="M395 9h1"/><path stroke="#00a88a" d="M396 9h1"/><path stroke="#009906" d="M397 9h1"/><path stroke="#009c00" d="M398 9h1"/><path stroke="#009f00" d="M399 9h3"/><path stroke="#00a200" d="M402 9h1"/><path stroke="#00a500" d="M403 9h3"/><path stroke="#009fae" d="M406 9h1"/><path stroke="#007ede" d="M407 9h1"/><path stroke="#00a800" d="M408 9h1"/><path stroke="#00a857" d="M409 9h1"/><path stroke="#00a81e" d="M410 9h1"/><path stroke="#00a800" d="M411 9h1"/><path stroke="#00a2c0" d="M412 9h1"/><path stroke="#00a560" d="M413 9h1"/><path stroke="#00a800" d="M414 9h5"/><path stroke="#00a84e" d="M419 9h1"/><path stroke="#00ab9c" d="M420 9h1"/><path stroke="#0093de" d="M421 9h2"/><path stroke="#009fbd" d="M423 9h1"/><path stroke="#00ab9c" d="M424 9h1"/><path stroke="#009c1e" d="M425 9h1"/><path stroke="#00ab0f" d="M426 9h1"/><path stroke="#00ba00" d="M427 9h3"/><path stroke="#00d800" d="M430 9h1"/><path stroke="#00db00" d="M431 9h1"/><path stroke="#00ae00" d="M432 9h1"/><path stroke="#00a800" d="M433 9h5"/><path stroke="#00ab00" d="M438 9h1"/><path stroke="#00ba00" d="M439 9h1"/><path stroke="#00bd00" d="M440 9h12"/><path stroke="#00c000" d="M452 9h3"/><path stroke="#00c300" d="M455 9h1"/><path stroke="#00c900" d="M456 9h1"/><path stroke="#00cf00" d="M457 9h1"/><path stroke="#00d500" d="M458 9h1"/><path stroke="#00db00" d="M459 9h2"/><path stroke="#00de00" d="M461 9h1"/><path stroke="#00e100" d="M462 9h2"/><path stroke="#00e400" d="M464 9h2"/><path stroke="#00e100" d="M466 9h3"/><path stroke="#00de00" d="M469 9h3"/><path stroke="#00db00" d="M472 9h1"/><path stroke="#00d500" d="M473 9h1"/><path stroke="#00cf00" d="M474 9h1"/><path stroke="#00c900" d="M475 9h1"/><path stroke="#00c300" d="M476 9h6"/><path stroke="#00c000" d="M482 9h4"/><path stroke="#00bd00" d="M486 9h4"/><path stroke="#00b700" d="M490 9h1"/><path stroke="#00ae00" d="M491 9h1"/><path stroke="#00a800" d="M492 9h1"/><path stroke="#009f00" d="M493 9h1"/><path stroke="#009c03" d="M494 9h1"/><path stroke="#009f2d" d="M495 9h1"/><path stroke="#00a569" d="M496 9h1"/><path stroke="#00ab87" d="M497 9h1"/><path stroke="#00ab90" d="M498 9h1"/><path stroke="#00ab96" d="M499 9h1"/><path stroke="#00ab99" d="M500 9h1"/><path stroke="#00ab9c" d="M501 9h1"/><path stroke="#00aba2" d="M502 9h1"/><path stroke="#00aba8" d="M503 9h1"/><path stroke="#00a8ae" d="M504 9h1"/><path stroke="#00a5ba" d="M505 9h1"/><path stroke="#00a2c3" d="M506 9h1"/><path stroke="#009fcc" d="M507 9h1"/><path stroke="#009cd2" d="M508 9h1"/><path stroke="#0099d8" d="M509 9h1"/><path stroke="#0096de" d="M510 9h1"/><path stroke="#0093de" d="M511 9h2"/><path stroke="#008dde" d="M513 9h2"/><path stroke="#008ade" d="M515 9h1"/><path stroke="#0087de" d="M516 9h1"/><path stroke="#0081de" d="M517 9h1"/><path stroke="#007ede" d="M518 9h1"/><path stroke="#007bde" d="M519 9h1"/><path stroke="#0066de" d="M520 9h1"/><path stroke="#0033de" d="M521 9h1"/><path stroke="#001bde" d="M522 9h1"/><path stroke="#0006de" d="M523 9h1"/><path stroke="#0000db" d="M524 9h1"/><path stroke="#0000d8" d="M525 9h1"/><path stroke="#0048db" d="M526 9h1"/><path stroke="#008dde" d="M527 9h1"/><path stroke="#0048d8" d="M528 9h1"/><path stroke="#0000d5" d="M529 9h2"/><path stroke="#008ade" d="M531 9h2"/><path stroke="#0024de" d="M533 9h3"/><path stroke="#0057de" d="M536 9h1"/><path stroke="#0087de" d="M537 9h2"/><path stroke="#0000d2" d="M539 9h2"/><path stroke="#0099de" d="M541 9h2"/><path stroke="#0000d2" d="M543 9h3"/><path stroke="#008ade" d="M546 9h2"/><path stroke="#0000cf" d="M548 9h1"/><path stroke="#0000cc" d="M549 9h8"/><path stroke="#0000c6" d="M557 9h1"/><path stroke="#0000c3" d="M558 9h1"/><path stroke="#0000c0" d="M559 9h1"/><path stroke="#0000ba" d="M560 9h1"/><path stroke="#0000b4" d="M561 9h1"/><path stroke="#0000ab" d="M562 9h1"/><path stroke="#0f00a8" d="M563 9h1"/><path stroke="#2d00a5" d="M564 9h1"/><path stroke="#4800a2" d="M565 9h1"/><path stroke="#5a009f" d="M566 9h1"/><path stroke="#6c009c" d="M567 9h1"/><path stroke="#7e0099" d="M568 9h1"/><path stroke="#840099" d="M569 9h2"/><path stroke="#870099" d="M571 9h2"/><path stroke="#870096" d="M573 9h1"/><path stroke="#840096" d="M574 9h1"/><path stroke="#810093" d="M575 9h1"/><path stroke="#7e0090" d="M576 9h1"/><path stroke="#78008a" d="M577 9h1"/><path stroke="#660075" d="M578 9h1"/><path stroke="#4e005a" d="M579 9h1"/><path stroke="#3c0045" d="M580 9h1"/><path stroke="#2d0033" d="M581 9h1"/><path stroke="#240027" d="M582 9h1"/><path stroke="#1b001e" d="M583 9h1"/><path stroke="#0f0012" d="M584 9h1"/><path stroke="#09000c" d="M585 9h1"/><path stroke="#030003" d="M586 9h1"/><path stroke="#000000" d="M587 9h8"/></g>
<g transform="translate(0,44.727)"><path stroke="#c0fc00" d="M328 9h1"/><path stroke="#810093" d="M329 9h1"/><path stroke="#300036" d="M330 9h3"/><path stroke="#24002a" d="M333 9h37"/><path stroke="#27002d" d="M370 9h1"/><path stroke="#39003f" d="M371 9h1"/><path stroke="#51005d" d="M372 9h1"/><path stroke="#6f007e" d="M373 9h1"/><path stroke="#7b008a" d="M374 9h1"/><path stroke="#7e0090" d="M375 9h1"/><path stroke="#810093" d="M376 9h1"/><path stroke="#840096" d="M377 9h1"/><path stroke="#870099" d="M378 9h4"/><path stroke="#75009c" d="M382 9h1"/><path stroke="#4200a2" d="M383 9h3"/><path stroke="#870099" d="M386 9h2"/><path stroke="#0000c3" d="M388 9h1"/><path stroke="#007bde" d="M389 9h1"/><path stroke="#0090de" d="M390 9h3"/><path stroke="#00a2ba" d="M393 9h1"/><path stroke="#00ab9f" d="M394 9h1"/><path stroke="#00ab9c" d="M395 9h1"/><path stroke="#00a88a" d="M396 9h1"/><path stroke="#009906" d="M397 9h1"/><path stroke="#009c00" d="M398 9h1"/><path stroke="#009f00" d="M399 9h3"/><path stroke="#00a200" d="M402 9h1"/><path stroke="#00a500" d="M403 9h3"/><path stroke="#009fae" d="M406 9h1"/><path stroke="#007ede" d="M407 9h1"/><path stroke="#00a800" d="M408 9h1"/><path stroke="#00a857" d="M409 9h1"/><path stroke="#00a81e" d="M410 9h1"/><path stroke="#00a800" d="M411 9h1"/><path stroke="#00a2c0" d="M412 9h1"/><path stroke="#00a560" d="M413 9h1"/><path stroke="#00a800" d="M414 9h5"/><path stroke="#00a84e" d="M419 9h1"/><path stroke="#00ab9c" d="M420 9h1"/><path stroke="#0093de" d="M421 9h2"/><path stroke="#009fbd" d="M423 9h1"/><path stroke="#00ab9c" d="M424 9h1"/><path stroke="#009c1e" d="M425 9h1"/><path stroke="#00ab0f" d="M426 9h1"/><path stroke="#00ba00" d="M427 9h3"/><path stroke="#00d800" d="M430 9h1"/><path stroke="#00db00" d="M431 9h1"/><path stroke="#00ae00" d="M432 9h1"/><path stroke="#00a800" d="M433 9h5"/><path stroke="#00ab00" d="M438 9h1"/><path stroke="#00ba00" d="M439 9h1"/><path stroke="#00bd00" d="M440 9h12"/><path stroke="#00c000" d="M452 9h3"/><path stroke="#00c300" d="M455 9h1"/><path stroke="#00c900" d="M456 9h1"/><path stroke="#00cf00" d="M457 9h1"/><path stroke="#00d500" d="M458 9h1"/><path stroke="#00db00" d="M459 9h2"/><path stroke="#00de00" d="M461 9h1"/><path stroke="#00e100" d="M462 9h2"/><path stroke="#00e400" d="M464 9h2"/><path stroke="#00e100" d="M466 9h3"/><path stroke="#00de00" d="M469 9h3"/><path stroke="#00db00" d="M472 9h1"/><path stroke="#00d500" d="M473 9h1"/><path stroke="#00cf00" d="M474 9h1"/><path stroke="#00c900" d="M475 9h1"/><path stroke="#00c300" d="M476 9h6"/><path stroke="#00c000" d="M482 9h4"/><path stroke="#00bd00" d="M486 9h4"/><path stroke="#00b700" d="M490 9h1"/><path stroke="#00ae00" d="M491 9h1"/><path stroke="#00a800" d="M492 9h1"/><path stroke="#009f00" d="M493 9h1"/><path stroke="#009c03" d="M494 9h1"/><path stroke="#009f2d" d="M495 9h1"/><path stroke="#00a569" d="M496 9h1"/><path stroke="#00ab87" d="M497 9h1"/><path stroke="#00ab90" d="M498 9h1"/><path stroke="#00ab96" d="M499 9h1"/><path stroke="#00ab99" d="M500 9h1"/><path stroke="#00ab9c" d="M501 9h1"/><path stroke="#00aba2" d="M502 9h1"/><path stroke="#00aba8" d="M503 9h1"/><path stroke="#00a8ae" d="M504 9h1"/><path stroke="#00a5ba" d="M505 9h1"/><path stroke="#00a2c3" d="M506 9h1"/><path stroke="#009fcc" d="M507 9h1"/><path stroke="#009cd2" d="M508 9h1"/><path stroke="#0099d8" d="M509 9h1"/><path stroke="#0096de" d="M510 9h1"/><path stroke="#0093de" d="M511 9h2"/><path stroke="#008dde" d="M513 9h2"/><path stroke="#008ade" d="M515 9h1"/><path stroke="#0087de" d="M516 9h1"/><path stroke="#0081de" d="M517 9h1"/><path stroke="#007ede" d="M518 9h1"/><path stroke="#007bde" d="M519 9h1"/><path stroke="#0066de" d="M520 9h1"/><path stroke="#0033de" d="M521 9h1"/><path stroke="#001bde" d="M522 9h1"/><path stroke="#0006de" d="M523 9h1"/><path stroke="#0000db" d="M524 9h1"/><path stroke="#0000d8" d="M525 9h1"/><path stroke="#0048db" d="M526 9h1"/><path stroke="#008dde" d="M527 9h1"/><path stroke="#0048d8" d="M528 9h1"/><path stroke="#0000d5" d="M529 9h2"/><path stroke="#008ade" d="M531 9h2"/><path stroke="#0024de" d="M533 9h3"/><path stroke="#0057de" d="M536 9h1"/><path stroke="#0087de" d="M537 9h2"/><path stroke="#0000d2" d="M539 9h2"/><path stroke="#0099de" d="M541 9h2"/><path stroke="#0000d2" d="M543 9h3"/><path stroke="#008ade" d="M546 9h2"/><path stroke="#0000cf" d="M548 9h1"/><path stroke="#0000cc" d="M549 9h7"/><path stroke="#00c900" d="M556 9h3"/><path stroke="#0000c0" d="M559 9h1"/><path stroke="#0000ba" d="M560 9h1"/><path stroke="#0000b4" d="M561 9h1"/><path stroke="#0000ab" d="M562 9h1"/><path stroke="#0f00a8" d="M563 9h1"/><path stroke="#2d00a5" d="M564 9h1"/><path stroke="#4800a2" d="M565 9h1"/><path stroke="#5a009f" d="M566 9h1"/><path stroke="#6c009c" d="M567 9h1"/><path stroke="#7e0099" d="M568 9h1"/><path stroke="#840099" d="M569 9h2"/><path stroke="#870099" d="M571 9h2"/><path stroke="#870096" d="M573 9h1"/><path stroke="#840096" d="M574 9h1"/><path stroke="#810093" d="M575 9h1"/><path stroke="#7e0090" d="M576 9h1"/><path stroke="#78008a" d="M577 9h1"/><path stroke="#660075" d="M578 9h1"/><path stroke="#4e005a" d="M579 9h1"/><path stroke="#3c0045" d="M580 9h1"/><path stroke="#2d0033" d="M581 9h1"/><path stroke="#240027" d="M582 9h1"/><path stroke="#1b001e" d="M583 9h1"/><path stroke="#0f0012" d="M584 9h1"/><path stroke="#09000c" d="M585 9h1"/><path stroke="#030003" d="M586 9h1"/><path stroke="#000000" d="M587 9h2"/><path stroke="#3c0045" d="M589 9h1"/><path stroke="#5d0069" d="M590 9h1"/><path stroke="#000000" d="M591 9h4"/></g>
<g transform="translate(0,61.455)"><path stroke="#c0fc00" d="M328 9h1"/><path stroke="#810093" d="M329 9h1"/><path stroke="#300036" d="M330 9h3"/><path stroke="#24002a" d="M333 9h35"/><path stroke="#300036" d="M368 9h1"/><path stroke="#3c0045" d="M369 9h1"/><path stroke="#5a0069" d="M370 9h1"/><path stroke="#7b008a" d="M371 9h1"/><path stroke="#810090" d="M372 9h1"/><path stroke="#840096" d="M373 9h1"/><path stroke="#870099" d="M374 9h2"/><path stroke="#4500a2" d="M376 9h1"/><path stroke="#2400a5" d="M377 9h1"/><path stroke="#870099" d="M378 9h1"/><path stroke="#54009f" d="M379 9h1"/><path stroke="#2400a5" d="M380 9h1"/><path stroke="#870099" d="M381 9h3"/><path stroke="#0300ab" d="M384 9h1"/><path stroke="#66009c" d="M385 9h1"/><path stroke="#870099" d="M386 9h1"/><path stroke="#0000c9" d="M387 9h2"/><path stroke="#00ab96" d="M389 9h3"/><path stroke="#008ade" d="M392 9h3"/><path stroke="#0000d2" d="M395 9h1"/><path stroke="#2100c3" d="M396 9h1"/><path stroke="#870099" d="M397 9h4"/><path stroke="#750087" d="M401 9h1"/><path stroke="#870099" d="M402 9h4"/><path stroke="#661eab" d="M406 9h1"/><path stroke="#215dcc" d="M407 9h1"/><path stroke="#870099" d="M408 9h9"/><path stroke="#6600a8" d="M417 9h1"/><path stroke="#0000d2" d="M418 9h1"/><path stroke="#00a8b4" d="M419 9h2"/><path stroke="#0054c3" d="M421 9h1"/><path stroke="#0000d2" d="M422 9h1"/><path stroke="#4500b4" d="M423 9h1"/><path stroke="#870099" d="M424 9h2"/><path stroke="#4500b4" d="M426 9h1"/><path stroke="#0000d2" d="M427 9h2"/><path stroke="#870099" d="M429 9h3"/><path stroke="#0000d2" d="M432 9h5"/><path stroke="#0084de" d="M437 9h1"/><path stroke="#0099b4" d="M438 9h1"/><path stroke="#00ab87" d="M439 9h2"/><path stroke="#0054ae" d="M441 9h1"/><path stroke="#0000d2" d="M442 9h1"/><path stroke="#1b00ba" d="M443 9h1"/><path stroke="#3900a2" d="M444 9h1"/><path stroke="#1b00ba" d="M445 9h1"/><path stroke="#0000d2" d="M446 9h2"/><path stroke="#0000bd" d="M448 9h2"/><path stroke="#4500ab" d="M450 9h1"/><path stroke="#870099" d="M451 9h4"/><path stroke="#4500b1" d="M455 9h1"/><path stroke="#0000c9" d="M456 9h2"/><path stroke="#0000d2" d="M458 9h1"/><path stroke="#2100c3" d="M459 9h1"/><path stroke="#870099" d="M460 9h4"/><path stroke="#0300ab" d="M464 9h2"/><path stroke="#4500a2" d="M466 9h1"/><path stroke="#870099" d="M467 9h4"/><path stroke="#5d006c" d="M471 9h5"/><path stroke="#870099" d="M476 9h3"/><path stroke="#0000b1" d="M479 9h1"/><path stroke="#0045c6" d="M480 9h1"/><path stroke="#0069db" d="M481 9h1"/><path stroke="#0000d2" d="M482 9h5"/><path stroke="#870099" d="M487 9h3"/><path stroke="#840096" d="M490 9h1"/><path stroke="#7b008a" d="M491 9h1"/><path stroke="#6c007b" d="M492 9h1"/><path stroke="#780087" d="M493 9h1"/><path stroke="#870099" d="M494 9h2"/><path stroke="#7e008d" d="M496 9h2"/><path stroke="#7b008d" d="M498 9h1"/><path stroke="#6f0081" d="M499 9h1"/><path stroke="#5d006c" d="M500 9h2"/><path stroke="#870099" d="M502 9h1"/><path stroke="#7b008d" d="M503 9h1"/><path stroke="#6f0081" d="M504 9h2"/><path stroke="#870099" d="M506 9h1"/><path stroke="#7e008d" d="M507 9h2"/><path stroke="#870099" d="M509 9h2"/><path stroke="#78008a" d="M511 9h2"/><path stroke="#7b008a" d="M513 9h1"/><path stroke="#78008a" d="M514 9h2"/><path stroke="#870099" d="M516 9h1"/><path stroke="#7e008d" d="M517 9h2"/><path stroke="#870099" d="M519 9h3"/><path stroke="#7e008d" d="M522 9h2"/><path stroke="#870099" d="M524 9h2"/><path stroke="#7e008d" d="M526 9h2"/><path stroke="#870099" d="M528 9h2"/><path stroke="#840096" d="M530 9h1"/><path stroke="#7b008a" d="M531 9h1"/><path stroke="#840096" d="M532 9h1"/><path stroke="#870099" d="M533 9h2"/><path stroke="#7e008d" d="M535 9h2"/><path stroke="#870099" d="M537 9h2"/><path stroke="#7e008d" d="M539 9h2"/><path stroke="#870099" d="M541 9h3"/><path stroke="#7e008d" d="M544 9h1"/><path stroke="#5d006c" d="M545 9h3"/><path stroke="#7e008d" d="M548 9h1"/><path stroke="#840096" d="M549 9h1"/><path stroke="#7b008a" d="M550 9h1"/><path stroke="#870099" d="M551 9h1"/><path stroke="#008ade" d="M552 9h2"/><path stroke="#0000c9" d="M554 9h2"/><path stroke="#870099" d="M556 9h2"/><path stroke="#7e008d" d="M558 9h2"/><path stroke="#870099" d="M560 9h2"/><path stroke="#840096" d="M562 9h1"/><path stroke="#7b008a" d="M563 9h1"/><path stroke="#840096" d="M564 9h1"/><path stroke="#870099" d="M565 9h2"/><path stroke="#7e008d" d="M567 9h2"/><path stroke="#870099" d="M569 9h4"/><path stroke="#840096" d="M573 9h1"/><path stroke="#810093" d="M574 9h1"/><path stroke="#7e008d" d="M575 9h1"/><path stroke="#78008a" d="M576 9h1"/><path stroke="#660075" d="M577 9h1"/><path stroke="#540060" d="M578 9h1"/><path stroke="#3c0045" d="M579 9h1"/><path stroke="#300036" d="M580 9h1"/><path stroke="#210024" d="M581 9h1"/><path stroke="#150018" d="M582 9h1"/><path stroke="#0c000c" d="M583 9h1"/><path stroke="#060009" d="M584 9h1"/><path stroke="#000000" d="M585 9h10"/></g>
<g transform="translate(0,78.182)"><path stroke="#c0fc00" d="M328 9h1"/><path stroke="#810093" d="M329 9h1"/><path stroke="#300036" d="M330 9h3"/><path stroke="#24002a" d="M333 9h35"/><path stroke="#2d0033" d="M368 9h1"/><path stroke="#390042" d="M369 9h1"/><path stroke="#4b0054" d="M370 9h1"/><path stroke="#6c007b" d="M371 9h1"/><path stroke="#7b008d" d="M372 9h1"/><path stroke="#7e0090" d="M373 9h1"/><path stroke="#810093" d="M374 9h1"/><path stroke="#840096" d="M375 9h1"/><path stroke="#45009f" d="M376 9h1"/><path stroke="#2400a5" d="M377 9h1"/><path stroke="#870099" d="M378 9h1"/><path stroke="#4500a2" d="M379 9h1"/><path stroke="#0300ab" d="M380 9h1"/><path stroke="#870099" d="M381 9h3"/><path stroke="#0000b1" d="M384 9h1"/><path stroke="#66009f" d="M385 9h1"/><path stroke="#870099" d="M386 9h2"/><path stroke="#0c00c0" d="M388 9h1"/><path stroke="#0072bd" d="M389 9h1"/><path stroke="#00ab90" d="M390 9h1"/><path stroke="#00ab96" d="M391 9h1"/><path stroke="#0099c0" d="M392 9h1"/><path stroke="#0087de" d="M393 9h2"/><path stroke="#0018de" d="M395 9h1"/><path stroke="#0000de" d="M396 9h2"/><path stroke="#0000db" d="M398 9h1"/><path stroke="#0000d8" d="M399 9h7"/><path stroke="#4200a2" d="M406 9h1"/><path stroke="#840099" d="M407 9h1"/><path stroke="#4200a2" d="M408 9h1"/><path stroke="#0000d8" d="M409 9h6"/><path stroke="#0000d5" d="M415 9h1"/><path stroke="#004bde" d="M416 9h1"/><path stroke="#008adb" d="M417 9h1"/><path stroke="#00aba8" d="M418 9h3"/><path stroke="#0096c6" d="M421 9h1"/><path stroke="#0084de" d="M422 9h1"/><path stroke="#0042c3" d="M423 9h1"/><path stroke="#0300ab" d="M424 9h2"/><path stroke="#003fcc" d="M426 9h1"/><path stroke="#007ede" d="M427 9h2"/><path stroke="#0042de" d="M429 9h2"/><path stroke="#0048de" d="M431 9h1"/><path stroke="#004ede" d="M432 9h1"/><path stroke="#0075de" d="M433 9h1"/><path stroke="#0087de" d="M434 9h1"/><path stroke="#008ade" d="M435 9h2"/><path stroke="#008dde" d="M437 9h1"/><path stroke="#009378" d="M438 9h1"/><path stroke="#009c12" d="M439 9h2"/><path stroke="#009f6c" d="M441 9h1"/><path stroke="#00a2c0" d="M442 9h1"/><path stroke="#00a2bd" d="M443 9h1"/><path stroke="#00a5ba" d="M444 9h1"/><path stroke="#00a5b7" d="M445 9h1"/><path stroke="#00a8b4" d="M446 9h1"/><path stroke="#00a8b1" d="M447 9h1"/><path stroke="#00a8ae" d="M448 9h1"/><path stroke="#00abab" d="M449 9h1"/><path stroke="#00aba8" d="M450 9h1"/><path stroke="#00aba5" d="M451 9h1"/><path stroke="#00aba2" d="M452 9h1"/><path stroke="#00ab9f" d="M453 9h1"/><path stroke="#00ab9c" d="M454 9h1"/><path stroke="#00ab99" d="M455 9h1"/><path stroke="#00ab96" d="M456 9h1"/><path stroke="#00ab93" d="M457 9h1"/><path stroke="#00ab90" d="M458 9h2"/><path stroke="#00ab8d" d="M460 9h1"/><path stroke="#00ab8a" d="M461 9h1"/><path stroke="#00a878" d="M462 9h1"/><path stroke="#00a56c" d="M463 9h1"/><path stroke="#00a55d" d="M464 9h3"/><path stroke="#00a569" d="M467 9h1"/><path stroke="#00a872" d="M468 9h1"/><path stroke="#00a87e" d="M469 9h1"/><path stroke="#00ab84" d="M470 9h2"/><path stroke="#00a87e" d="M472 9h2"/><path stroke="#00a875" d="M474 9h1"/><path stroke="#00a872" d="M475 9h1"/><path stroke="#00a875" d="M476 9h1"/><path stroke="#00a87e" d="M477 9h1"/><path stroke="#00ab87" d="M478 9h1"/><path stroke="#00ab8a" d="M479 9h1"/><path stroke="#00ab8d" d="M480 9h1"/><path stroke="#00ab90" d="M481 9h2"/><path stroke="#00ab93" d="M483 9h1"/><path stroke="#00ab96" d="M484 9h1"/><path stroke="#00ab99" d="M485 9h1"/><path stroke="#00ab9c" d="M486 9h1"/><path stroke="#00ab9f" d="M487 9h1"/><path stroke="#00aba2" d="M488 9h1"/><path stroke="#00a8ae" d="M489 9h1"/><path stroke="#00a2c0" d="M490 9h1"/><path stroke="#009cd2" d="M491 9h1"/><path stroke="#0099db" d="M492 9h1"/><path stroke="#0093de" d="M493 9h1"/><path stroke="#008ade" d="M494 9h1"/><path stroke="#0081de" d="M495 9h1"/><path stroke="#0078de" d="M496 9h1"/><path stroke="#005dde" d="M497 9h1"/><path stroke="#003fde" d="M498 9h1"/><path stroke="#0024de" d="M499 9h1"/><path stroke="#000fde" d="M500 9h1"/><path stroke="#0006de" d="M501 9h1"/><path stroke="#0000de" d="M502 9h2"/><path stroke="#0000d8" d="M504 9h9"/><path stroke="#0000d5" d="M513 9h2"/><path stroke="#0000cf" d="M515 9h1"/><path stroke="#0000c9" d="M516 9h1"/><path stroke="#0000c3" d="M517 9h1"/><path stroke="#0000bd" d="M518 9h1"/><path stroke="#0000b4" d="M519 9h1"/><path stroke="#0600ab" d="M520 9h1"/><path stroke="#1200a8" d="M521 9h1"/><path stroke="#2400a5" d="M522 9h1"/><path stroke="#2d00a5" d="M523 9h1"/><path stroke="#3300a5" d="M524 9h1"/><path stroke="#3900a2" d="M525 9h1"/><path stroke="#1b4eba" d="M526 9h1"/><path stroke="#009cd2" d="M527 9h1"/><path stroke="#004ed8" d="M528 9h1"/><path stroke="#0000de" d="M529 9h2"/><path stroke="#0081de" d="M531 9h5"/><path stroke="#008dde" d="M536 9h1"/><path stroke="#0099de" d="M537 9h2"/><path stroke="#0030de" d="M539 9h2"/><path stroke="#00ab9c" d="M541 9h3"/><path stroke="#008ade" d="M544 9h3"/><path stroke="#0024de" d="M547 9h1"/><path stroke="#0000d2" d="M548 9h1"/><path stroke="#0000b1" d="M549 9h1"/><path stroke="#0033c6" d="M550 9h1"/><path stroke="#0066de" d="M551 9h3"/><path stroke="#0000c6" d="M554 9h1"/><path stroke="#0000bd" d="M555 9h1"/><path stroke="#0000b7" d="M556 9h1"/><path stroke="#0000b1" d="M557 9h1"/><path stroke="#2100a8" d="M558 9h1"/><path stroke="#870099" d="M559 9h3"/><path stroke="#60009f" d="M562 9h2"/><path stroke="#870099" d="M564 9h2"/><path stroke="#66009c" d="M566 9h1"/><path stroke="#750099" d="M567 9h1"/><path stroke="#870096" d="M568 9h4"/><path stroke="#60009c" d="M572 9h1"/><path stroke="#720099" d="M573 9h1"/><path stroke="#840096" d="M574 9h1"/><path stroke="#840093" d="M575 9h1"/><path stroke="#810093" d="M576 9h1"/><path stroke="#7e008d" d="M577 9h1"/><path stroke="#7b008a" d="M578 9h1"/><path stroke="#720081" d="M579 9h1"/><path stroke="#5a0069" d="M580 9h1"/><path stroke="#450051" d="M581 9h1"/><path stroke="#39003f" d="M582 9h1"/><path stroke="#2a0030" d="M583 9h1"/><path stroke="#1e0024" d="M584 9h1"/><path stroke="#120015" d="M585 9h1"/><path stroke="#0c000c" d="M586 9h1"/><path stroke="#060006" d="M587 9h1"/><path stroke="#000000" d="M588 9h7"/></g>
<g transform="translate(0,94.909)"><path stroke="#ffc600" d="M328 9h1"/><path stroke="#810093" d="M329 9h1"/><path stroke="#300036" d="M330 9h3"/><path stroke="#24002a" d="M333 9h35"/><path stroke="#2d0033" d="M368 9h1"/><path stroke="#390042" d="M369 9h1"/><path stroke="#4b0054" d="M370 9h1"/><path stroke="#6c007b" d="M371 9h1"/><path stroke="#7b008d" d="M372 9h1"/><path stroke="#7e0090" d="M373 9h1"/><path stroke="#810093" d="M374 9h1"/><path stroke="#840096" d="M375 9h1"/><path stroke="#45009f" d="M376 9h1"/><path stroke="#2400a5" d="M377 9h1"/><path stroke="#870099" d="M378 9h1"/><path stroke="#4500a2" d="M379 9h1"/><path stroke="#0300ab" d="M380 9h1"/><path stroke="#870099" d="M381 9h3"/><path stroke="#0000b1" d="M384 9h1"/><path stroke="#66009f" d="M385 9h1"/><path stroke="#870099" d="M386 9h2"/><path stroke="#0c00c0" d="M388 9h1"/><path stroke="#0072bd" d="M389 9h1"/><path stroke="#00ab90" d="M390 9h1"/><path stroke="#00ab96" d="M391 9h1"/><path stroke="#0099c0" d="M392 9h1"/><path stroke="#0087de" d="M393 9h2"/><path stroke="#0018de" d="M395 9h1"/><path stroke="#0000de" d="M396 9h2"/><path stroke="#0000db" d="M398 9h1"/><path stroke="#0000d8" d="M399 9h7"/><path stroke="#4200a2" d="M406 9h1"/><path stroke="#840099" d="M407 9h1"/><path stroke="#4200a2" d="M408 9h1"/><path stroke="#0000d8" d="M409 9h6"/><path stroke="#0000d5" d="M415 9h1"/><path stroke="#004bde" d="M416 9h1"/><path stroke="#008adb" d="M417 9h1"/><path stroke="#00aba8" d="M418 9h3"/><path stroke="#0096c6" d="M421 9h1"/><path stroke="#0084de" d="M422 9h1"/><path stroke="#0042c3" d="M423 9h1"/><path stroke="#0300ab" d="M424 9h2"/><path stroke="#003fcc" d="M426 9h1"/><path stroke="#007ede" d="M427 9h2"/><path stroke="#0042de" d="M429 9h2"/><path stroke="#0048de" d="M431 9h1"/><path stroke="#004ede" d="M432 9h1"/><path stroke="#0075de" d="M433 9h1"/><path stroke="#0087de" d="M434 9h1"/><path stroke="#008ade" d="M435 9h2"/><path stroke="#008dde" d="M437 9h1"/><path stroke="#009378" d="M438 9h1"/><path stroke="#009c12" d="M439 9h2"/><path stroke="#009f69" d="M441 9h1"/><path stroke="#00a2c0" d="M442 9h1"/><path stroke="#00a5ba" d="M443 9h1"/><path stroke="#00a5b7" d="M444 9h1"/><path stroke="#00a8b4" d="M445 9h1"/><path stroke="#00a8b1" d="M446 9h1"/><path stroke="#00a8ae" d="M447 9h1"/><path stroke="#00abab" d="M448 9h1"/><path stroke="#00aba8" d="M449 9h1"/><path stroke="#00aba5" d="M450 9h1"/><path stroke="#00aba2" d="M451 9h1"/><path stroke="#00ab9f" d="M452 9h1"/><path stroke="#00ab9c" d="M453 9h1"/><path stroke="#00ab99" d="M454 9h1"/><path stroke="#00ab96" d="M455 9h1"/><path stroke="#00ab93" d="M456 9h1"/><path stroke="#00ab90" d="M457 9h2"/><path stroke="#00ab8d" d="M459 9h1"/><path stroke="#00a881" d="M460 9h1"/><path stroke="#00a557" d="M461 9h1"/><path stroke="#009f2d" d="M462 9h1"/><path stroke="#009906" d="M463 9h1"/><path stroke="#009c00" d="M464 9h2"/><path stroke="#009c0f" d="M466 9h1"/><path stroke="#009f33" d="M467 9h1"/><path stroke="#00a557" d="M468 9h1"/><path stroke="#00a86f" d="M469 9h1"/><path stroke="#00a878" d="M470 9h2"/><path stroke="#00a872" d="M472 9h2"/><path stroke="#00a569" d="M474 9h3"/><path stroke="#00a872" d="M477 9h1"/><path stroke="#00a87e" d="M478 9h1"/><path stroke="#00ab84" d="M479 9h1"/><path stroke="#00ab8a" d="M480 9h1"/><path stroke="#00ab8d" d="M481 9h1"/><path stroke="#00ab90" d="M482 9h1"/><path stroke="#00ab93" d="M483 9h1"/><path stroke="#00ab96" d="M484 9h2"/><path stroke="#00ab99" d="M486 9h1"/><path stroke="#00ab9c" d="M487 9h1"/><path stroke="#00ab9f" d="M488 9h1"/><path stroke="#00a8ae" d="M489 9h1"/><path stroke="#00a5bd" d="M490 9h1"/><path stroke="#009fcf" d="M491 9h1"/><path stroke="#0099db" d="M492 9h1"/><path stroke="#0093de" d="M493 9h1"/><path stroke="#008dde" d="M494 9h1"/><path stroke="#0084de" d="M495 9h1"/><path stroke="#0078de" d="M496 9h1"/><path stroke="#005dde" d="M497 9h1"/><path stroke="#003fde" d="M498 9h1"/><path stroke="#0024de" d="M499 9h1"/><path stroke="#000fde" d="M500 9h1"/><path stroke="#0006de" d="M501 9h1"/><path stroke="#0000de" d="M502 9h2"/><path stroke="#0000d8" d="M504 9h9"/><path stroke="#0000d5" d="M513 9h2"/><path stroke="#0000cf" d="M515 9h1"/><path stroke="#0000c9" d="M516 9h1"/><path stroke="#0000c3" d="M517 9h1"/><path stroke="#0000bd" d="M518 9h1"/><path stroke="#0000b4" d="M519 9h1"/><path stroke="#0600ab" d="M520 9h1"/><path stroke="#1200a8" d="M521 9h1"/><path stroke="#2400a5" d="M522 9h1"/><path stroke="#2d00a5" d="M523 9h1"/><path stroke="#3300a5" d="M524 9h1"/><path stroke="#3900a2" d="M525 9h1"/><path stroke="#1b4eba" d="M526 9h1"/><path stroke="#009cd2" d="M527 9h1"/><path stroke="#004ed8" d="M528 9h1"/><path stroke="#0000de" d="M529 9h2"/><path stroke="#0081de" d="M531 9h5"/><path stroke="#008dde" d="M536 9h1"/><path stroke="#0099de" d="M537 9h2"/><path stroke="#0030de" d="M539 9h2"/><path stroke="#00ab9c" d="M541 9h3"/><path stroke="#008ade" d="M544 9h3"/><path stroke="#0024de" d="M547 9h1"/><path stroke="#0000d2" d="M548 9h1"/><path stroke="#0000b1" d="M549 9h1"/><path stroke="#0033c6" d="M550 9h1"/><path stroke="#0066de" d="M551 9h3"/><path stroke="#0000b7" d="M554 9h1"/><path stroke="#1200a8" d="M555 9h1"/><path stroke="#54009f" d="M556 9h1"/><path stroke="#78009c" d="M557 9h1"/><path stroke="#870099" d="M558 9h4"/><path stroke="#60009f" d="M562 9h2"/><path stroke="#870099" d="M564 9h2"/><path stroke="#66009c" d="M566 9h1"/><path stroke="#750099" d="M567 9h1"/><path stroke="#870096" d="M568 9h4"/><path stroke="#60009c" d="M572 9h1"/><path stroke="#720099" d="M573 9h1"/><path stroke="#840096" d="M574 9h1"/><path stroke="#840093" d="M575 9h1"/><path stroke="#810093" d="M576 9h1"/><path stroke="#7e008d" d="M577 9h1"/><path stroke="#7b008a" d="M578 9h1"/><path stroke="#720081" d="M579 9h1"/><path stroke="#5a0069" d="M580 9h1"/><path stroke="#450051" d="M581 9h1"/><path stroke="#39003f" d="M582 9h1"/><path stroke="#2a0030" d="M583 9h1"/><path stroke="#1e0024" d="M584 9h1"/><path stroke="#120015" d="M585 9h1"/><path stroke="#0c000c" d="M586 9h1"/><path stroke="#060006" d="M587 9h1"/><path stroke="#000000" d="M588 9h7"/></g>
<g transform="translate(0,111.636)"><path stroke="#ffc600" d="M328 9h1"/><path stroke="#810093" d="M329 9h1"/><path stroke="#300036" d="M330 9h3"/><path stroke="#24002a" d="M333 9h35"/><path stroke="#2d0033" d="M368 9h1"/><path stroke="#390042" d="M369 9h1"/><path stroke="#4b0054" d="M370 9h1"/><path stroke="#6c007b" d="M371 9h1"/><path stroke="#7b008d" d="M372 9h1"/><path stroke="#7e0090" d="M373 9h1"/><path stroke="#810093" d="M374 9h1"/><path stroke="#840096" d="M375 9h1"/><path stroke="#45009f" d="M376 9h1"/><path stroke="#2400a5" d="M377 9h1"/><path stroke="#870099" d="M378 9h1"/><path stroke="#4500a2" d="M379 9h1"/><path stroke="#0300ab" d="M380 9h1"/><path stroke="#870099" d="M381 9h3"/><path stroke="#0000b1" d="M384 9h1"/><path stroke="#66009f" d="M385 9h1"/><path stroke="#870099" d="M386 9h2"/><path stroke="#0c00c0" d="M388 9h1"/><path stroke="#0072bd" d="M389 9h1"/><path stroke="#00ab90" d="M390 9h1"/><path stroke="#00ab96" d="M391 9h1"/><path stroke="#0099c0" d="M392 9h1"/><path stroke="#0087de" d="M393 9h2"/><path stroke="#0018de" d="M395 9h1"/><path stroke="#0000de" d="M396 9h2"/><path stroke="#0000db" d="M398 9h1"/><path stroke="#0000d8" d="M399 9h7"/><path stroke="#4200a2" d="M406 9h1"/><path stroke="#840099" d="M407 9h1"/><path stroke="#4200a2" d="M408 9h1"/><path stroke="#0000d8" d="M409 9h6"/><path stroke="#0000d5" d="M415 9h1"/><path stroke="#004bde" d="M416 9h1"/><path stroke="#008adb" d="M417 9h1"/><path stroke="#00aba8" d="M418 9h3"/><path stroke="#0096c6" d="M421 9h1"/><path stroke="#0084de" d="M422 9h1"/><path stroke="#0042c3" d="M423 9h1"/><path stroke="#0300ab" d="M424 9h2"/><path stroke="#003fcc" d="M426 9h1"/><path stroke="#007ede" d="M427 9h2"/><path stroke="#0042de" d="M429 9h2"/><path stroke="#0048de" d="M431 9h1"/><path stroke="#004ede" d="M432 9h1"/><path stroke="#0075de" d="M433 9h1"/><path stroke="#0087de" d="M434 9h1"/><path stroke="#008ade" d="M435 9h2"/><path stroke="#008dde" d="M437 9h1"/><path stroke="#009378" d="M438 9h1"/><path stroke="#009c12" d="M439 9h2"/><path stroke="#009f6c" d="M441 9h1"/><path stroke="#00a2c6" d="M442 9h1"/><path stroke="#00a2c3" d="M443 9h1"/><path stroke="#00a2c0" d="M444 9h1"/><path stroke="#00a5bd" d="M445 9h1"/><path stroke="#00a5ba" d="M446 9h1"/><path stroke="#00a5b4" d="M447 9h1"/><path stroke="#00a8b1" d="M448 9h1"/><path stroke="#00a8ae" d="M449 9h1"/><path stroke="#00abab" d="M450 9h1"/><path stroke="#00aba8" d="M451 9h1"/><path stroke="#00aba5" d="M452 9h1"/><path stroke="#00aba2" d="M453 9h1"/><path stroke="#00ab9f" d="M454 9h1"/><path stroke="#00ab9c" d="M455 9h1"/><path stroke="#00ab99" d="M456 9h1"/><path stroke="#00ab96" d="M457 9h2"/><path stroke="#00ab93" d="M459 9h1"/><path stroke="#00ab90" d="M460 9h1"/><path stroke="#00ab8d" d="M461 9h1"/><path stroke="#00ab8a" d="M462 9h1"/><path stroke="#00a87b" d="M463 9h1"/><path stroke="#00a86f" d="M464 9h1"/><path stroke="#00a569" d="M465 9h1"/><path stroke="#00a872" d="M466 9h1"/><path stroke="#00a878" d="M467 9h1"/><path stroke="#00ab84" d="M468 9h1"/><path stroke="#00ab8a" d="M469 9h5"/><path stroke="#00ab87" d="M474 9h1"/><path stroke="#00ab84" d="M475 9h1"/><path stroke="#00ab87" d="M476 9h1"/><path stroke="#00ab8a" d="M477 9h1"/><path stroke="#00ab8d" d="M478 9h2"/><path stroke="#00ab90" d="M480 9h1"/><path stroke="#00ab93" d="M481 9h1"/><path stroke="#00ab96" d="M482 9h1"/><path stroke="#00ab99" d="M483 9h1"/><path stroke="#00ab9c" d="M484 9h2"/><path stroke="#00ab9f" d="M486 9h1"/><path stroke="#00aba2" d="M487 9h1"/><path stroke="#00aba5" d="M488 9h1"/><path stroke="#00a8b4" d="M489 9h1"/><path stroke="#00a2c6" d="M490 9h1"/><path stroke="#009cd5" d="M491 9h1"/><path stroke="#0096de" d="M492 9h1"/><path stroke="#0090de" d="M493 9h1"/><path stroke="#0087de" d="M494 9h1"/><path stroke="#0081de" d="M495 9h1"/><path stroke="#0075de" d="M496 9h1"/><path stroke="#005dde" d="M497 9h1"/><path stroke="#003fde" d="M498 9h1"/><path stroke="#0024de" d="M499 9h1"/><path stroke="#000fde" d="M500 9h1"/><path stroke="#0006de" d="M501 9h1"/><path stroke="#0000de" d="M502 9h2"/><path stroke="#0000d8" d="M504 9h9"/><path stroke="#0000d5" d="M513 9h2"/><path stroke="#0000cf" d="M515 9h1"/><path stroke="#0000c9" d="M516 9h1"/><path stroke="#0000c3" d="M517 9h1"/><path stroke="#0000bd" d="M518 9h1"/><path stroke="#0000b4" d="M519 9h1"/><path stroke="#0600ab" d="M520 9h1"/><path stroke="#1200a8" d="M521 9h1"/><path stroke="#2400a5" d="M522 9h1"/><path stroke="#2d00a5" d="M523 9h1"/><path stroke="#3300a5" d="M524 9h1"/><path stroke="#3900a2" d="M525 9h1"/><path stroke="#1b4eba" d="M526 9h1"/><path stroke="#009cd2" d="M527 9h1"/><path stroke="#004ed8" d="M528 9h1"/><path stroke="#0000de" d="M529 9h2"/><path stroke="#0081de" d="M531 9h5"/><path stroke="#008dde" d="M536 9h1"/><path stroke="#0099de" d="M537 9h2"/><path stroke="#0030de" d="M539 9h2"/><path stroke="#00ab9c" d="M541 9h3"/><path stroke="#008ade" d="M544 9h3"/><path stroke="#0024de" d="M547 9h1"/><path stroke="#0000d2" d="M548 9h1"/><path stroke="#0000b1" d="M549 9h1"/><path stroke="#0033c6" d="M550 9h1"/><path stroke="#0066de" d="M551 9h3"/><path stroke="#0000b7" d="M554 9h1"/><path stroke="#1200a8" d="M555 9h1"/><path stroke="#54009f" d="M556 9h1"/><path stroke="#78009c" d="M557 9h1"/><path stroke="#870099" d="M558 9h4"/><path stroke="#60009f" d="M562 9h2"/><path stroke="#870099" d="M564 9h2"/><path stroke="#66009c" d="M566 9h1"/><path stroke="#750099" d="M567 9h1"/><path stroke="#870096" d="M568 9h4"/><path stroke="#60009c" d="M572 9h1"/><path stroke="#720099" d="M573 9h1"/><path stroke="#840096" d="M574 9h1"/><path stroke="#840093" d="M575 9h1"/><path stroke="#810093" d="M576 9h1"/><path stroke="#7e008d" d="M577 9h1"/><path stroke="#7b008a" d="M578 9h1"/><path stroke="#720081" d="M579 9h1"/><path stroke="#5a0069" d="M580 9h1"/><path stroke="#450051" d="M581 9h1"/><path stroke="#39003f" d="M582 9h1"/><path stroke="#2a0030" d="M583 9h1"/><path stroke="#1e0024" d="M584 9h1"/><path stroke="#120015" d="M585 9h1"/><path stroke="#0c000c" d="M586 9h1"/><path stroke="#060006" d="M587 9h1"/><path stroke="#000000" d="M588 9h7"/></g>
<g transform="translate(0,128.364)"><path stroke="#ffc600" d="M328 9h1"/><path stroke="#810093" d="M329 9h1"/><path stroke="#300036" d="M330 9h3"/><path stroke="#24002a" d="M333 9h35"/><path stroke="#2d0033" d="M368 9h1"/><path stroke="#390042" d="M369 9h1"/><path stroke="#4b0054" d="M370 9h1"/><path stroke="#6c007b" d="M371 9h1"/><path stroke="#7b008d" d="M372 9h1"/><path stroke="#7e0090" d="M373 9h1"/><path stroke="#810093" d="M374 9h1"/><path stroke="#840096" d="M375 9h1"/><path stroke="#45009f" d="M376 9h1"/><path stroke="#2400a5" d="M377 9h1"/><path stroke="#870099" d="M378 9h1"/><path stroke="#4500a2" d="M379 9h1"/><path stroke="#0300ab" d="M380 9h1"/><path stroke="#870099" d="M381 9h3"/><path stroke="#0000b1" d="M384 9h1"/><path stroke="#66009f" d="M385 9h1"/><path stroke="#870099" d="M386 9h2"/><path stroke="#0c00c0" d="M388 9h1"/><path stroke="#0072bd" d="M389 9h1"/><path stroke="#00ab90" d="M390 9h1"/><path stroke="#00ab96" d="M391 9h1"/><path stroke="#0099c0" d="M392 9h1"/><path stroke="#0087de" d="M393 9h2"/><path stroke="#0018de" d="M395 9h1"/><path stroke="#0000de" d="M396 9h2"/><path stroke="#0000db" d="M398 9h1"/><path stroke="#0000d8" d="M399 9h7"/><path stroke="#4200a2" d="M406 9h1"/><path stroke="#840099" d="M407 9h1"/><path stroke="#4200a2" d="M408 9h1"/><path stroke="#0000d8" d="M409 9h6"/><path stroke="#0000d5" d="M415 9h1"/><path stroke="#004bde" d="M416 9h1"/><path stroke="#008adb" d="M417 9h1"/><path stroke="#00aba8" d="M418 9h3"/><path stroke="#0096c6" d="M421 9h1"/><path stroke="#0084de" d="M422 9h1"/><path stroke="#0042c3" d="M423 9h1"/><path stroke="#0300ab" d="M424 9h2"/><path stroke="#003fcc" d="M426 9h1"/><path stroke="#007ede" d="M427 9h2"/><path stroke="#0042de" d="M429 9h2"/><path stroke="#0048de" d="M431 9h1"/><path stroke="#004ede" d="M432 9h1"/><path stroke="#0075de" d="M433 9h1"/><path stroke="#0087de" d="M434 9h1"/><path stroke="#008ade" d="M435 9h2"/><path stroke="#008dde" d="M437 9h1"/><path stroke="#009378" d="M438 9h1"/><path stroke="#009c12" d="M439 9h2"/><path stroke="#009f6c" d="M441 9h1"/><path stroke="#00a2c0" d="M442 9h1"/><path stroke="#00a2bd" d="M443 9h1"/><path stroke="#00a5ba" d="M444 9h1"/><path stroke="#00a5b7" d="M445 9h1"/><path stroke="#00a8b4" d="M446 9h1"/><path stroke="#00a8b1" d="M447 9h1"/><path stroke="#00a8ae" d="M448 9h1"/><path stroke="#00abab" d="M449 9h1"/><path stroke="#00aba8" d="M450 9h1"/><path stroke="#00aba5" d="M451 9h1"/><path stroke="#00aba2" d="M452 9h1"/><path stroke="#00ab9f" d="M453 9h1"/><path stroke="#00ab9c" d="M454 9h1"/><path stroke="#00ab99" d="M455 9h1"/><path stroke="#00ab96" d="M456 9h1"/><path stroke="#00ab93" d="M457 9h1"/><path stroke="#00ab90" d="M458 9h2"/><path stroke="#00ab8d" d="M460 9h1"/><path stroke="#00a884" d="M461 9h1"/><path stroke="#00a563" d="M462 9h1"/><path stroke="#00a23f" d="M463 9h1"/><path stroke="#009f2a" d="M464 9h1"/><path stroke="#009f27" d="M465 9h1"/><path stroke="#009f36" d="M466 9h1"/><path stroke="#00a254" d="M467 9h1"/><path stroke="#00a86c" d="M468 9h1"/><path stroke="#00a87e" d="M469 9h1"/><path stroke="#00ab84" d="M470 9h2"/><path stroke="#00a87e" d="M472 9h2"/><path stroke="#00a875" d="M474 9h1"/><path stroke="#00a872" d="M475 9h1"/><path stroke="#00a875" d="M476 9h1"/><path stroke="#00a87e" d="M477 9h1"/><path stroke="#00ab87" d="M478 9h1"/><path stroke="#00ab8a" d="M479 9h1"/><path stroke="#00ab8d" d="M480 9h1"/><path stroke="#00ab90" d="M481 9h2"/><path stroke="#00ab93" d="M483 9h1"/><path stroke="#00ab96" d="M484 9h1"/><path stroke="#00ab99" d="M485 9h1"/><path stroke="#00ab9c" d="M486 9h1"/><path stroke="#00ab9f" d="M487 9h1"/><path stroke="#00aba2" d="M488 9h1"/><path stroke="#00a8ae" d="M489 9h1"/><path stroke="#00a2c0" d="M490 9h1"/><path stroke="#009cd2" d="M491 9h1"/><path stroke="#0099db" d="M492 9h1"/><path stroke="#0093de" d="M493 9h1"/><path stroke="#008ade" d="M494 9h1"/><path stroke="#0081de" d="M495 9h1"/><path stroke="#0078de" d="M496 9h1"/><path stroke="#005dde" d="M497 9h1"/><path stroke="#003fde" d="M498 9h1"/><path stroke="#0024de" d="M499 9h1"/><path stroke="#000fde" d="M500 9h1"/><path stroke="#0006de" d="M501 9h1"/><path stroke="#0000de" d="M502 9h2"/><path stroke="#0000d8" d="M504 9h9"/><path stroke="#0000d5" d="M513 9h2"/><path stroke="#0000cf" d="M515 9h1"/><path stroke="#0000c9" d="M516 9h1"/><path stroke="#0000c3" d="M517 9h1"/><path stroke="#0000bd" d="M518 9h1"/><path stroke="#0000b4" d="M519 9h1"/><path stroke="#0600ab" d="M520 9h1"/><path stroke="#1200a8" d="M521 9h1"/><path stroke="#2400a5" d="M522 9h1"/><path stroke="#2d00a5" d="M523 9h1"/><path stroke="#3300a5" d="M524 9h1"/><path stroke="#3900a2" d="M525 9h1"/><path stroke="#1b4eba" d="M526 9h1"/><path stroke="#009cd2" d="M527 9h1"/><path stroke="#004ed8" d="M528 9h1"/><path stroke="#0000de" d="M529 9h2"/><path stroke="#0081de" d="M531 9h5"/><path stroke="#008dde" d="M536 9h1"/><path stroke="#0099de" d="M537 9h2"/><path stroke="#0030de" d="M539 9h2"/><path stroke="#00ab9c" d="M541 9h3"/><path stroke="#008ade" d="M544 9h3"/><path stroke="#0024de" d="M547 9h1"/><path stroke="#0000d2" d="M548 9h1"/><path stroke="#0000b1" d="M549 9h1"/><path stroke="#0033c6" d="M550 9h1"/><path stroke="#0066de" d="M551 9h3"/><path stroke="#0000b7" d="M554 9h1"/><path stroke="#1200a8" d="M555 9h1"/><path stroke="#54009f" d="M556 9h1"/><path stroke="#78009c" d="M557 9h1"/><path stroke="#870099" d="M558 9h4"/><path stroke="#60009f" d="M562 9h2"/><path stroke="#870099" d="M564 9h2"/><path stroke="#66009c" d="M566 9h1"/><path stroke="#750099" d="M567 9h1"/><path stroke="#870096" d="M568 9h4"/><path stroke="#60009c" d="M572 9h1"/><path stroke="#720099" d="M573 9h1"/><path stroke="#840096" d="M574 9h1"/><path stroke="#840093" d="M575 9h1"/><path stroke="#810093" d="M576 9h1"/><path stroke="#7e008d" d="M577 9h1"/><path stroke="#7b008a" d="M578 9h1"/><path stroke="#720081" d="M579 9h1"/><path stroke="#5a0069" d="M580 9h1"/><path stroke="#450051" d="M581 9h1"/><path stroke="#39003f" d="M582 9h1"/><path stroke="#2a0030" d="M583 9h1"/><path stroke="#1e0024" d="M584 9h1"/><path stroke="#120015" d="M585 9h1"/><path stroke="#0c000c" d="M586 9h1"/><path stroke="#060006" d="M587 9h1"/><path stroke="#000000" d="M588 9h7"/></g>
<g transform="translate(0,145.091)"><path stroke="#ffc600" d="M328 9h1"/><path stroke="#810093" d="M329 9h1"/><path stroke="#300036" d="M330 9h3"/><path stroke="#24002a" d="M333 9h35"/><path stroke="#2d0033" d="M368 9h1"/><path stroke="#390042" d="M369 9h1"/><path stroke="#4b0054" d="M370 9h1"/><path stroke="#6c007b" d="M371 9h1"/><path stroke="#7b008d" d="M372 9h1"/><path stroke="#7e0090" d="M373 9h1"/><path stroke="#810093" d="M374 9h1"/><path stroke="#840096" d="M375 9h1"/><path stroke="#45009f" d="M376 9h1"/><path stroke="#2400a5" d="M377 9h1"/><path stroke="#870099" d="M378 9h1"/><path stroke="#4500a2" d="M379 9h1"/><path stroke="#0300ab" d="M380 9h1"/><path stroke="#870099" d="M381 9h3"/><path stroke="#0000b1" d="M384 9h1"/><path stroke="#66009f" d="M385 9h1"/><path stroke="#870099" d="M386 9h2"/><path stroke="#0c00c0" d="M388 9h1"/><path stroke="#0072bd" d="M389 9h1"/><path stroke="#00ab90" d="M390 9h1"/><path stroke="#00ab96" d="M391 9h1"/><path stroke="#0099c0" d="M392 9h1"/><path stroke="#0087de" d="M393 9h2"/><path stroke="#0018de" d="M395 9h1"/><path stroke="#0000de" d="M396 9h2"/><path stroke="#0000db" d="M398 9h1"/><path stroke="#0000d8" d="M399 9h7"/><path stroke="#4200a2" d="M406 9h1"/><path stroke="#840099" d="M407 9h1"/><path stroke="#4200a2" d="M408 9h1"/><path stroke="#0000d8" d="M409 9h6"/><path stroke="#0000d5" d="M415 9h1"/><path stroke="#004bde" d="M416 9h1"/><path stroke="#008adb" d="M417 9h1"/><path stroke="#00aba8" d="M418 9h3"/><path stroke="#0096c6" d="M421 9h1"/><path stroke="#0084de" d="M422 9h1"/><path stroke="#0042c3" d="M423 9h1"/><path stroke="#0300ab" d="M424 9h2"/><path stroke="#003fcc" d="M426 9h1"/><path stroke="#007ede" d="M427 9h2"/><path stroke="#0042de" d="M429 9h2"/><path stroke="#0048de" d="M431 9h1"/><path stroke="#004ede" d="M432 9h1"/><path stroke="#0075de" d="M433 9h1"/><path stroke="#0087de" d="M434 9h1"/><path stroke="#008ade" d="M435 9h2"/><path stroke="#008dde" d="M437 9h1"/><path stroke="#009378" d="M438 9h1"/><path stroke="#009c12" d="M439 9h2"/><path stroke="#009978" d="M441 9h1"/><path stroke="#0096de" d="M442 9h2"/><path stroke="#0099de" d="M444 9h1"/><path stroke="#0099db" d="M445 9h1"/><path stroke="#009cd8" d="M446 9h1"/><path stroke="#009cd5" d="M447 9h1"/><path stroke="#009cd2" d="M448 9h1"/><path stroke="#00a2c6" d="M449 9h1"/><path stroke="#00a2c3" d="M450 9h1"/><path stroke="#00a2c0" d="M451 9h2"/><path stroke="#00a8b1" d="M453 9h1"/><path stroke="#00a8ae" d="M454 9h1"/><path stroke="#00abab" d="M455 9h2"/><path stroke="#00aba8" d="M457 9h1"/><path stroke="#00aba5" d="M458 9h2"/><path stroke="#00aba2" d="M460 9h2"/><path stroke="#00ab9c" d="M462 9h1"/><path stroke="#00ab99" d="M463 9h4"/><path stroke="#00ab9c" d="M467 9h2"/><path stroke="#00ab9f" d="M469 9h5"/><path stroke="#00ab9c" d="M474 9h4"/><path stroke="#00ab9f" d="M478 9h2"/><path stroke="#00aba2" d="M480 9h2"/><path stroke="#00aba5" d="M482 9h2"/><path stroke="#00aba8" d="M484 9h1"/><path stroke="#00abab" d="M485 9h2"/><path stroke="#00a8ae" d="M487 9h1"/><path stroke="#00a8b1" d="M488 9h1"/><path stroke="#00a2c0" d="M489 9h1"/><path stroke="#009cd2" d="M490 9h1"/><path stroke="#0099db" d="M491 9h1"/><path stroke="#0093de" d="M492 9h1"/><path stroke="#008dde" d="M493 9h1"/><path stroke="#0084de" d="M494 9h1"/><path stroke="#007ede" d="M495 9h1"/><path stroke="#006fde" d="M496 9h1"/><path stroke="#005dde" d="M497 9h1"/><path stroke="#003fde" d="M498 9h1"/><path stroke="#0024de" d="M499 9h1"/><path stroke="#000fde" d="M500 9h1"/><path stroke="#0006de" d="M501 9h1"/><path stroke="#0000de" d="M502 9h2"/><path stroke="#0000d8" d="M504 9h9"/><path stroke="#0000d5" d="M513 9h2"/><path stroke="#0000cf" d="M515 9h1"/><path stroke="#0000c9" d="M516 9h1"/><path stroke="#0000c3" d="M517 9h1"/><path stroke="#0000bd" d="M518 9h1"/><path stroke="#0000b4" d="M519 9h1"/><path stroke="#0600ab" d="M520 9h1"/><path stroke="#1200a8" d="M521 9h1"/><path stroke="#2400a5" d="M522 9h1"/><path stroke="#2d00a5" d="M523 9h1"/><path stroke="#3300a5" d="M524 9h1"/><path stroke="#3900a2" d="M525 9h1"/><path stroke="#1b4eba" d="M526 9h1"/><path stroke="#009cd2" d="M527 9h1"/><path stroke="#004ed8" d="M528 9h1"/><path stroke="#0000de" d="M529 9h2"/><path stroke="#0081de" d="M531 9h5"/><path stroke="#008dde" d="M536 9h1"/><path stroke="#0099de" d="M537 9h2"/><path stroke="#0030de" d="M539 9h2"/><path stroke="#00ab9c" d="M541 9h3"/><path stroke="#008ade" d="M544 9h3"/><path stroke="#0024de" d="M547 9h1"/><path stroke="#0000d2" d="M548 9h1"/><path stroke="#0000b1" d="M549 9h1"/><path stroke="#0033c6" d="M550 9h1"/><path stroke="#0066de" d="M551 9h3"/><path stroke="#0000b7" d="M554 9h1"/><path stroke="#1200a8" d="M555 9h1"/><path stroke="#54009f" d="M556 9h1"/><path stroke="#78009c" d="M557 9h1"/><path stroke="#870099" d="M558 9h4"/><path stroke="#60009f" d="M562 9h2"/><path stroke="#870099" d="M564 9h2"/><path stroke="#66009c" d="M566 9h1"/><path stroke="#750099" d="M567 9h1"/><path stroke="#870096" d="M568 9h4"/><path stroke="#60009c" d="M572 9h1"/><path stroke="#720099" d="M573 9h1"/><path stroke="#840096" d="M574 9h1"/><path stroke="#840093" d="M575 9h1"/><path stroke="#810093" d="M576 9h1"/><path stroke="#7e008d" d="M577 9h1"/><path stroke="#7b008a" d="M578 9h1"/><path stroke="#720081" d="M579 9h1"/><path stroke="#5a0069" d="M580 9h1"/><path stroke="#450051" d="M581 9h1"/><path stroke="#39003f" d="M582 9h1"/><path stroke="#2a0030" d="M583 9h1"/><path stroke="#1e0024" d="M584 9h1"/><path stroke="#120015" d="M585 9h1"/><path stroke="#0c000c" d="M586 9h1"/><path stroke="#060006" d="M587 9h1"/><path stroke="#000000" d="M588 9h7"/></g>
<g transform="translate(0,161.818)"><path stroke="#ffc600" d="M328 9h1"/><path stroke="#810093" d="M329 9h1"/><path stroke="#300036" d="M330 9h3"/><path stroke="#24002a" d="M333 9h35"/><path stroke="#2d0033" d="M368 9h1"/><path stroke="#390042" d="M369 9h1"/><path stroke="#4b0054" d="M370 9h1"/><path stroke="#6c007b" d="M371 9h1"/><path stroke="#7b008d" d="M372 9h1"/><path stroke="#7e0090" d="M373 9h1"/><path stroke="#810093" d="M374 9h1"/><path stroke="#840096" d="M375 9h1"/><path stroke="#45009f" d="M376 9h1"/><path stroke="#2400a5" d="M377 9h1"/><path stroke="#870099" d="M378 9h1"/><path stroke="#4500a2" d="M379 9h1"/><path stroke="#0300ab" d="M380 9h1"/><path stroke="#870099" d="M381 9h3"/><path stroke="#0000b1" d="M384 9h1"/><path stroke="#66009f" d="M385 9h1"/><path stroke="#870099" d="M386 9h2"/><path stroke="#0c00c0" d="M388 9h1"/><path stroke="#0072bd" d="M389 9h1"/><path stroke="#00ab90" d="M390 9h1"/><path stroke="#00ab96" d="M391 9h1"/><path stroke="#0099c0" d="M392 9h1"/><path stroke="#0087de" d="M393 9h2"/><path stroke="#0018de" d="M395 9h1"/><path stroke="#0000de" d="M396 9h2"/><path stroke="#0000db" d="M398 9h1"/><path stroke="#0000d8" d="M399 9h7"/><path stroke="#4200a2" d="M406 9h1"/><path stroke="#840099" d="M407 9h1"/><path stroke="#4200a2" d="M408 9h1"/><path stroke="#0000d8" d="M409 9h6"/><path stroke="#0000d5" d="M415 9h1"/><path stroke="#004bde" d="M416 9h1"/><path stroke="#008adb" d="M417 9h1"/><path stroke="#00aba8" d="M418 9h3"/><path stroke="#0096c6" d="M421 9h1"/><path stroke="#0084de" d="M422 9h1"/><path stroke="#0042c3" d="M423 9h1"/><path stroke="#0300ab" d="M424 9h2"/><path stroke="#003fcc" d="M426 9h1"/><path stroke="#007ede" d="M427 9h2"/><path stroke="#0042de" d="M429 9h2"/><path stroke="#0048de" d="M431 9h1"/><path stroke="#004ede" d="M432 9h1"/><path stroke="#0075de" d="M433 9h1"/><path stroke="#0087de" d="M434 9h1"/><path stroke="#008ade" d="M435 9h2"/><path stroke="#008dde" d="M437 9h1"/><path stroke="#009378" d="M438 9h1"/><path stroke="#009c12" d="M439 9h2"/><path stroke="#009978" d="M441 9h1"/><path stroke="#0099db" d="M442 9h2"/><path stroke="#009cd8" d="M444 9h1"/><path stroke="#009cd5" d="M445 9h1"/><path stroke="#009cd2" d="M446 9h1"/><path stroke="#009fcf" d="M447 9h1"/><path stroke="#009fcc" d="M448 9h1"/><path stroke="#00a2c3" d="M449 9h1"/><path stroke="#00a2c0" d="M450 9h1"/><path stroke="#00a5bd" d="M451 9h1"/><path stroke="#00a5ba" d="M452 9h1"/><path stroke="#00a8ae" d="M453 9h1"/><path stroke="#00a8ab" d="M454 9h1"/><path stroke="#00abab" d="M455 9h1"/><path stroke="#00aba8" d="M456 9h1"/><path stroke="#00aba5" d="M457 9h3"/><path stroke="#00aba2" d="M460 9h1"/><path stroke="#00ab9f" d="M461 9h1"/><path stroke="#00ab9c" d="M462 9h1"/><path stroke="#00ab99" d="M463 9h1"/><path stroke="#00ab96" d="M464 9h3"/><path stroke="#00ab99" d="M467 9h1"/><path stroke="#00ab9c" d="M468 9h1"/><path stroke="#00ab9f" d="M469 9h4"/><path stroke="#00ab9c" d="M473 9h6"/><path stroke="#00ab9f" d="M479 9h2"/><path stroke="#00aba2" d="M481 9h2"/><path stroke="#00aba5" d="M483 9h2"/><path stroke="#00aba8" d="M485 9h1"/><path stroke="#00abab" d="M486 9h1"/><path stroke="#00a8ab" d="M487 9h1"/><path stroke="#00a8b1" d="M488 9h1"/><path stroke="#00a5bd" d="M489 9h1"/><path stroke="#009fcc" d="M490 9h1"/><path stroke="#0099db" d="M491 9h1"/><path stroke="#0093de" d="M492 9h1"/><path stroke="#008dde" d="M493 9h1"/><path stroke="#0087de" d="M494 9h1"/><path stroke="#007ede" d="M495 9h1"/><path stroke="#0072de" d="M496 9h1"/><path stroke="#005dde" d="M497 9h1"/><path stroke="#003fde" d="M498 9h1"/><path stroke="#0024de" d="M499 9h1"/><path stroke="#000fde" d="M500 9h1"/><path stroke="#0006de" d="M501 9h1"/><path stroke="#0000de" d="M502 9h2"/><path stroke="#0000d8" d="M504 9h9"/><path stroke="#0000d5" d="M513 9h2"/><path stroke="#0000cf" d="M515 9h1"/><path stroke="#0000c9" d="M516 9h1"/><path stroke="#0000c3" d="M517 9h1"/><path stroke="#0000bd" d="M518 9h1"/><path stroke="#0000b4" d="M519 9h1"/><path stroke="#0600ab" d="M520 9h1"/><path stroke="#1200a8" d="M521 9h1"/><path stroke="#2400a5" d="M522 9h1"/><path stroke="#2d00a5" d="M523 9h1"/><path stroke="#3300a5" d="M524 9h1"/><path stroke="#3900a2" d="M525 9h1"/><path stroke="#1b4eba" d="M526 9h1"/><path stroke="#009cd2" d="M527 9h1"/><path stroke="#004ed8" d="M528 9h1"/><path stroke="#0000de" d="M529 9h2"/><path stroke="#0081de" d="M531 9h5"/><path stroke="#008dde" d="M536 9h1"/><path stroke="#0099de" d="M537 9h2"/><path stroke="#0030de" d="M539 9h2"/><path stroke="#00ab9c" d="M541 9h3"/><path stroke="#008ade" d="M544 9h3"/><path stroke="#0024de" d="M547 9h1"/><path stroke="#0000d2" d="M548 9h1"/><path stroke="#0000b1" d="M549 9h1"/><path stroke="#0033c6" d="M550 9h1"/><path stroke="#0066de" d="M551 9h3"/><path stroke="#0000b7" d="M554 9h1"/><path stroke="#1200a8" d="M555 9h1"/><path stroke="#54009f" d="M556 9h1"/><path stroke="#78009c" d="M557 9h1"/><path stroke="#870099" d="M558 9h4"/><path stroke="#60009f" d="M562 9h2"/><path stroke="#870099" d="M564 9h2"/><path stroke="#66009c" d="M566 9h1"/><path stroke="#750099" d="M567 9h1"/><path stroke="#870096" d="M568 9h4"/><path stroke="#60009c" d="M572 9h1"/><path stroke="#720099" d="M573 9h1"/><path stroke="#840096" d="M574 9h1"/><path stroke="#840093" d="M575 9h1"/><path stroke="#810093" d="M576 9h1"/><path stroke="#7e008d" d="M577 9h1"/><path stroke="#7b008a" d="M578 9h1"/><path stroke="#720081" d="M579 9h1"/><path stroke="#5a0069" d="M580 9h1"/><path stroke="#450051" d="M581 9h1"/><path stroke="#39003f" d="M582 9h1"/><path stroke="#2a0030" d="M583 9h1"/><path stroke="#1e0024" d="M584 9h1"/><path stroke="#120015" d="M585 9h1"/><path stroke="#0c000c" d="M586 9h1"/><path stroke="#060006" d="M587 9h1"/><path stroke="#000000" d="M588 9h7"/></g>
<g transform="translate(0,178.545)"><path stroke="#ffc600" d="M328 9h1"/><path stroke="#810093" d="M329 9h1"/><path stroke="#300036" d="M330 9h3"/><path stroke="#24002a" d="M333 9h35"/><path stroke="#2d0033" d="M368 9h1"/><path stroke="#390042" d="M369 9h1"/><path stroke="#4b0054" d="M370 9h1"/><path stroke="#6c007b" d="M371 9h1"/><path stroke="#7b008d" d="M372 9h1"/><path stroke="#7e0090" d="M373 9h1"/><path stroke="#810093" d="M374 9h1"/><path stroke="#840096" d="M375 9h1"/><path stroke="#45009f" d="M376 9h1"/><path stroke="#2400a5" d="M377 9h1"/><path stroke="#870099" d="M378 9h1"/><path stroke="#4500a2" d="M379 9h1"/><path stroke="#0300ab" d="M380 9h1"/><path stroke="#870099" d="M381 9h3"/><path stroke="#0000b1" d="M384 9h1"/><path stroke="#66009f" d="M385 9h1"/><path stroke="#870099" d="M386 9h2"/><path stroke="#0c00c0" d="M388 9h1"/><path stroke="#0072bd" d="M389 9h1"/><path stroke="#00ab90" d="M390 9h1"/><path stroke="#00ab96" d="M391 9h1"/><path stroke="#0099c0" d="M392 9h1"/><path stroke="#0087de" d="M393 9h2"/><path stroke="#0018de" d="M395 9h1"/><path stroke="#0000de" d="M396 9h2"/><path stroke="#0000db" d="M398 9h1"/><path stroke="#0000d8" d="M399 9h7"/><path stroke="#4200a2" d="M406 9h1"/><path stroke="#840099" d="M407 9h1"/><path stroke="#4200a2" d="M408 9h1"/><path stroke="#0000d8" d="M409 9h6"/><path stroke="#0000d5" d="M415 9h1"/><path stroke="#004bde" d="M416 9h1"/><path stroke="#008adb" d="M417 9h1"/><path stroke="#00aba8" d="M418 9h3"/><path stroke="#0096c6" d="M421 9h1"/><path stroke="#0084de" d="M422 9h1"/><path stroke="#0042c3" d="M423 9h1"/><path stroke="#0300ab" d="M424 9h2"/><path stroke="#003fcc" d="M426 9h1"/><path stroke="#007ede" d="M427 9h2"/><path stroke="#0042de" d="M429 9h2"/><path stroke="#0048de" d="M431 9h1"/><path stroke="#004ede" d="M432 9h1"/><path stroke="#0075de" d="M433 9h1"/><path stroke="#0087de" d="M434 9h1"/><path stroke="#008ade" d="M435 9h2"/><path stroke="#008dde" d="M437 9h1"/><path stroke="#009378" d="M438 9h1"/><path stroke="#009c12" d="M439 9h2"/><path stroke="#009f6f" d="M441 9h1"/><path stroke="#009fc6" d="M442 9h1"/><path stroke="#00a2c3" d="M443 9h1"/><path stroke="#00a2c0" d="M444 9h2"/><path stroke="#00a5ba" d="M446 9h2"/><path stroke="#00a5b7" d="M448 9h1"/><path stroke="#00a8b4" d="M449 9h1"/><path stroke="#00a8b1" d="M450 9h1"/><path stroke="#00a8ae" d="M451 9h1"/><path stroke="#00abab" d="M452 9h1"/><path stroke="#00aba8" d="M453 9h2"/><path stroke="#00aba5" d="M455 9h1"/><path stroke="#00aba2" d="M456 9h2"/><path stroke="#00ab9f" d="M458 9h2"/><path stroke="#00ab9c" d="M460 9h1"/><path stroke="#00ab99" d="M461 9h1"/><path stroke="#00ab96" d="M462 9h1"/><path stroke="#00ab93" d="M463 9h1"/><path stroke="#00ab90" d="M464 9h3"/><path stroke="#00ab93" d="M467 9h1"/><path stroke="#00ab96" d="M468 9h1"/><path stroke="#00ab99" d="M469 9h1"/><path stroke="#00ab9c" d="M470 9h2"/><path stroke="#00ab99" d="M472 9h1"/><path stroke="#00ab96" d="M473 9h6"/><path stroke="#00ab99" d="M479 9h1"/><path stroke="#00ab9c" d="M480 9h3"/><path stroke="#00ab9f" d="M483 9h1"/><path stroke="#00aba2" d="M484 9h2"/><path stroke="#00aba5" d="M486 9h1"/><path stroke="#00aba8" d="M487 9h1"/><path stroke="#00abab" d="M488 9h1"/><path stroke="#00a5ba" d="M489 9h1"/><path stroke="#009fc9" d="M490 9h1"/><path stroke="#009cd8" d="M491 9h1"/><path stroke="#0096de" d="M492 9h1"/><path stroke="#0090de" d="M493 9h1"/><path stroke="#0087de" d="M494 9h1"/><path stroke="#0081de" d="M495 9h1"/><path stroke="#0075de" d="M496 9h1"/><path stroke="#005dde" d="M497 9h1"/><path stroke="#003fde" d="M498 9h1"/><path stroke="#0024de" d="M499 9h1"/><path stroke="#000fde" d="M500 9h1"/><path stroke="#0006de" d="M501 9h1"/><path stroke="#0000de" d="M502 9h2"/><path stroke="#0000d8" d="M504 9h9"/><path stroke="#0000d5" d="M513 9h2"/><path stroke="#0000cf" d="M515 9h1"/><path stroke="#0000c9" d="M516 9h1"/><path stroke="#0000c3" d="M517 9h1"/><path stroke="#0000bd" d="M518 9h1"/><path stroke="#0000b4" d="M519 9h1"/><path stroke="#0600ab" d="M520 9h1"/><path stroke="#1200a8" d="M521 9h1"/><path stroke="#2400a5" d="M522 9h1"/><path stroke="#2d00a5" d="M523 9h1"/><path stroke="#3300a5" d="M524 9h1"/><path stroke="#3900a2" d="M525 9h1"/><path stroke="#1b4eba" d="M526 9h1"/><path stroke="#009cd2" d="M527 9h1"/><path stroke="#004ed8" d="M528 9h1"/><path stroke="#0000de" d="M529 9h2"/><path stroke="#0081de" d="M531 9h5"/><path stroke="#008dde" d="M536 9h1"/><path stroke="#0099de" d="M537 9h2"/><path stroke="#0030de" d="M539 9h2"/><path stroke="#00ab9c" d="M541 9h3"/><path stroke="#008ade" d="M544 9h3"/><path stroke="#0024de" d="M547 9h1"/><path stroke="#0000d2" d="M548 9h1"/><path stroke="#0000b1" d="M549 9h1"/><path stroke="#0033c6" d="M550 9h1"/><path stroke="#0066de" d="M551 9h3"/><path stroke="#0000b7" d="M554 9h1"/><path stroke="#1200a8" d="M555 9h1"/><path stroke="#54009f" d="M556 9h1"/><path stroke="#78009c" d="M557 9h1"/><path stroke="#870099" d="M558 9h4"/><path stroke="#60009f" d="M562 9h2"/><path stroke="#870099" d="M564 9h2"/><path stroke="#66009c" d="M566 9h1"/><path stroke="#750099" d="M567 9h1"/><path stroke="#870096" d="M568 9h4"/><path stroke="#60009c" d="M572 9h1"/><path stroke="#720099" d="M573 9h1"/><path stroke="#840096" d="M574 9h1"/><path stroke="#840093" d="M575 9h1"/><path stroke="#810093" d="M576 9h1"/><path stroke="#7e008d" d="M577 9h1"/><path stroke="#7b008a" d="M578 9h1"/><path stroke="#720081" d="M579 9h1"/><path stroke="#5a0069" d="M580 9h1"/><path stroke="#450051" d="M581 9h1"/><path stroke="#39003f" d="M582 9h1"/><path stroke="#2a0030" d="M583 9h1"/><path stroke="#1e0024" d="M584 9h1"/><path stroke="#120015" d="M585 9h1"/><path stroke="#0c000c" d="M586 9h1"/><path stroke="#060006" d="M587 9h1"/><path stroke="#000000" d="M588 9h7"/></g>
<g transform="translate(0,195.273)"><path stroke="#ffc600" d="M328 9h1"/><path stroke="#810093" d="M329 9h1"/><path stroke="#300036" d="M330 9h3"/><path stroke="#24002a" d="M333 9h35"/><path stroke="#2d0033" d="M368 9h1"/><path stroke="#390042" d="M369 9h1"/><path stroke="#4b0054" d="M370 9h1"/><path stroke="#6c007b" d="M371 9h1"/><path stroke="#7b008d" d="M372 9h1"/><path stroke="#7e0090" d="M373 9h1"/><path stroke="#810093" d="M374 9h1"/><path stroke="#840096" d="M375 9h1"/><path stroke="#45009f" d="M376 9h1"/><path stroke="#2400a5" d="M377 9h1"/><path stroke="#870099" d="M378 9h1"/><path stroke="#4500a2" d="M379 9h1"/><path stroke="#0300ab" d="M380 9h1"/><path stroke="#870099" d="M381 9h3"/><path stroke="#0000b1" d="M384 9h1"/><path stroke="#66009f" d="M385 9h1"/><path stroke="#870099" d="M386 9h2"/><path stroke="#0c00c0" d="M388 9h1"/><path stroke="#0072bd" d="M389 9h1"/><path stroke="#00ab90" d="M390 9h1"/><path stroke="#00ab96" d="M391 9h1"/><path stroke="#0099c0" d="M392 9h1"/><path stroke="#0087de" d="M393 9h2"/><path stroke="#0018de" d="M395 9h1"/><path stroke="#0000de" d="M396 9h2"/><path stroke="#0000db" d="M398 9h1"/><path stroke="#0000d8" d="M399 9h7"/><path stroke="#4200a2" d="M406 9h1"/><path stroke="#840099" d="M407 9h1"/><path stroke="#4200a2" d="M408 9h1"/><path stroke="#0000d8" d="M409 9h6"/><path stroke="#0000d5" d="M415 9h1"/><path stroke="#004bde" d="M416 9h1"/><path stroke="#008adb" d="M417 9h1"/><path stroke="#00aba8" d="M418 9h3"/><path stroke="#0096c6" d="M421 9h1"/><path stroke="#0084de" d="M422 9h1"/><path stroke="#0042c3" d="M423 9h1"/><path stroke="#0300ab" d="M424 9h2"/><path stroke="#003fcc" d="M426 9h1"/><path stroke="#007ede" d="M427 9h2"/><path stroke="#0042de" d="M429 9h2"/><path stroke="#0048de" d="M431 9h1"/><path stroke="#004ede" d="M432 9h1"/><path stroke="#0075de" d="M433 9h1"/><path stroke="#0087de" d="M434 9h1"/><path stroke="#008ade" d="M435 9h2"/><path stroke="#008dde" d="M437 9h1"/><path stroke="#009378" d="M438 9h1"/><path stroke="#009c12" d="M439 9h2"/><path stroke="#009f6c" d="M441 9h1"/><path stroke="#00a2c0" d="M442 9h1"/><path stroke="#00a2bd" d="M443 9h1"/><path stroke="#00a5ba" d="M444 9h1"/><path stroke="#00a5b7" d="M445 9h1"/><path stroke="#00a8b4" d="M446 9h1"/><path stroke="#00a8b1" d="M447 9h1"/><path stroke="#00a8ae" d="M448 9h1"/><path stroke="#00abab" d="M449 9h1"/><path stroke="#00aba8" d="M450 9h1"/><path stroke="#00aba5" d="M451 9h1"/><path stroke="#00aba2" d="M452 9h1"/><path stroke="#00ab9f" d="M453 9h1"/><path stroke="#00ab9c" d="M454 9h1"/><path stroke="#00ab99" d="M455 9h1"/><path stroke="#00ab96" d="M456 9h1"/><path stroke="#00ab93" d="M457 9h1"/><path stroke="#00ab90" d="M458 9h2"/><path stroke="#00ab8d" d="M460 9h1"/><path stroke="#00ab8a" d="M461 9h1"/><path stroke="#00a878" d="M462 9h1"/><path stroke="#00a56c" d="M463 9h1"/><path stroke="#00a55d" d="M464 9h3"/><path stroke="#00a569" d="M467 9h1"/><path stroke="#00a872" d="M468 9h1"/><path stroke="#00a87e" d="M469 9h1"/><path stroke="#00ab84" d="M470 9h2"/><path stroke="#00a87e" d="M472 9h2"/><path stroke="#00a875" d="M474 9h1"/><path stroke="#00a872" d="M475 9h1"/><path stroke="#00a875" d="M476 9h1"/><path stroke="#00a87e" d="M477 9h1"/><path stroke="#00ab87" d="M478 9h1"/><path stroke="#00ab8a" d="M479 9h1"/><path stroke="#00ab8d" d="M480 9h1"/><path stroke="#00ab90" d="M481 9h2"/><path stroke="#00ab93" d="M483 9h1"/><path stroke="#00ab96" d="M484 9h1"/><path stroke="#00ab99" d="M485 9h1"/><path stroke="#00ab9c" d="M486 9h1"/><path stroke="#00ab9f" d="M487 9h1"/><path stroke="#00aba2" d="M488 9h1"/><path stroke="#00a8ae" d="M489 9h1"/><path stroke="#00a2c0" d="M490 9h1"/><path stroke="#009cd2" d="M491 9h1"/><path stroke="#0099db" d="M492 9h1"/><path stroke="#0093de" d="M493 9h1"/><path stroke="#008ade" d="M494 9h1"/><path stroke="#0081de" d="M495 9h1"/><path stroke="#0078de" d="M496 9h1"/><path stroke="#005dde" d="M497 9h1"/><path stroke="#003fde" d="M498 9h1"/><path stroke="#0024de" d="M499 9h1"/><path stroke="#000fde" d="M500 9h1"/><path stroke="#0006de" d="M501 9h1"/><path stroke="#0000de" d="M502 9h2"/><path stroke="#0000d8" d="M504 9h9"/><path stroke="#0000d5" d="M513 9h2"/><path stroke="#0000cf" d="M515 9h1"/><path stroke="#0000c9" d="M516 9h1"/><path stroke="#0000c3" d="M517 9h1"/><path stroke="#0000bd" d="M518 9h1"/><path stroke="#0000b4" d="M519 9h1"/><path stroke="#0600ab" d="M520 9h1"/><path stroke="#1200a8" d="M521 9h1"/><path stroke="#2400a5" d="M522 9h1"/><path stroke="#2d00a5" d="M523 9h1"/><path stroke="#3300a5" d="M524 9h1"/><path stroke="#3900a2" d="M525 9h1"/><path stroke="#1b4eba" d="M526 9h1"/><path stroke="#009cd2" d="M527 9h1"/><path stroke="#004ed8" d="M528 9h1"/><path stroke="#0000de" d="M529 9h2"/><path stroke="#0081de" d="M531 9h5"/><path stroke="#008dde" d="M536 9h1"/><path stroke="#0099de" d="M537 9h2"/><path stroke="#0030de" d="M539 9h2"/><path stroke="#00ab9c" d="M541 9h3"/><path stroke="#008ade" d="M544 9h3"/><path stroke="#0024de" d="M547 9h1"/><path stroke="#0000d2" d="M548 9h1"/><path stroke="#0000b1" d="M549 9h1"/><path stroke="#0033c6" d="M550 9h1"/><path stroke="#0066de" d="M551 9h3"/><path stroke="#0000b7" d="M554 9h1"/><path stroke="#1200a8" d="M555 9h1"/><path stroke="#54009f" d="M556 9h1"/><path stroke="#78009c" d="M557 9h1"/><path stroke="#870099" d="M558 9h4"/><path stroke="#60009f" d="M562 9h2"/><path stroke="#870099" d="M564 9h2"/><path stroke="#66009c" d="M566 9h1"/><path stroke="#750099" d="M567 9h1"/><path stroke="#870096" d="M568 9h4"/><path stroke="#60009c" d="M572 9h1"/><path stroke="#720099" d="M573 9h1"/><path stroke="#840096" d="M574 9h1"/><path stroke="#840093" d="M575 9h1"/><path stroke="#810093" d="M576 9h1"/><path stroke="#7e008d" d="M577 9h1"/><path stroke="#7b008a" d="M578 9h1"/><path stroke="#720081" d="M579 9h1"/><path stroke="#5a0069" d="M580 9h1"/><path stroke="#450051" d="M581 9h1"/><path stroke="#39003f" d="M582 9h1"/><path stroke="#2a0030" d="M583 9h1"/><path stroke="#1e0024" d="M584 9h1"/><path stroke="#120015" d="M585 9h1"/><path stroke="#0c000c" d="M586 9h1"/><path stroke="#060006" d="M587 9h1"/><path stroke="#000000" d="M588 9h7"/></g>
<g transform="translate(0,212.000)"><path stroke="#ffc600" d="M328 9h1"/><path stroke="#810093" d="M329 9h1"/><path stroke="#300036" d="M330 9h3"/><path stroke="#24002a" d="M333 9h35"/><path stroke="#2d0033" d="M368 9h1"/><path stroke="#390042" d="M369 9h1"/><path stroke="#4b0054" d="M370 9h1"/><path stroke="#6c007b" d="M371 9h1"/><path stroke="#7b008d" d="M372 9h1"/><path stroke="#7e0090" d="M373 9h1"/><path stroke="#810093" d="M374 9h1"/><path stroke="#840096" d="M375 9h1"/><path stroke="#45009f" d="M376 9h1"/><path stroke="#2400a5" d="M377 9h1"/><path stroke="#870099" d="M378 9h1"/><path stroke="#4500a2" d="M379 9h1"/><path stroke="#0300ab" d="M380 9h1"/><path stroke="#870099" d="M381 9h3"/><path stroke="#0000b1" d="M384 9h1"/><path stroke="#66009f" d="M385 9h1"/><path stroke="#870099" d="M386 9h2"/><path stroke="#0c00c0" d="M388 9h1"/><path stroke="#0072bd" d="M389 9h1"/><path stroke="#00ab90" d="M390 9h1"/><path stroke="#00ab96" d="M391 9h1"/><path stroke="#0099c0" d="M392 9h1"/><path stroke="#0087de" d="M393 9h2"/><path stroke="#0018de" d="M395 9h1"/><path stroke="#0000de" d="M396 9h2"/><path stroke="#0000db" d="M398 9h1"/><path stroke="#0000d8" d="M399 9h7"/><path stroke="#4200a2" d="M406 9h1"/><path stroke="#840099" d="M407 9h1"/><path stroke="#4200a2" d="M408 9h1"/><path stroke="#0000d8" d="M409 9h6"/><path stroke="#0000d5" d="M415 9h1"/><path stroke="#004bde" d="M416 9h1"/><path stroke="#008adb" d="M417 9h1"/><path stroke="#00aba8" d="M418 9h3"/><path stroke="#0096c6" d="M421 9h1"/><path stroke="#0084de" d="M422 9h1"/><path stroke="#0042c3" d="M423 9h1"/><path stroke="#0300ab" d="M424 9h2"/><path stroke="#003fcc" d="M426 9h1"/><path stroke="#007ede" d="M427 9h2"/><path stroke="#0042de" d="M429 9h2"/><path stroke="#0048de" d="M431 9h1"/><path stroke="#004ede" d="M432 9h1"/><path stroke="#0075de" d="M433 9h1"/><path stroke="#0087de" d="M434 9h1"/><path stroke="#008ade" d="M435 9h2"/><path stroke="#008dde" d="M437 9h1"/><path stroke="#009378" d="M438 9h1"/><path stroke="#009c12" d="M439 9h2"/><path stroke="#009f69" d="M441 9h1"/><path stroke="#00a2c0" d="M442 9h1"/><path stroke="#00a5ba" d="M443 9h1"/><path stroke="#00a5b7" d="M444 9h1"/><path stroke="#00a8b4" d="M445 9h1"/><path stroke="#00a8b1" d="M446 9h1"/><path stroke="#00a8ae" d="M447 9h1"/><path stroke="#00abab" d="M448 9h1"/><path stroke="#00aba8" d="M449 9h1"/><path stroke="#00aba5" d="M450 9h1"/><path stroke="#00aba2" d="M451 9h1"/><path stroke="#00ab9f" d="M452 9h1"/><path stroke="#00ab9c" d="M453 9h1"/><path stroke="#00ab99" d="M454 9h1"/><path stroke="#00ab96" d="M455 9h1"/><path stroke="#00ab93" d="M456 9h1"/><path stroke="#00ab90" d="M457 9h2"/><path stroke="#00ab8d" d="M459 9h1"/><path stroke="#00ab8a" d="M460 9h1"/><path stroke="#00a878" d="M461 9h1"/><path stroke="#00a554" d="M462 9h1"/><path stroke="#009f2d" d="M463 9h1"/><path stroke="#009909" d="M464 9h1"/><path stroke="#009c00" d="M465 9h2"/><path stroke="#009909" d="M467 9h1"/><path stroke="#009f27" d="M468 9h1"/><path stroke="#00a24e" d="M469 9h1"/><path stroke="#00a569" d="M470 9h1"/><path stroke="#00a872" d="M471 9h3"/><path stroke="#00a569" d="M474 9h3"/><path stroke="#00a872" d="M477 9h1"/><path stroke="#00a87e" d="M478 9h1"/><path stroke="#00ab84" d="M479 9h1"/><path stroke="#00ab8a" d="M480 9h1"/><path stroke="#00ab8d" d="M481 9h1"/><path stroke="#00ab90" d="M482 9h1"/><path stroke="#00ab93" d="M483 9h1"/><path stroke="#00ab96" d="M484 9h2"/><path stroke="#00ab99" d="M486 9h1"/><path stroke="#00ab9c" d="M487 9h1"/><path stroke="#00ab9f" d="M488 9h1"/><path stroke="#00a8ae" d="M489 9h1"/><path stroke="#00a5bd" d="M490 9h1"/><path stroke="#009fcf" d="M491 9h1"/><path stroke="#0099db" d="M492 9h1"/><path stroke="#0093de" d="M493 9h1"/><path stroke="#008dde" d="M494 9h1"/><path stroke="#0084de" d="M495 9h1"/><path stroke="#0078de" d="M496 9h1"/><path stroke="#005dde" d="M497 9h1"/><path stroke="#003fde" d="M498 9h1"/><path stroke="#0024de" d="M499 9h1"/><path stroke="#000fde" d="M500 9h1"/><path stroke="#0006de" d="M501 9h1"/><path stroke="#0000de" d="M502 9h2"/><path stroke="#0000d8" d="M504 9h9"/><path stroke="#0000d5" d="M513 9h2"/><path stroke="#0000cf" d="M515 9h1"/><path stroke="#0000c9" d="M516 9h1"/><path stroke="#0000c3" d="M517 9h1"/><path stroke="#0000bd" d="M518 9h1"/><path stroke="#0000b4" d="M519 9h1"/><path stroke="#0600ab" d="M520 9h1"/><path stroke="#1200a8" d="M521 9h1"/><path stroke="#2400a5" d="M522 9h1"/><path stroke="#2d00a5" d="M523 9h1"/><path stroke="#3300a5" d="M524 9h1"/><path stroke="#3900a2" d="M525 9h1"/><path stroke="#1b4eba" d="M526 9h1"/><path stroke="#009cd2" d="M527 9h1"/><path stroke="#004ed8" d="M528 9h1"/><path stroke="#0000de" d="M529 9h2"/><path stroke="#0081de" d="M531 9h5"/><path stroke="#008dde" d="M536 9h1"/><path stroke="#0099de" d="M537 9h2"/><path stroke="#0030de" d="M539 9h2"/><path stroke="#00ab9c" d="M541 9h3"/><path stroke="#008ade" d="M544 9h3"/><path stroke="#0024de" d="M547 9h1"/><path stroke="#0000d2" d="M548 9h1"/><path stroke="#0000b1" d="M549 9h1"/><path stroke="#0033c6" d="M550 9h1"/><path stroke="#0066de" d="M551 9h3"/><path stroke="#0000b7" d="M554 9h1"/><path stroke="#1200a8" d="M555 9h1"/><path stroke="#54009f" d="M556 9h1"/><path stroke="#78009c" d="M557 9h1"/><path stroke="#870099" d="M558 9h4"/><path stroke="#60009f" d="M562 9h2"/><path stroke="#870099" d="M564 9h2"/><path stroke="#66009c" d="M566 9h1"/><path stroke="#750099" d="M567 9h1"/><path stroke="#870096" d="M568 9h4"/><path stroke="#60009c" d="M572 9h1"/><path stroke="#720099" d="M573 9h1"/><path stroke="#840096" d="M574 9h1"/><path stroke="#840093" d="M575 9h1"/><path stroke="#810093" d="M576 9h1"/><path stroke="#7e008d" d="M577 9h1"/><path stroke="#7b008a" d="M578 9h1"/><path stroke="#720081" d="M579 9h1"/><path stroke="#5a0069" d="M580 9h1"/><path stroke="#450051" d="M581 9h1"/><path stroke="#39003f" d="M582 9h1"/><path stroke="#2a0030" d="M583 9h1"/><path stroke="#1e0024" d="M584 9h1"/><path stroke="#120015" d="M585 9h1"/><path stroke="#0c000c" d="M586 9h1"/><path stroke="#060006" d="M587 9h1"/><path stroke="#000000" d="M588 9h7"/></g>
<g transform="translate(0,228.727)"><path stroke="#ffc600" d="M328 9h1"/><path stroke="#810093" d="M329 9h1"/><path stroke="#300036" d="M330 9h3"/><path stroke="#24002a" d="M333 9h35"/><path stroke="#2d0033" d="M368 9h1"/><path stroke="#390042" d="M369 9h1"/><path stroke="#4b0054" d="M370 9h1"/><path stroke="#6c007b" d="M371 9h1"/><path stroke="#7b008d" d="M372 9h1"/><path stroke="#7e0090" d="M373 9h1"/><path stroke="#810093" d="M374 9h1"/><path stroke="#840096" d="M375 9h1"/><path stroke="#45009f" d="M376 9h1"/><path stroke="#2400a5" d="M377 9h1"/><path stroke="#870099" d="M378 9h1"/><path stroke="#4500a2" d="M379 9h1"/><path stroke="#0300ab" d="M380 9h1"/><path stroke="#870099" d="M381 9h3"/><path stroke="#0000b1" d="M384 9h1"/><path stroke="#66009f" d="M385 9h1"/><path stroke="#870099" d="M386 9h2"/><path stroke="#0c00c0" d="M388 9h1"/><path stroke="#0072bd" d="M389 9h1"/><path stroke="#00ab90" d="M390 9h1"/><path stroke="#00ab96" d="M391 9h1"/><path stroke="#0099c0" d="M392 9h1"/><path stroke="#0087de" d="M393 9h2"/><path stroke="#0018de" d="M395 9h1"/><path stroke="#0000de" d="M396 9h2"/><path stroke="#0000db" d="M398 9h1"/><path stroke="#0000d8" d="M399 9h7"/><path stroke="#4200a2" d="M406 9h1"/><path stroke="#840099" d="M407 9h1"/><path stroke="#4200a2" d="M408 9h1"/><path stroke="#0000d8" d="M409 9h6"/><path stroke="#0000d5" d="M415 9h1"/><path stroke="#004bde" d="M416 9h1"/><path stroke="#008adb" d="M417 9h1"/><path stroke="#00aba8" d="M418 9h3"/><path stroke="#0096c6" d="M421 9h1"/><path stroke="#0084de" d="M422 9h1"/><path stroke="#0042c3" d="M423 9h1"/><path stroke="#0300ab" d="M424 9h2"/><path stroke="#003fcc" d="M426 9h1"/><path stroke="#007ede" d="M427 9h2"/><path stroke="#0042de" d="M429 9h2"/><path stroke="#0048de" d="M431 9h1"/><path stroke="#004ede" d="M432 9h1"/><path stroke="#0075de" d="M433 9h1"/><path stroke="#0087de" d="M434 9h1"/><path stroke="#008ade" d="M435 9h2"/><path stroke="#008dde" d="M437 9h1"/><path stroke="#009378" d="M438 9h1"/><path stroke="#009c12" d="M439 9h2"/><path stroke="#009f69" d="M441 9h1"/><path stroke="#00a2c0" d="M442 9h1"/><path stroke="#00a5ba" d="M443 9h1"/><path stroke="#00a5b7" d="M444 9h1"/><path stroke="#00a8b4" d="M445 9h1"/><path stroke="#00a8b1" d="M446 9h1"/><path stroke="#00a8ae" d="M447 9h1"/><path stroke="#00abab" d="M448 9h1"/><path stroke="#00aba8" d="M449 9h1"/><path stroke="#00aba5" d="M450 9h1"/><path stroke="#00aba2" d="M451 9h1"/><path stroke="#00ab9f" d="M452 9h1"/><path stroke="#00ab9c" d="M453 9h1"/><path stroke="#00ab99" d="M454 9h1"/><path stroke="#00ab96" d="M455 9h1"/><path stroke="#00ab93" d="M456 9h1"/><path stroke="#00ab90" d="M457 9h2"/><path stroke="#00ab8d" d="M459 9h1"/><path stroke="#00ab8a" d="M460 9h1"/><path stroke="#00a878" d="M461 9h1"/><path stroke="#00a554" d="M462 9h1"/><path stroke="#009f2d" d="M463 9h1"/><path stroke="#009909" d="M464 9h1"/><path stroke="#009c00" d="M465 9h2"/><path stroke="#009909" d="M467 9h1"/><path stroke="#009f27" d="M468 9h1"/><path stroke="#00a24e" d="M469 9h1"/><path stroke="#00a569" d="M470 9h1"/><path stroke="#00a872" d="M471 9h3"/><path stroke="#00a569" d="M474 9h3"/><path stroke="#00a872" d="M477 9h1"/><path stroke="#00a87e" d="M478 9h1"/><path stroke="#00ab84" d="M479 9h1"/><path stroke="#00ab8a" d="M480 9h1"/><path stroke="#00ab8d" d="M481 9h1"/><path stroke="#00ab90" d="M482 9h1"/><path stroke="#00ab93" d="M483 9h1"/><path stroke="#00ab96" d="M484 9h2"/><path stroke="#00ab99" d="M486 9h1"/><path stroke="#00ab9c" d="M487 9h1"/><path stroke="#00ab9f" d="M488 9h1"/><path stroke="#00a8ae" d="M489 9h1"/><path stroke="#00a5bd" d="M490 9h1"/><path stroke="#009fcf" d="M491 9h1"/><path stroke="#0099db" d="M492 9h1"/><path stroke="#0093de" d="M493 9h1"/><path stroke="#008dde" d="M494 9h1"/><path stroke="#0084de" d="M495 9h1"/><path stroke="#0078de" d="M496 9h1"/><path stroke="#005dde" d="M497 9h1"/><path stroke="#003fde" d="M498 9h1"/><path stroke="#0024de" d="M499 9h1"/><path stroke="#000fde" d="M500 9h1"/><path stroke="#0006de" d="M501 9h1"/><path stroke="#0000de" d="M502 9h2"/><path stroke="#0000d8" d="M504 9h9"/><path stroke="#0000d5" d="M513 9h2"/><path stroke="#0000cf" d="M515 9h1"/><path stroke="#0000c9" d="M516 9h1"/><path stroke="#0000c3" d="M517 9h1"/><path stroke="#0000bd" d="M518 9h1"/><path stroke="#0000b4" d="M519 9h1"/><path stroke="#0600ab" d="M520 9h1"/><path stroke="#1200a8" d="M521 9h1"/><path stroke="#2400a5" d="M522 9h1"/><path stroke="#2d00a5" d="M523 9h1"/><path stroke="#3300a5" d="M524 9h1"/><path stroke="#3900a2" d="M525 9h1"/><path stroke="#1b4eba" d="M526 9h1"/><path stroke="#009cd2" d="M527 9h1"/><path stroke="#004ed8" d="M528 9h1"/><path stroke="#0000de" d="M529 9h2"/><path stroke="#0081de" d="M531 9h5"/><path stroke="#008dde" d="M536 9h1"/><path stroke="#0099de" d="M537 9h2"/><path stroke="#0030de" d="M539 9h2"/><path stroke="#00ab9c" d="M541 9h3"/><path stroke="#008ade" d="M544 9h3"/><path stroke="#0024de" d="M547 9h1"/><path stroke="#0000d2" d="M548 9h1"/><path stroke="#0000b1" d="M549 9h1"/><path stroke="#0033c6" d="M550 9h1"/><path stroke="#0066de" d="M551 9h3"/><path stroke="#0000b7" d="M554 9h1"/><path stroke="#1200a8" d="M555 9h1"/><path stroke="#54009f" d="M556 9h1"/><path stroke="#78009c" d="M557 9h1"/><path stroke="#870099" d="M558 9h4"/><path stroke="#60009f" d="M562 9h2"/><path stroke="#870099" d="M564 9h2"/><path stroke="#66009c" d="M566 9h1"/><path stroke="#750099" d="M567 9h1"/><path stroke="#870096" d="M568 9h4"/><path stroke="#60009c" d="M572 9h1"/><path stroke="#720099" d="M573 9h1"/><path stroke="#840096" d="M574 9h1"/><path stroke="#840093" d="M575 9h1"/><path stroke="#810093" d="M576 9h1"/><path stroke="#7e008d" d="M577 9h1"/><path stroke="#7b008a" d="M578 9h1"/><path stroke="#720081" d="M579 9h1"/><path stroke="#5a0069" d="M580 9h1"/><path stroke="#450051" d="M581 9h1"/><path stroke="#39003f" d="M582 9h1"/><path stroke="#2a0030" d="M583 9h1"/><path stroke="#1e0024" d="M584 9h1"/><path stroke="#120015" d="M585 9h1"/><path stroke="#0c000c" d="M586 9h1"/><path stroke="#060006" d="M587 9h1"/><path stroke="#000000" d="M588 9h7"/></g>
<g transform="translate(0,245.455)"><path stroke="#ffc600" d="M328 9h1"/><path stroke="#810093" d="M329 9h1"/><path stroke="#300036" d="M330 9h3"/><path stroke="#24002a" d="M333 9h35"/><path stroke="#2d0033" d="M368 9h1"/><path stroke="#390042" d="M369 9h1"/><path stroke="#4b0054" d="M370 9h1"/><path stroke="#6c007b" d="M371 9h1"/><path stroke="#7b008d" d="M372 9h1"/><path stroke="#7e0090" d="M373 9h1"/><path stroke="#810093" d="M374 9h1"/><path stroke="#840096" d="M375 9h1"/><path stroke="#45009f" d="M376 9h1"/><path stroke="#2400a5" d="M377 9h1"/><path stroke="#870099" d="M378 9h1"/><path stroke="#4500a2" d="M379 9h1"/><path stroke="#0300ab" d="M380 9h1"/><path stroke="#870099" d="M381 9h3"/><path stroke="#0000b1" d="M384 9h1"/><path stroke="#66009f" d="M385 9h1"/><path stroke="#870099" d="M386 9h2"/><path stroke="#0c00c0" d="M388 9h1"/><path stroke="#0072bd" d="M389 9h1"/><path stroke="#00ab90" d="M390 9h1"/><path stroke="#00ab96" d="M391 9h1"/><path stroke="#0099c0" d="M392 9h1"/><path stroke="#0087de" d="M393 9h2"/><path stroke="#0018de" d="M395 9h1"/><path stroke="#0000de" d="M396 9h2"/><path stroke="#0000db" d="M398 9h1"/><path stroke="#0000d8" d="M399 9h7"/><path stroke="#4200a2" d="M406 9h1"/><path stroke="#840099" d="M407 9h1"/><path stroke="#4200a2" d="M408 9h1"/><path stroke="#0000d8" d="M409 9h6"/><path stroke="#0000d5" d="M415 9h1"/><path stroke="#004bde" d="M416 9h1"/><path stroke="#008adb" d="M417 9h1"/><path stroke="#00aba8" d="M418 9h3"/><path stroke="#0096c6" d="M421 9h1"/><path stroke="#0084de" d="M422 9h1"/><path stroke="#0042c3" d="M423 9h1"/><path stroke="#0300ab" d="M424 9h2"/><path stroke="#003fcc" d="M426 9h1"/><path stroke="#007ede" d="M427 9h2"/><path stroke="#0042de" d="M429 9h2"/><path stroke="#0048de" d="M431 9h1"/><path stroke="#004ede" d="M432 9h1"/><path stroke="#0075de" d="M433 9h1"/><path stroke="#0087de" d="M434 9h1"/><path stroke="#008ade" d="M435 9h2"/><path stroke="#008dde" d="M437 9h1"/><path stroke="#009378" d="M438 9h1"/><path stroke="#009c12" d="M439 9h2"/><path stroke="#009f6c" d="M441 9h1"/><path stroke="#00a2c0" d="M442 9h1"/><path stroke="#00a2bd" d="M443 9h1"/><path stroke="#00a5ba" d="M444 9h1"/><path stroke="#00a5b7" d="M445 9h1"/><path stroke="#00a8b4" d="M446 9h1"/><path stroke="#00a8b1" d="M447 9h1"/><path stroke="#00a8ae" d="M448 9h1"/><path stroke="#00abab" d="M449 9h1"/><path stroke="#00aba8" d="M450 9h1"/><path stroke="#00aba5" d="M451 9h1"/><path stroke="#00aba2" d="M452 9h1"/><path stroke="#00ab9f" d="M453 9h1"/><path stroke="#00ab9c" d="M454 9h1"/><path stroke="#00ab99" d="M455 9h1"/><path stroke="#00ab96" d="M456 9h1"/><path stroke="#00ab93" d="M457 9h1"/><path stroke="#00ab90" d="M458 9h2"/><path stroke="#00ab8d" d="M460 9h1"/><path stroke="#00ab8a" d="M461 9h1"/><path stroke="#00a878" d="M462 9h1"/><path stroke="#00a56c" d="M463 9h1"/><path stroke="#00a55d" d="M464 9h3"/><path stroke="#00a569" d="M467 9h1"/><path stroke="#00a872" d="M468 9h1"/><path stroke="#00a87e" d="M469 9h1"/><path stroke="#00ab84" d="M470 9h2"/><path stroke="#00a87e" d="M472 9h2"/><path stroke="#00a875" d="M474 9h1"/><path stroke="#00a872" d="M475 9h1"/><path stroke="#00a875" d="M476 9h1"/><path stroke="#00a87e" d="M477 9h1"/><path stroke="#00ab87" d="M478 9h1"/><path stroke="#00ab8a" d="M479 9h1"/><path stroke="#00ab8d" d="M480 9h1"/><path stroke="#00ab90" d="M481 9h2"/><path stroke="#00ab93" d="M483 9h1"/><path stroke="#00ab96" d="M484 9h1"/><path stroke="#00ab99" d="M485 9h1"/><path stroke="#00ab9c" d="M486 9h1"/><path stroke="#00ab9f" d="M487 9h1"/><path stroke="#00aba2" d="M488 9h1"/><path stroke="#00a8ae" d="M489 9h1"/><path stroke="#00a2c0" d="M490 9h1"/><path stroke="#009cd2" d="M491 9h1"/><path stroke="#0099db" d="M492 9h1"/><path stroke="#0093de" d="M493 9h1"/><path stroke="#008ade" d="M494 9h1"/><path stroke="#0081de" d="M495 9h1"/><path stroke="#0078de" d="M496 9h1"/><path stroke="#005dde" d="M497 9h1"/><path stroke="#003fde" d="M498 9h1"/><path stroke="#0024de" d="M499 9h1"/><path stroke="#000fde" d="M500 9h1"/><path stroke="#0006de" d="M501 9h1"/><path stroke="#0000de" d="M502 9h2"/><path stroke="#0000d8" d="M504 9h9"/><path stroke="#0000d5" d="M513 9h2"/><path stroke="#0000cf" d="M515 9h1"/><path stroke="#0000c9" d="M516 9h1"/><path stroke="#0000c3" d="M517 9h1"/><path stroke="#0000bd" d="M518 9h1"/><path stroke="#0000b4" d="M519 9h1"/><path stroke="#0600ab" d="M520 9h1"/><path stroke="#1200a8" d="M521 9h1"/><path stroke="#2400a5" d="M522 9h1"/><path stroke="#2d00a5" d="M523 9h1"/><path stroke="#3300a5" d="M524 9h1"/><path stroke="#3900a2" d="M525 9h1"/><path stroke="#1b4eba" d="M526 9h1"/><path stroke="#009cd2" d="M527 9h1"/><path stroke="#004ed8" d="M528 9h1"/><path stroke="#0000de" d="M529 9h2"/><path stroke="#0081de" d="M531 9h5"/><path stroke="#008dde" d="M536 9h1"/><path stroke="#0099de" d="M537 9h2"/><path stroke="#0030de" d="M539 9h2"/><path stroke="#00ab9c" d="M541 9h3"/><path stroke="#008ade" d="M544 9h3"/><path stroke="#0024de" d="M547 9h1"/><path stroke="#0000d2" d="M548 9h1"/><path stroke="#0000b1" d="M549 9h1"/><path stroke="#0033c6" d="M550 9h1"/><path stroke="#0066de" d="M551 9h3"/><path stroke="#0000b7" d="M554 9h1"/><path stroke="#1200a8" d="M555 9h1"/><path stroke="#54009f" d="M556 9h1"/><path stroke="#78009c" d="M557 9h1"/><path stroke="#870099" d="M558 9h4"/><path stroke="#60009f" d="M562 9h2"/><path stroke="#870099" d="M564 9h2"/><path stroke="#66009c" d="M566 9h1"/><path stroke="#750099" d="M567 9h1"/><path stroke="#870096" d="M568 9h4"/><path stroke="#60009c" d="M572 9h1"/><path stroke="#720099" d="M573 9h1"/><path stroke="#840096" d="M574 9h1"/><path stroke="#840093" d="M575 9h1"/><path stroke="#810093" d="M576 9h1"/><path stroke="#7e008d" d="M577 9h1"/><path stroke="#7b008a" d="M578 9h1"/><path stroke="#720081" d="M579 9h1"/><path stroke="#5a0069" d="M580 9h1"/><path stroke="#450051" d="M581 9h1"/><path stroke="#39003f" d="M582 9h1"/><path stroke="#2a0030" d="M583 9h1"/><path stroke="#1e0024" d="M584 9h1"/><path stroke="#120015" d="M585 9h1"/><path stroke="#0c000c" d="M586 9h1"/><path stroke="#060006" d="M587 9h1"/><path stroke="#000000" d="M588 9h7"/></g>
<g transform="translate(0,262.182)"><path stroke="#ffc600" d="M328 9h1"/><path stroke="#810093" d="M329 9h1"/><path stroke="#300036" d="M330 9h3"/><path stroke="#24002a" d="M333 9h35"/><path stroke="#2d0033" d="M368 9h1"/><path stroke="#390042" d="M369 9h1"/><path stroke="#4b0054" d="M370 9h1"/><path stroke="#6c007b" d="M371 9h1"/><path stroke="#7b008d" d="M372 9h1"/><path stroke="#7e0090" d="M373 9h1"/><path stroke="#810093" d="M374 9h1"/><path stroke="#840096" d="M375 9h1"/><path stroke="#45009f" d="M376 9h1"/><path stroke="#2400a5" d="M377 9h1"/><path stroke="#870099" d="M378 9h1"/><path stroke="#4500a2" d="M379 9h1"/><path stroke="#0300ab" d="M380 9h1"/><path stroke="#870099" d="M381 9h3"/><path stroke="#0000b1" d="M384 9h1"/><path stroke="#66009f" d="M385 9h1"/><path stroke="#870099" d="M386 9h2"/><path stroke="#0c00c0" d="M388 9h1"/><path stroke="#0072bd" d="M389 9h1"/><path stroke="#00ab90" d="M390 9h1"/><path stroke="#00ab96" d="M391 9h1"/><path stroke="#0099c0" d="M392 9h1"/><path stroke="#0087de" d="M393 9h2"/><path stroke="#0018de" d="M395 9h1"/><path stroke="#0000de" d="M396 9h2"/><path stroke="#0000db" d="M398 9h1"/><path stroke="#0000d8" d="M399 9h7"/><path stroke="#4200a2" d="M406 9h1"/><path stroke="#840099" d="M407 9h1"/><path stroke="#4200a2" d="M408 9h1"/><path stroke="#0000d8" d="M409 9h6"/><path stroke="#0000d5" d="M415 9h1"/><path stroke="#004bde" d="M416 9h1"/><path stroke="#008adb" d="M417 9h1"/><path stroke="#00aba8" d="M418 9h3"/><path stroke="#0096c6" d="M421 9h1"/><path stroke="#0084de" d="M422 9h1"/><path stroke="#0042c3" d="M423 9h1"/><path stroke="#0300ab" d="M424 9h2"/><path stroke="#003fcc" d="M426 9h1"/><path stroke="#007ede" d="M427 9h2"/><path stroke="#0042de" d="M429 9h2"/><path stroke="#0048de" d="M431 9h1"/><path stroke="#004ede" d="M432 9h1"/><path stroke="#0075de" d="M433 9h1"/><path stroke="#0087de" d="M434 9h1"/><path stroke="#008ade" d="M435 9h2"/><path stroke="#008dde" d="M437 9h1"/><path stroke="#009378" d="M438 9h1"/><path stroke="#009c12" d="M439 9h2"/><path stroke="#009978" d="M441 9h1"/><path stroke="#0099db" d="M442 9h1"/><path stroke="#0099d8" d="M443 9h1"/><path stroke="#009cd5" d="M444 9h1"/><path stroke="#009cd2" d="M445 9h1"/><path stroke="#009ccf" d="M446 9h1"/><path stroke="#009fcf" d="M447 9h1"/><path stroke="#009fcc" d="M448 9h1"/><path stroke="#00a2bd" d="M449 9h1"/><path stroke="#00a5ba" d="M450 9h1"/><path stroke="#00a5b7" d="M451 9h1"/><path stroke="#00a5b4" d="M452 9h1"/><path stroke="#00aba8" d="M453 9h2"/><path stroke="#00aba5" d="M455 9h1"/><path stroke="#00aba2" d="M456 9h2"/><path stroke="#00ab9f" d="M458 9h2"/><path stroke="#00ab9c" d="M460 9h1"/><path stroke="#00ab99" d="M461 9h1"/><path stroke="#00ab96" d="M462 9h1"/><path stroke="#00ab93" d="M463 9h1"/><path stroke="#00ab90" d="M464 9h3"/><path stroke="#00ab93" d="M467 9h1"/><path stroke="#00ab96" d="M468 9h1"/><path stroke="#00ab99" d="M469 9h1"/><path stroke="#00ab9c" d="M470 9h2"/><path stroke="#00ab99" d="M472 9h1"/><path stroke="#00ab96" d="M473 9h6"/><path stroke="#00ab99" d="M479 9h1"/><path stroke="#00ab9c" d="M480 9h3"/><path stroke="#00ab9f" d="M483 9h1"/><path stroke="#00aba2" d="M484 9h2"/><path stroke="#00aba5" d="M486 9h1"/><path stroke="#00aba8" d="M487 9h1"/><path stroke="#00abab" d="M488 9h1"/><path stroke="#00a5ba" d="M489 9h1"/><path stroke="#009fc9" d="M490 9h1"/><path stroke="#009cd8" d="M491 9h1"/><path stroke="#0096de" d="M492 9h1"/><path stroke="#0090de" d="M493 9h1"/><path stroke="#0087de" d="M494 9h1"/><path stroke="#0081de" d="M495 9h1"/><path stroke="#0075de" d="M496 9h1"/><path stroke="#005dde" d="M497 9h1"/><path stroke="#003fde" d="M498 9h1"/><path stroke="#0024de" d="M499 9h1"/><path stroke="#000fde" d="M500 9h1"/><path stroke="#0006de" d="M501 9h1"/><path stroke="#0000de" d="M502 9h2"/><path stroke="#0000d8" d="M504 9h9"/><path stroke="#0000d5" d="M513 9h2"/><path stroke="#0000cf" d="M515 9h1"/><path stroke="#0000c9" d="M516 9h1"/><path stroke="#0000c3" d="M517 9h1"/><path stroke="#0000bd" d="M518 9h1"/><path stroke="#0000b4" d="M519 9h1"/><path stroke="#0600ab" d="M520 9h1"/><path stroke="#1200a8" d="M521 9h1"/><path stroke="#2400a5" d="M522 9h1"/><path stroke="#2d00a5" d="M523 9h1"/><path stroke="#3300a5" d="M524 9h1"/><path stroke="#3900a2" d="M525 9h1"/><path stroke="#1b4eba" d="M526 9h1"/><path stroke="#009cd2" d="M527 9h1"/><path stroke="#004ed8" d="M528 9h1"/><path stroke="#0000de" d="M529 9h2"/><path stroke="#0081de" d="M531 9h5"/><path stroke="#008dde" d="M536 9h1"/><path stroke="#0099de" d="M537 9h2"/><path stroke="#0030de" d="M539 9h2"/><path stroke="#00ab9c" d="M541 9h3"/><path stroke="#008ade" d="M544 9h3"/><path stroke="#0024de" d="M547 9h1"/><path stroke="#0000d2" d="M548 9h1"/><path stroke="#0000b1" d="M549 9h1"/><path stroke="#0033c6" d="M550 9h1"/><path stroke="#0066de" d="M551 9h3"/><path stroke="#0000b7" d="M554 9h1"/><path stroke="#1200a8" d="M555 9h1"/><path stroke="#54009f" d="M556 9h1"/><path stroke="#78009c" d="M557 9h1"/><path stroke="#870099" d="M558 9h4"/><path stroke="#60009f" d="M562 9h2"/><path stroke="#870099" d="M564 9h2"/><path stroke="#66009c" d="M566 9h1"/><path stroke="#750099" d="M567 9h1"/><path stroke="#870096" d="M568 9h4"/><path stroke="#60009c" d="M572 9h1"/><path stroke="#720099" d="M573 9h1"/><path stroke="#840096" d="M574 9h1"/><path stroke="#840093" d="M575 9h1"/><path stroke="#810093" d="M576 9h1"/><path stroke="#7e008d" d="M577 9h1"/><path stroke="#7b008a" d="M578 9h1"/><path stroke="#720081" d="M579 9h1"/><path stroke="#5a0069" d="M580 9h1"/><path stroke="#450051" d="M581 9h1"/><path stroke="#39003f" d="M582 9h1"/><path stroke="#2a0030" d="M583 9h1"/><path stroke="#1e0024" d="M584 9h1"/><path stroke="#120015" d="M585 9h1"/><path stroke="#0c000c" d="M586 9h1"/><path stroke="#060006" d="M587 9h1"/><path stroke="#000000" d="M588 9h7"/></g>
<g transform="translate(0,278.909)"><path stroke="#ffc600" d="M328 9h1"/><path stroke="#810093" d="M329 9h1"/><path stroke="#300036" d="M330 9h3"/><path stroke="#24002a" d="M333 9h35"/><path stroke="#2d0033" d="M368 9h1"/><path stroke="#390042" d="M369 9h1"/><path stroke="#4b0054" d="M370 9h1"/><path stroke="#6c007b" d="M371 9h1"/><path stroke="#7b008d" d="M372 9h1"/><path stroke="#7e0090" d="M373 9h1"/><path stroke="#810093" d="M374 9h1"/><path stroke="#840096" d="M375 9h1"/><path stroke="#45009f" d="M376 9h1"/><path stroke="#2400a5" d="M377 9h1"/><path stroke="#870099" d="M378 9h1"/><path stroke="#4500a2" d="M379 9h1"/><path stroke="#0300ab" d="M380 9h1"/><path stroke="#870099" d="M381 9h3"/><path stroke="#0000b1" d="M384 9h1"/><path stroke="#66009f" d="M385 9h1"/><path stroke="#870099" d="M386 9h2"/><path stroke="#0c00c0" d="M388 9h1"/><path stroke="#0072bd" d="M389 9h1"/><path stroke="#00ab90" d="M390 9h1"/><path stroke="#00ab96" d="M391 9h1"/><path stroke="#0099c0" d="M392 9h1"/><path stroke="#0087de" d="M393 9h2"/><path stroke="#0018de" d="M395 9h1"/><path stroke="#0000de" d="M396 9h2"/><path stroke="#0000db" d="M398 9h1"/><path stroke="#0000d8" d="M399 9h7"/><path stroke="#4200a2" d="M406 9h1"/><path stroke="#840099" d="M407 9h1"/><path stroke="#4200a2" d="M408 9h1"/><path stroke="#0000d8" d="M409 9h6"/><path stroke="#0000d5" d="M415 9h1"/><path stroke="#004bde" d="M416 9h1"/><path stroke="#008adb" d="M417 9h1"/><path stroke="#00aba8" d="M418 9h3"/><path stroke="#0096c6" d="M421 9h1"/><path stroke="#0084de" d="M422 9h1"/><path stroke="#0042c3" d="M423 9h1"/><path stroke="#0300ab" d="M424 9h2"/><path stroke="#003fcc" d="M426 9h1"/><path stroke="#007ede" d="M427 9h2"/><path stroke="#0042de" d="M429 9h2"/><path stroke="#0048de" d="M431 9h1"/><path stroke="#004ede" d="M432 9h1"/><path stroke="#0075de" d="M433 9h1"/><path stroke="#0087de" d="M434 9h1"/><path stroke="#008ade" d="M435 9h2"/><path stroke="#008dde" d="M437 9h1"/><path stroke="#009378" d="M438 9h1"/><path stroke="#009c12" d="M439 9h2"/><path stroke="#009678" d="M441 9h1"/><path stroke="#0093de" d="M442 9h2"/><path stroke="#0096de" d="M444 9h2"/><path stroke="#0099de" d="M446 9h1"/><path stroke="#0099db" d="M447 9h1"/><path stroke="#009cd8" d="M448 9h1"/><path stroke="#009fc6" d="M449 9h1"/><path stroke="#00a2c3" d="M450 9h1"/><path stroke="#00a2c0" d="M451 9h1"/><path stroke="#00a2bd" d="M452 9h1"/><path stroke="#00abab" d="M453 9h2"/><path stroke="#00aba8" d="M455 9h1"/><path stroke="#00aba5" d="M456 9h1"/><path stroke="#00aba2" d="M457 9h3"/><path stroke="#00ab9f" d="M460 9h1"/><path stroke="#00ab9c" d="M461 9h1"/><path stroke="#00ab99" d="M462 9h1"/><path stroke="#00ab96" d="M463 9h1"/><path stroke="#00ab93" d="M464 9h3"/><path stroke="#00ab96" d="M467 9h1"/><path stroke="#00ab99" d="M468 9h1"/><path stroke="#00ab9c" d="M469 9h5"/><path stroke="#00ab99" d="M474 9h1"/><path stroke="#00ab96" d="M475 9h2"/><path stroke="#00ab99" d="M477 9h1"/><path stroke="#00ab9c" d="M478 9h3"/><path stroke="#00ab9f" d="M481 9h2"/><path stroke="#00aba2" d="M483 9h1"/><path stroke="#00aba5" d="M484 9h2"/><path stroke="#00aba8" d="M486 9h2"/><path stroke="#00a8ae" d="M488 9h1"/><path stroke="#00a5bd" d="M489 9h1"/><path stroke="#009fcc" d="M490 9h1"/><path stroke="#0099db" d="M491 9h1"/><path stroke="#0093de" d="M492 9h1"/><path stroke="#008dde" d="M493 9h1"/><path stroke="#0087de" d="M494 9h1"/><path stroke="#007ede" d="M495 9h1"/><path stroke="#0072de" d="M496 9h1"/><path stroke="#005dde" d="M497 9h1"/><path stroke="#003fde" d="M498 9h1"/><path stroke="#0024de" d="M499 9h1"/><path stroke="#000fde" d="M500 9h1"/><path stroke="#0006de" d="M501 9h1"/><path stroke="#0000de" d="M502 9h2"/><path stroke="#0000d8" d="M504 9h9"/><path stroke="#0000d5" d="M513 9h2"/><path stroke="#0000cf" d="M515 9h1"/><path stroke="#0000c9" d="M516 9h1"/><path stroke="#0000c3" d="M517 9h1"/><path stroke="#0000bd" d="M518 9h1"/><path stroke="#0000b4" d="M519 9h1"/><path stroke="#0600ab" d="M520 9h1"/><path stroke="#1200a8" d="M521 9h1"/><path stroke="#2400a5" d="M522 9h1"/><path stroke="#2d00a5" d="M523 9h1"/><path stroke="#3300a5" d="M524 9h1"/><path stroke="#3900a2" d="M525 9h1"/><path stroke="#1b4eba" d="M526 9h1"/><path stroke="#009cd2" d="M527 9h1"/><path stroke="#004ed8" d="M528 9h1"/><path stroke="#0000de" d="M529 9h2"/><path stroke="#0081de" d="M531 9h5"/><path stroke="#008dde" d="M536 9h1"/><path stroke="#0099de" d="M537 9h2"/><path stroke="#0030de" d="M539 9h2"/><path stroke="#00ab9c" d="M541 9h3"/><path stroke="#008ade" d="M544 9h3"/><path stroke="#0024de" d="M547 9h1"/><path stroke="#0000d2" d="M548 9h1"/><path stroke="#0000b1" d="M549 9h1"/><path stroke="#0033c6" d="M550 9h1"/><path stroke="#0066de" d="M551 9h3"/><path stroke="#0000b7" d="M554 9h1"/><path stroke="#1200a8" d="M555 9h1"/><path stroke="#54009f" d="M556 9h1"/><path stroke="#78009c" d="M557 9h1"/><path stroke="#870099" d="M558 9h4"/><path stroke="#60009f" d="M562 9h2"/><path stroke="#870099" d="M564 9h2"/><path stroke="#66009c" d="M566 9h1"/><path stroke="#750099" d="M567 9h1"/><path stroke="#870096" d="M568 9h4"/><path stroke="#60009c" d="M572 9h1"/><path stroke="#720099" d="M573 9h1"/><path stroke="#840096" d="M574 9h1"/><path stroke="#840093" d="M575 9h1"/><path stroke="#810093" d="M576 9h1"/><path stroke="#7e008d" d="M577 9h1"/><path stroke="#7b008a" d="M578 9h1"/><path stroke="#720081" d="M579 9h1"/><path stroke="#5a0069" d="M580 9h1"/><path stroke="#450051" d="M581 9h1"/><path stroke="#39003f" d="M582 9h1"/><path stroke="#2a0030" d="M583 9h1"/><path stroke="#1e0024" d="M584 9h1"/><path stroke="#120015" d="M585 9h1"/><path stroke="#0c000c" d="M586 9h1"/><path stroke="#060006" d="M587 9h1"/><path stroke="#000000" d="M588 9h7"/></g>
<g transform="translate(0,295.636)"><path stroke="#ffc600" d="M328 9h1"/><path stroke="#810093" d="M329 9h1"/><path stroke="#300036" d="M330 9h3"/><path stroke="#24002a" d="M333 9h35"/><path stroke="#2d0033" d="M368 9h1"/><path stroke="#390042" d="M369 9h1"/><path stroke="#4b0054" d="M370 9h1"/><path stroke="#6c007b" d="M371 9h1"/><path stroke="#7b008d" d="M372 9h1"/><path stroke="#7e0090" d="M373 9h1"/><path stroke="#810093" d="M374 9h1"/><path stroke="#840096" d="M375 9h1"/><path stroke="#45009f" d="M376 9h1"/><path stroke="#2400a5" d="M377 9h1"/><path stroke="#870099" d="M378 9h1"/><path stroke="#4500a2" d="M379 9h1"/><path stroke="#0300ab" d="M380 9h1"/><path stroke="#870099" d="M381 9h3"/><path stroke="#0000b1" d="M384 9h1"/><path stroke="#66009f" d="M385 9h1"/><path stroke="#870099" d="M386 9h2"/><path stroke="#0c00c0" d="M388 9h1"/><path stroke="#0072bd" d="M389 9h1"/><path stroke="#00ab90" d="M390 9h1"/><path stroke="#00ab96" d="M391 9h1"/><path stroke="#0099c0" d="M392 9h1"/><path stroke="#0087de" d="M393 9h2"/><path stroke="#0018de" d="M395 9h1"/><path stroke="#0000de" d="M396 9h2"/><path stroke="#0000db" d="M398 9h1"/><path stroke="#0000d8" d="M399 9h7"/><path stroke="#4200a2" d="M406 9h1"/><path stroke="#840099" d="M407 9h1"/><path stroke="#4200a2" d="M408 9h1"/><path stroke="#0000d8" d="M409 9h6"/><path stroke="#0000d5" d="M415 9h1"/><path stroke="#004bde" d="M416 9h1"/><path stroke="#008adb" d="M417 9h1"/><path stroke="#00aba8" d="M418 9h3"/><path stroke="#0096c6" d="M421 9h1"/><path stroke="#0084de" d="M422 9h1"/><path stroke="#0042c3" d="M423 9h1"/><path stroke="#0300ab" d="M424 9h2"/><path stroke="#003fcc" d="M426 9h1"/><path stroke="#007ede" d="M427 9h2"/><path stroke="#0042de" d="M429 9h2"/><path stroke="#0048de" d="M431 9h1"/><path stroke="#004ede" d="M432 9h1"/><path stroke="#0075de" d="M433 9h1"/><path stroke="#0087de" d="M434 9h1"/><path stroke="#008ade" d="M435 9h2"/><path stroke="#008dde" d="M437 9h1"/><path stroke="#009378" d="M438 9h1"/><path stroke="#009c12" d="M439 9h2"/><path stroke="#009378" d="M441 9h1"/><path stroke="#008ade" d="M442 9h1"/><path stroke="#008dde" d="M443 9h2"/><path stroke="#0090de" d="M445 9h1"/><path stroke="#0093de" d="M446 9h2"/><path stroke="#0096de" d="M448 9h1"/><path stroke="#009fcf" d="M449 9h1"/><path stroke="#009fcc" d="M450 9h1"/><path stroke="#009fc9" d="M451 9h1"/><path stroke="#00a2c6" d="M452 9h1"/><path stroke="#00a8b1" d="M453 9h1"/><path stroke="#00a8ae" d="M454 9h1"/><path stroke="#00abab" d="M455 9h2"/><path stroke="#00aba8" d="M457 9h1"/><path stroke="#00aba5" d="M458 9h2"/><path stroke="#00aba2" d="M460 9h2"/><path stroke="#00ab9c" d="M462 9h1"/><path stroke="#00ab99" d="M463 9h4"/><path stroke="#00ab9c" d="M467 9h2"/><path stroke="#00ab9f" d="M469 9h5"/><path stroke="#00ab9c" d="M474 9h4"/><path stroke="#00ab9f" d="M478 9h2"/><path stroke="#00aba2" d="M480 9h2"/><path stroke="#00aba5" d="M482 9h2"/><path stroke="#00aba8" d="M484 9h1"/><path stroke="#00abab" d="M485 9h2"/><path stroke="#00a8ae" d="M487 9h1"/><path stroke="#00a8b1" d="M488 9h1"/><path stroke="#00a2c0" d="M489 9h1"/><path stroke="#009cd2" d="M490 9h1"/><path stroke="#0099db" d="M491 9h1"/><path stroke="#0093de" d="M492 9h1"/><path stroke="#008dde" d="M493 9h1"/><path stroke="#0084de" d="M494 9h1"/><path stroke="#007ede" d="M495 9h1"/><path stroke="#006fde" d="M496 9h1"/><path stroke="#005dde" d="M497 9h1"/><path stroke="#003fde" d="M498 9h1"/><path stroke="#0024de" d="M499 9h1"/><path stroke="#000fde" d="M500 9h1"/><path stroke="#0006de" d="M501 9h1"/><path stroke="#0000de" d="M502 9h2"/><path stroke="#0000d8" d="M504 9h9"/><path stroke="#0000d5" d="M513 9h2"/><path stroke="#0000cf" d="M515 9h1"/><path stroke="#0000c9" d="M516 9h1"/><path stroke="#0000c3" d="M517 9h1"/><path stroke="#0000bd" d="M518 9h1"/><path stroke="#0000b4" d="M519 9h1"/><path stroke="#0600ab" d="M520 9h1"/><path stroke="#1200a8" d="M521 9h1"/><path stroke="#2400a5" d="M522 9h1"/><path stroke="#2d00a5" d="M523 9h1"/><path stroke="#3300a5" d="M524 9h1"/><path stroke="#3900a2" d="M525 9h1"/><path stroke="#1b4eba" d="M526 9h1"/><path stroke="#009cd2" d="M527 9h1"/><path stroke="#004ed8" d="M528 9h1"/><path stroke="#0000de" d="M529 9h2"/><path stroke="#0081de" d="M531 9h5"/><path stroke="#008dde" d="M536 9h1"/><path stroke="#0099de" d="M537 9h2"/><path stroke="#0030de" d="M539 9h2"/><path stroke="#00ab9c" d="M541 9h3"/><path stroke="#008ade" d="M544 9h3"/><path stroke="#0024de" d="M547 9h1"/><path stroke="#0000d2" d="M548 9h1"/><path stroke="#0000b1" d="M549 9h1"/><path stroke="#0033c6" d="M550 9h1"/><path stroke="#0066de" d="M551 9h3"/><path stroke="#0000b7" d="M554 9h1"/><path stroke="#1200a8" d="M555 9h1"/><path stroke="#54009f" d="M556 9h1"/><path stroke="#78009c" d="M557 9h1"/><path stroke="#870099" d="M558 9h4"/><path stroke="#60009f" d="M562 9h2"/><path stroke="#870099" d="M564 9h2"/><path stroke="#66009c" d="M566 9h1"/><path stroke="#750099" d="M567 9h1"/><path stroke="#870096" d="M568 9h4"/><path stroke="#60009c" d="M572 9h1"/><path stroke="#720099" d="M573 9h1"/><path stroke="#840096" d="M574 9h1"/><path stroke="#840093" d="M575 9h1"/><path stroke="#810093" d="M576 9h1"/><path stroke="#7e008d" d="M577 9h1"/><path stroke="#7b008a" d="M578 9h1"/><path stroke="#720081" d="M579 9h1"/><path stroke="#5a0069" d="M580 9h1"/><path stroke="#450051" d="M581 9h1"/><path stroke="#39003f" d="M582 9h1"/><path stroke="#2a0030" d="M583 9h1"/><path stroke="#1e0024" d="M584 9h1"/><path stroke="#120015" d="M585 9h1"/><path stroke="#0c000c" d="M586 9h1"/><path stroke="#060006" d="M587 9h1"/><path stroke="#000000" d="M588 9h7"/></g>
<g transform="translate(0,312.364)"><path stroke="#ffc600" d="M328 9h1"/><path stroke="#810093" d="M329 9h1"/><path stroke="#300036" d="M330 9h3"/><path stroke="#24002a" d="M333 9h35"/><path stroke="#2d0033" d="M368 9h1"/><path stroke="#390042" d="M369 9h1"/><path stroke="#4b0054" d="M370 9h1"/><path stroke="#6c007b" d="M371 9h1"/><path stroke="#7b008d" d="M372 9h1"/><path stroke="#7e0090" d="M373 9h1"/><path stroke="#810093" d="M374 9h1"/><path stroke="#840096" d="M375 9h1"/><path stroke="#45009f" d="M376 9h1"/><path stroke="#2400a5" d="M377 9h1"/><path stroke="#870099" d="M378 9h1"/><path stroke="#4500a2" d="M379 9h1"/><path stroke="#0300ab" d="M380 9h1"/><path stroke="#870099" d="M381 9h3"/><path stroke="#0000b1" d="M384 9h1"/><path stroke="#66009f" d="M385 9h1"/><path stroke="#870099" d="M386 9h2"/><path stroke="#0c00c0" d="M388 9h1"/><path stroke="#0072bd" d="M389 9h1"/><path stroke="#00ab90" d="M390 9h1"/><path stroke="#00ab96" d="M391 9h1"/><path stroke="#0099c0" d="M392 9h1"/><path stroke="#0087de" d="M393 9h2"/><path stroke="#0018de" d="M395 9h1"/><path stroke="#0000de" d="M396 9h2"/><path stroke="#0000db" d="M398 9h1"/><path stroke="#0000d8" d="M399 9h7"/><path stroke="#4200a2" d="M406 9h1"/><path stroke="#840099" d="M407 9h1"/><path stroke="#4200a2" d="M408 9h1"/><path stroke="#0000d8" d="M409 9h6"/><path stroke="#0000d5" d="M415 9h1"/><path stroke="#004bde" d="M416 9h1"/><path stroke="#008adb" d="M417 9h1"/><path stroke="#00aba8" d="M418 9h3"/><path stroke="#0096c6" d="M421 9h1"/><path stroke="#0084de" d="M422 9h1"/><path stroke="#0042c3" d="M423 9h1"/><path stroke="#0300ab" d="M424 9h2"/><path stroke="#003fcc" d="M426 9h1"/><path stroke="#007ede" d="M427 9h2"/><path stroke="#0042de" d="M429 9h2"/><path stroke="#0048de" d="M431 9h1"/><path stroke="#004ede" d="M432 9h1"/><path stroke="#0075de" d="M433 9h1"/><path stroke="#0087de" d="M434 9h1"/><path stroke="#008ade" d="M435 9h2"/><path stroke="#008dde" d="M437 9h1"/><path stroke="#009378" d="M438 9h1"/><path stroke="#009c12" d="M439 9h2"/><path stroke="#009678" d="M441 9h1"/><path stroke="#0090de" d="M442 9h1"/><path stroke="#0093de" d="M443 9h2"/><path stroke="#0096de" d="M445 9h1"/><path stroke="#0099de" d="M446 9h1"/><path stroke="#0099db" d="M447 9h2"/><path stroke="#009fc6" d="M449 9h1"/><path stroke="#00a2c6" d="M450 9h1"/><path stroke="#00a2c3" d="M451 9h1"/><path stroke="#00a2c0" d="M452 9h1"/><path stroke="#00a8ae" d="M453 9h1"/><path stroke="#00abab" d="M454 9h1"/><path stroke="#00aba8" d="M455 9h2"/><path stroke="#00aba5" d="M457 9h1"/><path stroke="#00aba2" d="M458 9h3"/><path stroke="#00ab9f" d="M461 9h1"/><path stroke="#00ab99" d="M462 9h1"/><path stroke="#00ab96" d="M463 9h2"/><path stroke="#00ab93" d="M465 9h1"/><path stroke="#00ab96" d="M466 9h2"/><path stroke="#00ab9c" d="M468 9h7"/><path stroke="#00ab99" d="M475 9h2"/><path stroke="#00ab9c" d="M477 9h3"/><path stroke="#00ab9f" d="M480 9h2"/><path stroke="#00aba2" d="M482 9h2"/><path stroke="#00aba5" d="M484 9h1"/><path stroke="#00aba8" d="M485 9h2"/><path stroke="#00abab" d="M487 9h1"/><path stroke="#00a8ae" d="M488 9h1"/><path stroke="#00a5bd" d="M489 9h1"/><path stroke="#009fcc" d="M490 9h1"/><path stroke="#0099db" d="M491 9h1"/><path stroke="#0093de" d="M492 9h1"/><path stroke="#008dde" d="M493 9h1"/><path stroke="#0087de" d="M494 9h1"/><path stroke="#007ede" d="M495 9h1"/><path stroke="#0072de" d="M496 9h1"/><path stroke="#005dde" d="M497 9h1"/><path stroke="#003fde" d="M498 9h1"/><path stroke="#0024de" d="M499 9h1"/><path stroke="#000fde" d="M500 9h1"/><path stroke="#0006de" d="M501 9h1"/><path stroke="#0000de" d="M502 9h2"/><path stroke="#0000d8" d="M504 9h9"/><path stroke="#0000d5" d="M513 9h2"/><path stroke="#0000cf" d="M515 9h1"/><path stroke="#0000c9" d="M516 9h1"/><path stroke="#0000c3" d="M517 9h1"/><path stroke="#0000bd" d="M518 9h1"/><path stroke="#0000b4" d="M519 9h1"/><path stroke="#0600ab" d="M520 9h1"/><path stroke="#1200a8" d="M521 9h1"/><path stroke="#2400a5" d="M522 9h1"/><path stroke="#2d00a5" d="M523 9h1"/><path stroke="#3300a5" d="M524 9h1"/><path stroke="#3900a2" d="M525 9h1"/><path stroke="#1b4eba" d="M526 9h1"/><path stroke="#009cd2" d="M527 9h1"/><path stroke="#004ed8" d="M528 9h1"/><path stroke="#0000de" d="M529 9h2"/><path stroke="#0081de" d="M531 9h5"/><path stroke="#008dde" d="M536 9h1"/><path stroke="#0099de" d="M537 9h2"/><path stroke="#0030de" d="M539 9h2"/><path stroke="#00ab9c" d="M541 9h3"/><path stroke="#008ade" d="M544 9h3"/><path stroke="#0024de" d="M547 9h1"/><path stroke="#0000d2" d="M548 9h1"/><path stroke="#0000b1" d="M549 9h1"/><path stroke="#0033c6" d="M550 9h1"/><path stroke="#0066de" d="M551 9h3"/><path stroke="#0000b7" d="M554 9h1"/><path stroke="#1200a8" d="M555 9h1"/><path stroke="#54009f" d="M556 9h1"/><path stroke="#78009c" d="M557 9h1"/><path stroke="#870099" d="M558 9h4"/><path stroke="#60009f" d="M562 9h2"/><path stroke="#870099" d="M564 9h2"/><path stroke="#66009c" d="M566 9h1"/><path stroke="#750099" d="M567 9h1"/><path stroke="#870096" d="M568 9h4"/><path stroke="#60009c" d="M572 9h1"/><path stroke="#720099" d="M573 9h1"/><path stroke="#840096" d="M574 9h1"/><path stroke="#840093" d="M575 9h1"/><path stroke="#810093" d="M576 9h1"/><path stroke="#7e008d" d="M577 9h1"/><path stroke="#7b008a" d="M578 9h1"/><path stroke="#720081" d="M579 9h1"/><path stroke="#5a0069" d="M580 9h1"/><path stroke="#450051" d="M581 9h1"/><path stroke="#39003f" d="M582 9h1"/><path stroke="#2a0030" d="M583 9h1"/><path stroke="#1e0024" d="M584 9h1"/><path stroke="#120015" d="M585 9h1"/><path stroke="#0c000c" d="M586 9h1"/><path stroke="#060006" d="M587 9h1"/><path stroke="#000000" d="M588 9h7"/></g>
<g transform="translate(0,329.091)"><path stroke="#ffc600" d="M328 9h1"/><path stroke="#810093" d="M329 9h1"/><path stroke="#300036" d="M330 9h3"/><path stroke="#24002a" d="M333 9h35"/><path stroke="#2d0033" d="M368 9h1"/><path stroke="#390042" d="M369 9h1"/><path stroke="#4b0054" d="M370 9h1"/><path stroke="#6c007b" d="M371 9h1"/><path stroke="#7b008d" d="M372 9h1"/><path stroke="#7e0090" d="M373 9h1"/><path stroke="#810093" d="M374 9h1"/><path stroke="#840096" d="M375 9h1"/><path stroke="#45009f" d="M376 9h1"/><path stroke="#2400a5" d="M377 9h1"/><path stroke="#870099" d="M378 9h1"/><path stroke="#4500a2" d="M379 9h1"/><path stroke="#0300ab" d="M380 9h1"/><path stroke="#870099" d="M381 9h3"/><path stroke="#0000b1" d="M384 9h1"/><path stroke="#66009f" d="M385 9h1"/><path stroke="#870099" d="M386 9h2"/><path stroke="#0c00c0" d="M388 9h1"/><path stroke="#0072bd" d="M389 9h1"/><path stroke="#00ab90" d="M390 9h1"/><path stroke="#00ab96" d="M391 9h1"/><path stroke="#0099c0" d="M392 9h1"/><path stroke="#0087de" d="M393 9h2"/><path stroke="#0018de" d="M395 9h1"/><path stroke="#0000de" d="M396 9h2"/><path stroke="#0000db" d="M398 9h1"/><path stroke="#0000d8" d="M399 9h7"/><path stroke="#4200a2" d="M406 9h1"/><path stroke="#840099" d="M407 9h1"/><path stroke="#4200a2" d="M408 9h1"/><path stroke="#0000d8" d="M409 9h6"/><path stroke="#0000d5" d="M415 9h1"/><path stroke="#004bde" d="M416 9h1"/><path stroke="#008adb" d="M417 9h1"/><path stroke="#00aba8" d="M418 9h3"/><path stroke="#0096c6" d="M421 9h1"/><path stroke="#0084de" d="M422 9h1"/><path stroke="#0042c3" d="M423 9h1"/><path stroke="#0300ab" d="M424 9h2"/><path stroke="#003fcc" d="M426 9h1"/><path stroke="#007ede" d="M427 9h2"/><path stroke="#0042de" d="M429 9h2"/><path stroke="#0048de" d="M431 9h1"/><path stroke="#004ede" d="M432 9h1"/><path stroke="#0075de" d="M433 9h1"/><path stroke="#0087de" d="M434 9h1"/><path stroke="#008ade" d="M435 9h2"/><path stroke="#008dde" d="M437 9h1"/><path stroke="#009378" d="M438 9h1"/><path stroke="#009c12" d="M439 9h2"/><path stroke="#009f6c" d="M441 9h1"/><path stroke="#00a2c0" d="M442 9h2"/><path stroke="#00a5ba" d="M444 9h1"/><path stroke="#00a5b7" d="M445 9h2"/><path stroke="#00a8b4" d="M447 9h1"/><path stroke="#00a8ae" d="M448 9h2"/><path stroke="#00abab" d="M450 9h1"/><path stroke="#00aba8" d="M451 9h1"/><path stroke="#00aba5" d="M452 9h2"/><path stroke="#00aba2" d="M454 9h1"/><path stroke="#00ab9f" d="M455 9h1"/><path stroke="#00ab9c" d="M456 9h1"/><path stroke="#00ab99" d="M457 9h1"/><path stroke="#00ab90" d="M458 9h1"/><path stroke="#00ab87" d="M459 9h1"/><path stroke="#00a563" d="M460 9h1"/><path stroke="#00a23f" d="M461 9h1"/><path stroke="#009f33" d="M462 9h1"/><path stroke="#009f36" d="M463 9h1"/><path stroke="#00a24b" d="M464 9h1"/><path stroke="#00a56c" d="M465 9h1"/><path stroke="#00ab87" d="M466 9h1"/><path stroke="#00ab8d" d="M467 9h1"/><path stroke="#00ab90" d="M468 9h1"/><path stroke="#00ab93" d="M469 9h1"/><path stroke="#00ab96" d="M470 9h2"/><path stroke="#00ab93" d="M472 9h2"/><path stroke="#00ab90" d="M474 9h4"/><path stroke="#00ab93" d="M478 9h2"/><path stroke="#00ab96" d="M480 9h2"/><path stroke="#00ab99" d="M482 9h1"/><path stroke="#00ab9c" d="M483 9h2"/><path stroke="#00ab9f" d="M485 9h2"/><path stroke="#00aba2" d="M487 9h1"/><path stroke="#00aba5" d="M488 9h1"/><path stroke="#00a8b1" d="M489 9h1"/><path stroke="#00a2c0" d="M490 9h1"/><path stroke="#009cd2" d="M491 9h1"/><path stroke="#0099db" d="M492 9h1"/><path stroke="#0093de" d="M493 9h1"/><path stroke="#008ade" d="M494 9h1"/><path stroke="#0081de" d="M495 9h1"/><path stroke="#0078de" d="M496 9h1"/><path stroke="#005dde" d="M497 9h1"/><path stroke="#003fde" d="M498 9h1"/><path stroke="#0024de" d="M499 9h1"/><path stroke="#000fde" d="M500 9h1"/><path stroke="#0006de" d="M501 9h1"/><path stroke="#0000de" d="M502 9h2"/><path stroke="#0000d8" d="M504 9h9"/><path stroke="#0000d5" d="M513 9h2"/><path stroke="#0000cf" d="M515 9h1"/><path stroke="#0000c9" d="M516 9h1"/><path stroke="#0000c3" d="M517 9h1"/><path stroke="#0000bd" d="M518 9h1"/><path stroke="#0000b4" d="M519 9h1"/><path stroke="#0600ab" d="M520 9h1"/><path stroke="#1200a8" d="M521 9h1"/><path stroke="#2400a5" d="M522 9h1"/><path stroke="#2d00a5" d="M523 9h1"/><path stroke="#3300a5" d="M524 9h1"/><path stroke="#3900a2" d="M525 9h1"/><path stroke="#1b4eba" d="M526 9h1"/><path stroke="#009cd2" d="M527 9h1"/><path stroke="#004ed8" d="M528 9h1"/><path stroke="#0000de" d="M529 9h2"/><path stroke="#0081de" d="M531 9h5"/><path stroke="#008dde" d="M536 9h1"/><path stroke="#0099de" d="M537 9h2"/><path stroke="#0030de" d="M539 9h2"/><path stroke="#00ab9c" d="M541 9h3"/><path stroke="#008ade" d="M544 9h3"/><path stroke="#0024de" d="M547 9h1"/><path stroke="#0000d2" d="M548 9h1"/><path stroke="#0000b1" d="M549 9h1"/><path stroke="#0033c6" d="M550 9h1"/><path stroke="#0066de" d="M551 9h3"/><path stroke="#0000b7" d="M554 9h1"/><path stroke="#1200a8" d="M555 9h1"/><path stroke="#54009f" d="M556 9h1"/><path stroke="#78009c" d="M557 9h1"/><path stroke="#870099" d="M558 9h4"/><path stroke="#60009f" d="M562 9h2"/><path stroke="#870099" d="M564 9h2"/><path stroke="#66009c" d="M566 9h1"/><path stroke="#750099" d="M567 9h1"/><path stroke="#870096" d="M568 9h4"/><path stroke="#60009c" d="M572 9h1"/><path stroke="#720099" d="M573 9h1"/><path stroke="#840096" d="M574 9h1"/><path stroke="#840093" d="M575 9h1"/><path stroke="#810093" d="M576 9h1"/><path stroke="#7e008d" d="M577 9h1"/><path stroke="#7b008a" d="M578 9h1"/><path stroke="#720081" d="M579 9h1"/><path stroke="#5a0069" d="M580 9h1"/><path stroke="#450051" d="M581 9h1"/><path stroke="#39003f" d="M582 9h1"/><path stroke="#2a0030" d="M583 9h1"/><path stroke="#1e0024" d="M584 9h1"/><path stroke="#120015" d="M585 9h1"/><path stroke="#0c000c" d="M586 9h1"/><path stroke="#060006" d="M587 9h1"/><path stroke="#000000" d="M588 9h7"/></g>
<g transform="translate(0,345.818)"><path stroke="#ffc600" d="M328 9h1"/><path stroke="#810093" d="M329 9h1"/><path stroke="#300036" d="M330 9h3"/><path stroke="#24002a" d="M333 9h35"/><path stroke="#300036" d="M368 9h1"/><path stroke="#3c0045" d="M369 9h1"/><path stroke="#5a0069" d="M370 9h1"/><path stroke="#7b008a" d="M371 9h1"/><path stroke="#810090" d="M372 9h1"/><path stroke="#840096" d="M373 9h1"/><path stroke="#870099" d="M374 9h2"/><path stroke="#0300ab" d="M376 9h1"/><path stroke="#870099" d="M377 9h2"/><path stroke="#2400a5" d="M379 9h1"/><path stroke="#6f009c" d="M380 9h1"/><path stroke="#870099" d="M381 9h3"/><path stroke="#4500a2" d="M384 9h1"/><path stroke="#0300ab" d="M385 9h1"/><path stroke="#870099" d="M386 9h2"/><path stroke="#4500b1" d="M388 9h1"/><path stroke="#0054ae" d="M389 9h1"/><path stroke="#00ab96" d="M390 9h2"/><path stroke="#008ade" d="M392 9h2"/><path stroke="#0045d8" d="M394 9h1"/><path stroke="#0000d2" d="M395 9h1"/><path stroke="#2100c3" d="M396 9h1"/><path stroke="#870099" d="M397 9h4"/><path stroke="#7e008d" d="M401 9h1"/><path stroke="#870099" d="M402 9h15"/><path stroke="#0000d2" d="M417 9h1"/><path stroke="#0054c3" d="M418 9h1"/><path stroke="#00a8b4" d="M419 9h2"/><path stroke="#0054c3" d="M421 9h1"/><path stroke="#2100c3" d="M422 9h1"/><path stroke="#870099" d="M423 9h3"/><path stroke="#4500b4" d="M426 9h1"/><path stroke="#0000d2" d="M427 9h1"/><path stroke="#2d00b7" d="M428 9h1"/><path stroke="#57009f" d="M429 9h3"/><path stroke="#0000bd" d="M432 9h2"/><path stroke="#3900a2" d="M434 9h2"/><path stroke="#0000d2" d="M436 9h1"/><path stroke="#002ac0" d="M437 9h1"/><path stroke="#00ab87" d="M438 9h3"/><path stroke="#0000d2" d="M441 9h4"/><path stroke="#4500b4" d="M445 9h1"/><path stroke="#870099" d="M446 9h2"/><path stroke="#0000d2" d="M448 9h2"/><path stroke="#4500b4" d="M450 9h1"/><path stroke="#870099" d="M451 9h1"/><path stroke="#0000d2" d="M452 9h3"/><path stroke="#870099" d="M455 9h3"/><path stroke="#0000d2" d="M458 9h2"/><path stroke="#4500b4" d="M460 9h1"/><path stroke="#870099" d="M461 9h4"/><path stroke="#4500b4" d="M465 9h1"/><path stroke="#0000d2" d="M466 9h2"/><path stroke="#870099" d="M468 9h11"/><path stroke="#4545ba" d="M479 9h1"/><path stroke="#008ade" d="M480 9h2"/><path stroke="#0000d2" d="M482 9h5"/><path stroke="#870099" d="M487 9h3"/><path stroke="#810093" d="M490 9h2"/><path stroke="#870099" d="M492 9h9"/><path stroke="#7e008d" d="M501 9h1"/><path stroke="#810093" d="M502 9h1"/><path stroke="#870099" d="M503 9h2"/><path stroke="#840093" d="M505 9h2"/><path stroke="#870099" d="M507 9h14"/><path stroke="#810093" d="M521 9h1"/><path stroke="#7e008d" d="M522 9h1"/><path stroke="#870099" d="M523 9h14"/><path stroke="#840093" d="M537 9h2"/><path stroke="#870099" d="M539 9h5"/><path stroke="#840093" d="M544 9h2"/><path stroke="#870099" d="M546 9h5"/><path stroke="#008ade" d="M551 9h3"/><path stroke="#6624ab" d="M554 9h1"/><path stroke="#870099" d="M555 9h6"/><path stroke="#840093" d="M561 9h2"/><path stroke="#870099" d="M563 9h8"/><path stroke="#4500a5" d="M571 9h1"/><path stroke="#66009f" d="M572 9h1"/><path stroke="#840096" d="M573 9h1"/><path stroke="#810093" d="M574 9h1"/><path stroke="#7e008d" d="M575 9h1"/><path stroke="#78008a" d="M576 9h1"/><path stroke="#660075" d="M577 9h1"/><path stroke="#540060" d="M578 9h1"/><path stroke="#3c0045" d="M579 9h1"/><path stroke="#300036" d="M580 9h1"/><path stroke="#210024" d="M581 9h1"/><path stroke="#150018" d="M582 9h1"/><path stroke="#0c000c" d="M583 9h1"/><path stroke="#060009" d="M584 9h1"/><path stroke="#000000" d="M585 9h10"/></g>
<g transform="translate(0,362.545)"><path stroke="#ffc600" d="M328 9h1"/><path stroke="#810093" d="M329 9h1"/><path stroke="#300036" d="M330 9h3"/><path stroke="#24002a" d="M333 9h35"/><path stroke="#300036" d="M368 9h1"/><path stroke="#3c0045" d="M369 9h1"/><path stroke="#4e005a" d="M370 9h1"/><path stroke="#720081" d="M371 9h1"/><path stroke="#7b008d" d="M372 9h1"/><path stroke="#810090" d="M373 9h1"/><path stroke="#810093" d="M374 9h2"/><path stroke="#660075" d="M376 9h1"/><path stroke="#5a0066" d="M377 9h1"/><path stroke="#810093" d="M378 9h2"/><path stroke="#5a0066" d="M380 9h1"/><path stroke="#4b0054" d="M381 9h3"/><path stroke="#810093" d="M384 9h4"/><path stroke="#6f007e" d="M388 9h1"/><path stroke="#3000a5" d="M389 9h1"/><path stroke="#0000de" d="M390 9h2"/><path stroke="#2100cc" d="M392 9h1"/><path stroke="#810093" d="M393 9h3"/><path stroke="#750084" d="M396 9h1"/><path stroke="#4b0054" d="M397 9h4"/><path stroke="#63006f" d="M401 9h1"/><path stroke="#7b008a" d="M402 9h4"/><path stroke="#63006f" d="M406 9h1"/><path stroke="#4b0054" d="M407 9h4"/><path stroke="#810093" d="M411 9h1"/><path stroke="#750084" d="M412 9h1"/><path stroke="#4b0054" d="M413 9h3"/><path stroke="#660075" d="M416 9h1"/><path stroke="#810093" d="M417 9h1"/><path stroke="#4200b7" d="M418 9h1"/><path stroke="#0000de" d="M419 9h2"/><path stroke="#810093" d="M421 9h3"/><path stroke="#4b0054" d="M424 9h2"/><path stroke="#5d0078" d="M426 9h1"/><path stroke="#6c009c" d="M427 9h3"/><path stroke="#810093" d="M430 9h7"/><path stroke="#6000a5" d="M437 9h1"/><path stroke="#0000de" d="M438 9h2"/><path stroke="#4200b7" d="M440 9h1"/><path stroke="#810093" d="M441 9h5"/><path stroke="#6f0081" d="M446 9h7"/><path stroke="#810093" d="M453 9h5"/><path stroke="#5d006c" d="M458 9h4"/><path stroke="#810093" d="M462 9h6"/><path stroke="#42004b" d="M468 9h10"/><path stroke="#810093" d="M478 9h6"/><path stroke="#5d006c" d="M484 9h2"/><path stroke="#810093" d="M486 9h2"/><path stroke="#540060" d="M488 9h5"/><path stroke="#660075" d="M493 9h1"/><path stroke="#7b008a" d="M494 9h1"/><path stroke="#540060" d="M495 9h5"/><path stroke="#7b008a" d="M500 9h1"/><path stroke="#660075" d="M501 9h1"/><path stroke="#540060" d="M502 9h2"/><path stroke="#660075" d="M504 9h1"/><path stroke="#7b008a" d="M505 9h1"/><path stroke="#540060" d="M506 9h5"/><path stroke="#7b008a" d="M511 9h1"/><path stroke="#660075" d="M512 9h1"/><path stroke="#540060" d="M513 9h4"/><path stroke="#7b008a" d="M517 9h1"/><path stroke="#660075" d="M518 9h1"/><path stroke="#540060" d="M519 9h5"/><path stroke="#6f0081" d="M524 9h1"/><path stroke="#540060" d="M525 9h6"/><path stroke="#78008a" d="M531 9h4"/><path stroke="#660075" d="M535 9h1"/><path stroke="#540060" d="M536 9h4"/><path stroke="#6f0081" d="M540 9h1"/><path stroke="#540060" d="M541 9h4"/><path stroke="#7b008a" d="M545 9h1"/><path stroke="#660075" d="M546 9h1"/><path stroke="#540060" d="M547 9h4"/><path stroke="#780087" d="M551 9h1"/><path stroke="#2400a5" d="M552 9h1"/><path stroke="#57008d" d="M553 9h1"/><path stroke="#540060" d="M554 9h3"/><path stroke="#660075" d="M557 9h1"/><path stroke="#7b008a" d="M558 9h1"/><path stroke="#540060" d="M559 9h5"/><path stroke="#78008a" d="M564 9h1"/><path stroke="#660075" d="M565 9h1"/><path stroke="#540060" d="M566 9h5"/><path stroke="#5d006c" d="M571 9h1"/><path stroke="#660075" d="M572 9h1"/><path stroke="#540060" d="M573 9h1"/><path stroke="#4b0054" d="M574 9h1"/><path stroke="#3f0048" d="M575 9h1"/><path stroke="#36003c" d="M576 9h1"/><path stroke="#2d0033" d="M577 9h1"/><path stroke="#240027" d="M578 9h1"/><path stroke="#18001b" d="M579 9h1"/><path stroke="#120015" d="M580 9h1"/><path stroke="#0c000c" d="M581 9h1"/><path stroke="#09000c" d="M582 9h1"/><path stroke="#060009" d="M583 9h1"/><path stroke="#000000" d="M584 9h11"/></g>
<g transform="translate(0,379.273)"><path stroke="#ffc600" d="M328 9h1"/><path stroke="#810093" d="M329 9h1"/><path stroke="#300036" d="M330 9h3"/><path stroke="#24002a" d="M333 9h37"/><path stroke="#27002d" d="M370 9h1"/><path stroke="#39003f" d="M371 9h1"/><path stroke="#51005d" d="M372 9h1"/><path stroke="#6f007e" d="M373 9h1"/><path stroke="#7b008a" d="M374 9h1"/><path stroke="#7e0090" d="M375 9h1"/><path stroke="#810093" d="M376 9h1"/><path stroke="#840096" d="M377 9h1"/><path stroke="#870099" d="M378 9h4"/><path stroke="#75009c" d="M382 9h1"/><path stroke="#4200a2" d="M383 9h3"/><path stroke="#870099" d="M386 9h2"/><path stroke="#0000c3" d="M388 9h1"/><path stroke="#007bde" d="M389 9h1"/><path stroke="#0090de" d="M390 9h3"/><path stroke="#00a2ba" d="M393 9h1"/><path stroke="#00ab9f" d="M394 9h1"/><path stroke="#00ab9c" d="M395 9h1"/><path stroke="#00a88a" d="M396 9h1"/><path stroke="#009906" d="M397 9h1"/><path stroke="#009c00" d="M398 9h1"/><path stroke="#009f00" d="M399 9h3"/><path stroke="#00a200" d="M402 9h1"/><path stroke="#00a500" d="M403 9h3"/><path stroke="#009fae" d="M406 9h1"/><path stroke="#007ede" d="M407 9h1"/><path stroke="#00a800" d="M408 9h1"/><path stroke="#00a857" d="M409 9h1"/><path stroke="#00a81e" d="M410 9h1"/><path stroke="#00a800" d="M411 9h1"/><path stroke="#00a2c0" d="M412 9h1"/><path stroke="#00a560" d="M413 9h1"/><path stroke="#00a800" d="M414 9h5"/><path stroke="#00a84e" d="M419 9h1"/><path stroke="#00ab9c" d="M420 9h1"/><path stroke="#0093de" d="M421 9h2"/><path stroke="#009fbd" d="M423 9h1"/><path stroke="#00ab9c" d="M424 9h1"/><path stroke="#009c1e" d="M425 9h1"/><path stroke="#00ab0f" d="M426 9h1"/><path stroke="#00ba00" d="M427 9h3"/><path stroke="#00d800" d="M430 9h1"/><path stroke="#00db00" d="M431 9h1"/><path stroke="#00ae00" d="M432 9h1"/><path stroke="#00a800" d="M433 9h5"/><path stroke="#00ab00" d="M438 9h1"/><path stroke="#00ba00" d="M439 9h1"/><path stroke="#00bd00" d="M440 9h12"/><path stroke="#00c000" d="M452 9h3"/><path stroke="#00c300" d="M455 9h1"/><path stroke="#00c900" d="M456 9h1"/><path stroke="#00cf00" d="M457 9h1"/><path stroke="#00d500" d="M458 9h1"/><path stroke="#00db00" d="M459 9h2"/><path stroke="#00de00" d="M461 9h1"/><path stroke="#00e100" d="M462 9h2"/><path stroke="#00e400" d="M464 9h2"/><path stroke="#00e100" d="M466 9h3"/><path stroke="#00de00" d="M469 9h3"/><path stroke="#00db00" d="M472 9h1"/><path stroke="#00d500" d="M473 9h1"/><path stroke="#00cf00" d="M474 9h1"/><path stroke="#00c900" d="M475 9h1"/><path stroke="#00c300" d="M476 9h6"/><path stroke="#00c000" d="M482 9h4"/><path stroke="#00bd00" d="M486 9h4"/><path stroke="#00b700" d="M490 9h1"/><path stroke="#00ae00" d="M491 9h1"/><path stroke="#00a800" d="M492 9h1"/><path stroke="#009f00" d="M493 9h1"/><path stroke="#009c03" d="M494 9h1"/><path stroke="#009f2d" d="M495 9h1"/><path stroke="#00a569" d="M496 9h1"/><path stroke="#00ab87" d="M497 9h1"/><path stroke="#00ab90" d="M498 9h1"/><path stroke="#00ab96" d="M499 9h1"/><path stroke="#00ab99" d="M500 9h1"/><path stroke="#00ab9c" d="M501 9h1"/><path stroke="#00aba2" d="M502 9h1"/><path stroke="#00aba8" d="M503 9h1"/><path stroke="#00a8ae" d="M504 9h1"/><path stroke="#00a5ba" d="M505 9h1"/><path stroke="#00a2c3" d="M506 9h1"/><path stroke="#009fcc" d="M507 9h1"/><path stroke="#009cd2" d="M508 9h1"/><path stroke="#0099d8" d="M509 9h1"/><path stroke="#0096de" d="M510 9h1"/><path stroke="#0093de" d="M511 9h2"/><path stroke="#008dde" d="M513 9h2"/><path stroke="#008ade" d="M515 9h1"/><path stroke="#0087de" d="M516 9h1"/><path stroke="#0081de" d="M517 9h1"/><path stroke="#007ede" d="M518 9h1"/><path stroke="#007bde" d="M519 9h1"/><path stroke="#0066de" d="M520 9h1"/><path stroke="#0033de" d="M521 9h1"/><path stroke="#001bde" d="M522 9h1"/><path stroke="#0006de" d="M523 9h1"/><path stroke="#0000db" d="M524 9h1"/><path stroke="#0000d8" d="M525 9h1"/><path stroke="#0048db" d="M526 9h1"/><path stroke="#008dde" d="M527 9h1"/><path stroke="#0048d8" d="M528 9h1"/><path stroke="#0000d5" d="M529 9h2"/><path stroke="#008ade" d="M531 9h2"/><path stroke="#0024de" d="M533 9h3"/><path stroke="#0057de" d="M536 9h1"/><path stroke="#0087de" d="M537 9h2"/><path stroke="#0000d2" d="M539 9h2"/><path stroke="#0099de" d="M541 9h2"/><path stroke="#0000d2" d="M543 9h3"/><path stroke="#008ade" d="M546 9h2"/><path stroke="#0000cf" d="M548 9h1"/><path stroke="#0000cc" d="M549 9h8"/><path stroke="#0000c6" d="M557 9h1"/><path stroke="#0000c3" d="M558 9h1"/><path stroke="#0000c0" d="M559 9h1"/><path stroke="#0000ba" d="M560 9h1"/><path stroke="#0000b4" d="M561 9h1"/><path stroke="#0000ab" d="M562 9h1"/><path stroke="#0f00a8" d="M563 9h1"/><path stroke="#2d00a5" d="M564 9h1"/><path stroke="#4800a2" d="M565 9h1"/><path stroke="#5a009f" d="M566 9h1"/><path stroke="#6c009c" d="M567 9h1"/><path stroke="#7e0099" d="M568 9h1"/><path stroke="#840099" d="M569 9h2"/><path stroke="#870099" d="M571 9h2"/><path stroke="#870096" d="M573 9h1"/><path stroke="#840096" d="M574 9h1"/><path stroke="#810093" d="M575 9h1"/><path stroke="#7e0090" d="M576 9h1"/><path stroke="#78008a" d="M577 9h1"/><path stroke="#660075" d="M578 9h1"/><path stroke="#4e005a" d="M579 9h1"/><path stroke="#3c0045" d="M580 9h1"/><path stroke="#2d0033" d="M581 9h1"/><path stroke="#240027" d="M582 9h1"/><path stroke="#1b001e" d="M583 9h1"/><path stroke="#0f0012" d="M584 9h1"/><path stroke="#09000c" d="M585 9h1"/><path stroke="#030003" d="M586 9h1"/><path stroke="#000000" d="M587 9h8"/></g>
</g>
<g class="ln">
<polyline points="328.2,92.5 328.2,298.0 329.3,300.0 333.5,301.1 340.0,301.2 355.0,301.5 366.0,301.3 369.5,300.0 371.5,295.0 372.8,290.0 374.0,276.0 376.5,262.0 379.0,259.8 380.3,273.0 381.5,286.0 383.5,268.0 385.9,254.8 387.0,256.0 387.8,283.5 389.0,262.0 390.0,236.0 390.6,193.5 391.4,193.5 392.3,236.0 394.6,236.0 396.0,248.5 397.8,265.4 400.0,252.0 401.5,244.8 403.4,243.5 405.3,247.0 406.5,266.0 407.8,286.0 409.6,262.0 411.5,243.5 413.4,241.0 414.0,267.0 415.3,250.0 416.5,236.0 419.8,195.0 421.2,195.0 422.8,236.0 424.0,255.0 425.2,269.8 427.0,253.0 429.0,246.0 431.5,242.0 433.0,232.0 434.0,206.0 436.5,203.0 438.7,173.0 439.9,173.0 441.8,200.0 443.4,209.0" stroke-width="3.0"/>
<polyline points="426.0,262.0 428.0,250.0 430.5,246.0 432.5,238.0 433.5,214.0 436.5,207.0 437.6,190.0" stroke-width="2.6"/>
<polyline points="427.5,258.0 429.5,249.0 432.0,243.0 434.0,228.0 435.0,210.0 437.0,202.0 438.0,186.0" stroke-width="2.6"/>
<polyline points="373.5,290.0 375.0,272.0 377.5,263.0 379.5,264.0 381.0,288.0 383.0,272.0 385.0,259.0 386.5,258.0 387.5,284.0" stroke-width="2.6"/>
<polygon points="373.2,291.0 374.0,278.0 375.5,266.0 377.5,260.0 379.5,259.5 381.0,270.0 382.0,287.0 383.5,293.0 381.0,295.5 378.5,294.0 377.0,291.0" style="fill:#fff;stroke:none"/>
<polygon points="383.0,284.0 384.0,268.0 385.5,256.0 387.0,254.5 388.2,262.0 388.6,284.0 386.0,287.0" style="fill:#fff;stroke:none"/>
<polyline points="443.4,209.9 444.9,207.7 446.4,206.5 447.9,203.8 449.4,203.7 450.9,201.9 452.4,202.9 453.9,196.5 455.4,194.6 456.9,192.0 458.4,186.5 459.9,182.4 461.4,179.8 462.9,178.9 464.4,178.8 465.9,180.1 467.4,183.4 468.9,183.7 470.4,193.0 471.9,198.0 473.4,199.1 474.9,198.9 476.4,199.9 477.9,199.9 479.4,199.3 480.9,196.6 482.4,197.0 483.9,196.8 485.4,198.7 486.9,197.5 488.4,195.9 489.9,199.9 491.4,203.7 492.9,214.8 494.4,220.8 495.9,224.4 497.4,230.3 498.9,234.9 500.4,238.4 501.9,242.6 503.4,244.7 504.9,247.7 506.4,249.3 507.9,253.6 509.4,252.4 510.9,255.9 512.4,258.0 513.9,257.4 515.4,260.0 516.9,261.7 518.4,264.1 519.9,265.9 521.4,266.0 522.9,266.6 524.4,270.1 525.9,271.5" stroke-width="2.5"/>
<polyline points="443.4,212.2 444.9,210.5 446.4,209.3 447.9,208.9 449.4,204.2 450.9,204.3 452.4,203.4 453.9,204.0 455.4,196.1 456.9,194.0 458.4,195.1 459.9,186.2 461.4,182.2 462.9,178.9 464.4,179.8 465.9,179.5 467.4,188.4 468.9,187.2 470.4,193.4 471.9,201.3 473.4,201.2 474.9,202.1 476.4,201.7 477.9,199.3 479.4,198.7 480.9,197.0 482.4,197.3 483.9,196.3 485.4,195.4 486.9,204.2 488.4,205.4 489.9,207.6 491.4,210.5 492.9,217.2 494.4,223.5 495.9,227.3 497.4,232.0 498.9,235.3 500.4,241.0 501.9,242.5 503.4,245.0 504.9,249.2 506.4,250.6 507.9,252.4 509.4,255.1 510.9,257.2 512.4,258.4 513.9,259.9 515.4,263.7 516.9,263.1 518.4,265.3 519.9,264.3 521.4,267.2 522.9,268.8 524.4,269.5 525.9,270.6" stroke-width="2.5"/>
<polyline points="443.4,215.1 444.9,212.5 446.4,210.0 447.9,212.0 449.4,209.2 450.9,210.1 452.4,202.9 453.9,202.0 455.4,201.9 456.9,194.1 458.4,189.6 459.9,187.3 461.4,188.0 462.9,182.8 464.4,184.8 465.9,185.8 467.4,190.4 468.9,188.2 470.4,191.7 471.9,197.5 473.4,199.1 474.9,199.7 476.4,201.1 477.9,202.0 479.4,199.4 480.9,198.2 482.4,200.0 483.9,201.9 485.4,203.0 486.9,202.3 488.4,200.1 489.9,201.3 491.4,203.4 492.9,213.3 494.4,224.7 495.9,228.3 497.4,232.4 498.9,237.0 500.4,240.2 501.9,244.0 503.4,247.0 504.9,249.1 506.4,251.5 507.9,254.5 509.4,255.9 510.9,257.6 512.4,257.3 513.9,260.3 515.4,261.8 516.9,263.1 518.4,265.1 519.9,267.7 521.4,267.7 522.9,269.4 524.4,269.8 525.9,271.3" stroke-width="2.5"/>
<polyline points="443.4,216.7 444.9,214.4 446.4,212.5 447.9,210.7 449.4,206.6 450.9,204.9 452.4,203.2 453.9,205.7 455.4,203.7 456.9,204.3 458.4,194.2 459.9,190.9 461.4,187.8 462.9,185.6 464.4,188.4 465.9,192.3 467.4,192.1 468.9,190.1 470.4,196.8 471.9,204.5 473.4,201.9 474.9,203.5 476.4,202.8 477.9,203.0 479.4,202.2 480.9,199.6 482.4,197.5 483.9,198.7 485.4,200.3 486.9,204.1 488.4,201.6 489.9,207.5 491.4,214.0 492.9,222.1 494.4,226.9 495.9,228.8 497.4,234.4 498.9,237.5 500.4,242.3 501.9,244.3 503.4,248.1 504.9,250.3 506.4,252.9 507.9,254.9 509.4,256.3 510.9,258.3 512.4,260.2 513.9,261.3 515.4,263.4 516.9,264.2 518.4,266.0 519.9,268.5 521.4,268.4 522.9,270.0 524.4,270.6 525.9,272.5" stroke-width="2.5"/>
<polyline points="443.4,220.5 444.9,217.8 446.4,218.5 447.9,213.7 449.4,211.7 450.9,212.3 452.4,210.1 453.9,208.8 455.4,209.4 456.9,203.6 458.4,202.6 459.9,201.0 461.4,198.9 462.9,194.0 464.4,196.3 465.9,194.4 467.4,197.3 468.9,195.0 470.4,203.7 471.9,205.0 473.4,209.3 474.9,211.0 476.4,210.9 477.9,207.3 479.4,205.4 480.9,202.6 482.4,200.5 483.9,201.3 485.4,202.4 486.9,205.5 488.4,208.9 489.9,210.8 491.4,217.0 492.9,225.3 494.4,227.4 495.9,231.5 497.4,236.0 498.9,238.1 500.4,241.3 501.9,245.2 503.4,248.9 504.9,250.3 506.4,253.0 507.9,255.8 509.4,257.1 510.9,259.2 512.4,261.3 513.9,261.8 515.4,263.0 516.9,265.2 518.4,266.2 519.9,267.0 521.4,268.3 522.9,269.5 524.4,273.1 525.9,273.1" stroke-width="2.5"/>
<polyline points="443.4,222.0 444.9,220.5 446.4,216.7 447.9,213.2 449.4,213.4 450.9,213.4 452.4,217.0 453.9,213.2 455.4,210.1 456.9,203.7 458.4,200.9 459.9,195.5 461.4,197.1 462.9,200.9 464.4,194.0 465.9,196.3 467.4,195.4 468.9,197.5 470.4,203.8 471.9,202.2 473.4,206.0 474.9,206.9 476.4,207.3 477.9,203.9 479.4,202.1 480.9,201.1 482.4,197.6 483.9,200.5 485.4,203.4 486.9,205.3 488.4,208.9 489.9,209.7 491.4,217.8 492.9,223.7 494.4,229.2 495.9,234.7 497.4,236.3 498.9,238.5 500.4,243.4 501.9,245.6 503.4,250.1 504.9,251.9 506.4,252.9 507.9,256.1 509.4,257.4 510.9,259.2 512.4,260.8 513.9,261.1 515.4,263.9 516.9,264.7 518.4,266.3 519.9,268.9 521.4,271.0 522.9,270.6 524.4,273.6 525.9,272.3" stroke-width="2.5"/>
<polyline points="443.4,224.3 444.9,222.1 446.4,220.2 447.9,218.2 449.4,217.4 450.9,221.6 452.4,217.0 453.9,209.5 455.4,203.9 456.9,205.9 458.4,206.4 459.9,200.0 461.4,199.5 462.9,195.3 464.4,195.3 465.9,191.9 467.4,196.1 468.9,202.2 470.4,203.7 471.9,208.4 473.4,208.4 474.9,207.3 476.4,207.5 477.9,207.8 479.4,208.6 480.9,205.5 482.4,203.2 483.9,204.3 485.4,206.5 486.9,212.8 488.4,214.5 489.9,213.3 491.4,217.5 492.9,227.3 494.4,232.1 495.9,234.5 497.4,237.5 498.9,240.5 500.4,243.5 501.9,245.8 503.4,250.5 504.9,252.6 506.4,254.8 507.9,256.1 509.4,257.8 510.9,258.7 512.4,261.9 513.9,263.7 515.4,264.9 516.9,266.0 518.4,266.9 519.9,269.0 521.4,270.4 522.9,272.2 524.4,273.6 525.9,274.2" stroke-width="2.5"/>
<polyline points="443.4,226.2 444.9,225.4 446.4,224.6 447.9,217.6 449.4,220.8 450.9,221.7 452.4,220.3 453.9,219.2 455.4,220.0 456.9,218.3 458.4,212.6 459.9,205.6 461.4,206.8 462.9,202.3 464.4,199.9 465.9,197.0 467.4,205.5 468.9,206.4 470.4,209.5 471.9,210.1 473.4,212.2 474.9,209.7 476.4,209.6 477.9,211.4 479.4,207.9 480.9,206.2 482.4,203.1 483.9,205.1 485.4,210.0 486.9,213.6 488.4,213.7 489.9,214.2 491.4,220.7 492.9,229.5 494.4,232.1 495.9,236.7 497.4,238.5 498.9,242.7 500.4,244.1 501.9,247.5 503.4,249.6 504.9,254.9 506.4,255.4 507.9,258.0 509.4,259.3 510.9,261.0 512.4,263.2 513.9,264.0 515.4,265.2 516.9,267.6 518.4,267.4 519.9,270.5 521.4,272.1 522.9,271.4 524.4,273.9 525.9,274.1" stroke-width="2.5"/>
<polyline points="443.4,227.0 444.9,226.8 446.4,228.0 447.9,224.3 449.4,222.2 450.9,218.9 452.4,219.1 453.9,222.5 455.4,218.9 456.9,217.4 458.4,207.8 459.9,205.8 461.4,201.4 462.9,201.1 464.4,202.3 465.9,201.3 467.4,206.7 468.9,205.2 470.4,209.0 471.9,213.6 473.4,214.1 474.9,215.3 476.4,212.8 477.9,211.1 479.4,210.0 480.9,206.3 482.4,203.6 483.9,208.3 485.4,210.4 486.9,209.9 488.4,211.7 489.9,217.1 491.4,220.1 492.9,231.6 494.4,234.8 495.9,237.2 497.4,240.2 498.9,244.0 500.4,246.1 501.9,250.1 503.4,252.5 504.9,254.6 506.4,257.2 507.9,259.0 509.4,259.4 510.9,261.5 512.4,263.6 513.9,264.0 515.4,265.6 516.9,266.6 518.4,270.2 519.9,269.5 521.4,271.0 522.9,272.4 524.4,275.0 525.9,276.4" stroke-width="2.5"/>
<polyline points="443.4,230.4 444.9,230.2 446.4,226.7 447.9,228.3 449.4,225.4 450.9,223.6 452.4,218.5 453.9,220.0 455.4,219.3 456.9,218.7 458.4,217.4 459.9,214.5 461.4,209.7 462.9,204.7 464.4,200.9 465.9,201.8 467.4,203.9 468.9,208.5 470.4,210.2 471.9,214.9 473.4,212.8 474.9,215.0 476.4,212.9 477.9,213.4 479.4,211.6 480.9,209.6 482.4,206.2 483.9,208.2 485.4,210.8 486.9,212.5 488.4,216.8 489.9,218.8 491.4,224.1 492.9,227.3 494.4,235.6 495.9,239.9 497.4,243.1 498.9,244.1 500.4,245.7 501.9,250.1 503.4,252.9 504.9,254.9 506.4,257.7 507.9,259.7 509.4,260.4 510.9,263.2 512.4,263.8 513.9,264.8 515.4,266.5 516.9,269.3 518.4,271.1 519.9,272.1 521.4,272.1 522.9,273.0 524.4,275.2 525.9,276.2" stroke-width="2.5"/>
<polyline points="526.5,274.0 527.3,230.0 528.0,188.0 529.0,188.0 529.8,240.0 531.0,262.0 532.0,220.0 532.8,183.0 533.8,183.0 534.6,220.0 535.8,245.0 537.0,225.0 537.8,187.0 538.6,187.0 539.3,212.0 540.0,200.0 540.9,176.0 542.3,176.0 543.4,215.0 545.0,262.0 546.5,240.0 548.0,221.0 549.5,240.0 550.5,274.0 552.0,250.0 553.3,226.0 554.5,262.0 556.0,250.0 557.3,213.0 558.5,213.0 559.3,274.0 561.5,268.0 564.0,284.0 566.5,271.0 569.0,291.5 571.0,280.0 572.5,266.5 574.0,282.0 576.8,298.5 580.0,301.0 583.0,303.0 588.0,305.0 595.5,306.5" stroke-width="2.8"/>
<polyline points="528.5,215.0 528.5,276.0" stroke-width="3.4"/>
<polyline points="533.3,205.0 533.3,270.0" stroke-width="3.6"/>
<polyline points="541.5,200.0 541.5,272.0" stroke-width="3.6"/>
<polyline points="536.5,252.0 536.5,272.0" stroke-width="3.0"/>
<polyline points="548.0,232.0 548.0,276.0" stroke-width="3.4"/>
<polyline points="553.3,240.0 553.3,276.0" stroke-width="3.0"/>
<polyline points="557.9,225.0 557.9,276.0" stroke-width="3.0"/>
<polyline points="391.0,215.0 391.0,240.0 393.3,240.0" stroke-width="4.2"/>
<polyline points="420.5,215.0 420.5,250.0" stroke-width="3.8"/>
<polygon points="436.8,216.0 437.6,200.0 438.4,180.0 438.9,172.5 439.7,172.5 440.3,180.0 441.3,200.0 442.5,214.0 441.0,222.0 438.0,222.0" style="fill:#fff;stroke:none"/>
</g>
<g filter="url(#gf)">
<rect x="350.3" y="283.00" width="5.5" height="1" fill="#fff"/>
<text x="358.9" y="288.80" font-size="13.89" fill="#fff">0</text>
<rect x="350.3" y="235.00" width="5.5" height="1" fill="#fff"/>
<text x="358.9" y="240.80" font-size="13.89" fill="#fff">5</text>
<rect x="350.3" y="187.00" width="5.5" height="1" fill="#fff"/>
<text x="358.9" y="192.80" font-size="13.89" fill="#fff">10</text>
<rect x="350.3" y="139.00" width="5.5" height="1" fill="#fff"/>
<text x="358.9" y="144.80" font-size="13.89" fill="#fff">15</text>
<rect x="350.3" y="91.00" width="5.5" height="1" fill="#fff"/>
<text x="358.9" y="96.80" font-size="13.89" fill="#fff">20</text>
<rect x="350.3" y="43.00" width="5.5" height="1" fill="#fff"/>
<text x="358.9" y="48.80" font-size="13.89" fill="#fff">25</text>
</g>
</g>
<g filter="url(#gf)">
<text x="181.5" y="16.4" text-anchor="middle" font-size="16.67">34.8 (HexE8=1008) X</text>
<text x="462" y="16.4" text-anchor="middle" font-size="16.67">34.8 (HexE8=1008) Y</text>
<text x="32.4" y="41.86" text-anchor="end" font-size="13.89">On</text>
<text x="612" y="41.86" font-size="13.89">On</text>
<text x="32.4" y="58.59" text-anchor="end" font-size="13.89">Y</text>
<text x="612" y="58.59" font-size="13.89">Y</text>
<text x="32.4" y="75.32" text-anchor="end" font-size="13.89">Off</text>
<text x="612" y="75.32" font-size="13.89">Off</text>
<text x="32.4" y="92.05" text-anchor="end" font-size="13.89">P</text>
<text x="612" y="92.05" font-size="13.89">P</text>
<text x="32.4" y="108.77" text-anchor="end" font-size="13.89">O</text>
<text x="612" y="108.77" font-size="13.89">O</text>
<text x="32.4" y="125.50" text-anchor="end" font-size="13.89">N</text>
<text x="612" y="125.50" font-size="13.89">N</text>
<text x="32.4" y="142.23" text-anchor="end" font-size="13.89">M</text>
<text x="612" y="142.23" font-size="13.89">M</text>
<text x="32.4" y="158.95" text-anchor="end" font-size="13.89">L</text>
<text x="612" y="158.95" font-size="13.89">L</text>
<text x="32.4" y="175.68" text-anchor="end" font-size="13.89">K</text>
<text x="612" y="175.68" font-size="13.89">K</text>
<text x="32.4" y="192.41" text-anchor="end" font-size="13.89">J</text>
<text x="612" y="192.41" font-size="13.89">J</text>
<text x="32.4" y="209.14" text-anchor="end" font-size="13.89">I</text>
<text x="612" y="209.14" font-size="13.89">I</text>
<text x="32.4" y="225.86" text-anchor="end" font-size="13.89">H</text>
<text x="612" y="225.86" font-size="13.89">H</text>
<text x="32.4" y="242.59" text-anchor="end" font-size="13.89">G</text>
<text x="612" y="242.59" font-size="13.89">G</text>
<text x="32.4" y="259.32" text-anchor="end" font-size="13.89">F</text>
<text x="612" y="259.32" font-size="13.89">F</text>
<text x="32.4" y="276.05" text-anchor="end" font-size="13.89">E</text>
<text x="612" y="276.05" font-size="13.89">E</text>
<text x="32.4" y="292.77" text-anchor="end" font-size="13.89">D</text>
<text x="612" y="292.77" font-size="13.89">D</text>
<text x="32.4" y="309.50" text-anchor="end" font-size="13.89">C</text>
<text x="612" y="309.50" font-size="13.89">C</text>
<text x="32.4" y="326.23" text-anchor="end" font-size="13.89">B</text>
<text x="612" y="326.23" font-size="13.89">B</text>
<text x="32.4" y="342.95" text-anchor="end" font-size="13.89">A</text>
<text x="612" y="342.95" font-size="13.89">A</text>
<text x="32.4" y="359.68" text-anchor="end" font-size="13.89">Off</text>
<text x="612" y="359.68" font-size="13.89">Off</text>
<text x="32.4" y="376.41" text-anchor="end" font-size="13.89">X</text>
<text x="612" y="376.41" font-size="13.89">X</text>
<text x="32.4" y="393.14" text-anchor="end" font-size="13.89">On</text>
<text x="612" y="393.14" font-size="13.89">On</text>
<text transform="translate(2.9,218.5) rotate(-90)" text-anchor="middle" font-size="13.5">Dipole</text>
<rect x="48.80" y="408.3" width="1" height="5.2" fill="#000"/>
<text transform="translate(49.10,426.2) scale(1,1.3)" text-anchor="middle" font-size="8.33">0</text>
<rect x="89.00" y="408.3" width="1" height="5.2" fill="#000"/>
<text transform="translate(89.30,426.2) scale(1,1.3)" text-anchor="middle" font-size="8.33">50</text>
<rect x="129.90" y="408.3" width="1" height="5.2" fill="#000"/>
<text transform="translate(130.20,426.2) scale(1,1.3)" text-anchor="middle" font-size="8.33">100</text>
<rect x="170.80" y="408.3" width="1" height="5.2" fill="#000"/>
<text transform="translate(171.10,426.2) scale(1,1.3)" text-anchor="middle" font-size="8.33">150</text>
<rect x="211.00" y="408.3" width="1" height="5.2" fill="#000"/>
<text transform="translate(211.30,426.2) scale(1,1.3)" text-anchor="middle" font-size="8.33">200</text>
<rect x="252.00" y="408.3" width="1" height="5.2" fill="#000"/>
<text transform="translate(252.30,426.2) scale(1,1.3)" text-anchor="middle" font-size="8.33">250</text>
<rect x="293.00" y="408.3" width="1" height="5.2" fill="#000"/>
<text transform="translate(293.30,426.2) scale(1,1.3)" text-anchor="middle" font-size="8.33">300</text>
<rect x="329.00" y="408.3" width="1" height="5.2" fill="#000"/>
<text transform="translate(329.30,426.2) scale(1,1.3)" text-anchor="middle" font-size="8.33">0</text>
<rect x="369.80" y="408.3" width="1" height="5.2" fill="#000"/>
<text transform="translate(370.10,426.2) scale(1,1.3)" text-anchor="middle" font-size="8.33">50</text>
<rect x="410.10" y="408.3" width="1" height="5.2" fill="#000"/>
<text transform="translate(410.40,426.2) scale(1,1.3)" text-anchor="middle" font-size="8.33">100</text>
<rect x="451.00" y="408.3" width="1" height="5.2" fill="#000"/>
<text transform="translate(451.30,426.2) scale(1,1.3)" text-anchor="middle" font-size="8.33">150</text>
<rect x="491.80" y="408.3" width="1" height="5.2" fill="#000"/>
<text transform="translate(492.10,426.2) scale(1,1.3)" text-anchor="middle" font-size="8.33">200</text>
<rect x="532.00" y="408.3" width="1" height="5.2" fill="#000"/>
<text transform="translate(532.30,426.2) scale(1,1.3)" text-anchor="middle" font-size="8.33">250</text>
<rect x="573.00" y="408.3" width="1" height="5.2" fill="#000"/>
<text transform="translate(573.30,426.2) scale(1,1.3)" text-anchor="middle" font-size="8.33">300</text>
</g>
</svg>
</body></html>
